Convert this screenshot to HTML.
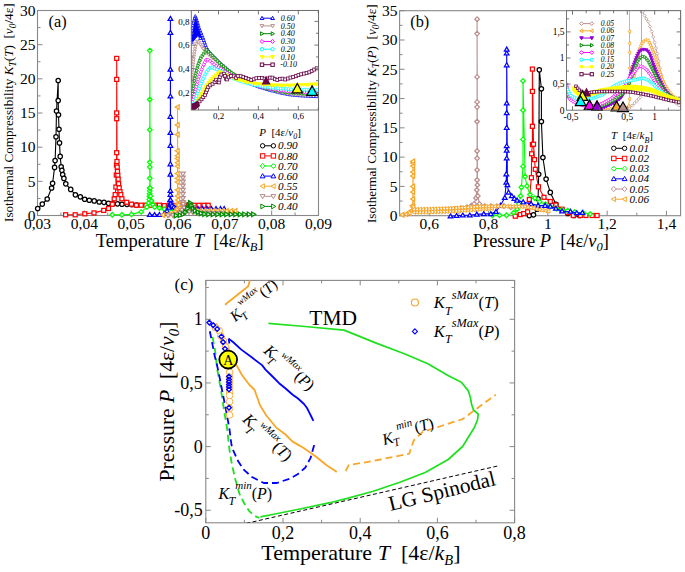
<!DOCTYPE html>
<html><head><meta charset="utf-8"><style>
html,body{margin:0;padding:0;background:#fff;}
svg{display:block;font-family:"Liberation Serif",serif;}
</style></head><body>
<svg width="685" height="572" viewBox="0 0 685 572">
<rect width="685" height="572" fill="#fff"/>
<rect x="37.5" y="10.5" width="281" height="205" fill="none" stroke="#888" stroke-width="1.1"/>
<line x1="37.5" y1="215.5" x2="37.5" y2="210.5" stroke="#888" stroke-width="1.0"/>
<line x1="84.33" y1="215.5" x2="84.33" y2="210.5" stroke="#888" stroke-width="1.0"/>
<line x1="131.17" y1="215.5" x2="131.17" y2="210.5" stroke="#888" stroke-width="1.0"/>
<line x1="178" y1="215.5" x2="178" y2="210.5" stroke="#888" stroke-width="1.0"/>
<line x1="224.83" y1="215.5" x2="224.83" y2="210.5" stroke="#888" stroke-width="1.0"/>
<line x1="271.67" y1="215.5" x2="271.67" y2="210.5" stroke="#888" stroke-width="1.0"/>
<line x1="318.5" y1="215.5" x2="318.5" y2="210.5" stroke="#888" stroke-width="1.0"/>
<line x1="60.92" y1="215.5" x2="60.92" y2="212.5" stroke="#888" stroke-width="1.0"/>
<line x1="107.75" y1="215.5" x2="107.75" y2="212.5" stroke="#888" stroke-width="1.0"/>
<line x1="154.58" y1="215.5" x2="154.58" y2="212.5" stroke="#888" stroke-width="1.0"/>
<line x1="201.42" y1="215.5" x2="201.42" y2="212.5" stroke="#888" stroke-width="1.0"/>
<line x1="248.25" y1="215.5" x2="248.25" y2="212.5" stroke="#888" stroke-width="1.0"/>
<line x1="295.08" y1="215.5" x2="295.08" y2="212.5" stroke="#888" stroke-width="1.0"/>
<line x1="37.5" y1="215.5" x2="42.5" y2="215.5" stroke="#888" stroke-width="1.0"/>
<line x1="37.5" y1="181.33" x2="42.5" y2="181.33" stroke="#888" stroke-width="1.0"/>
<line x1="37.5" y1="147.17" x2="42.5" y2="147.17" stroke="#888" stroke-width="1.0"/>
<line x1="37.5" y1="113" x2="42.5" y2="113" stroke="#888" stroke-width="1.0"/>
<line x1="37.5" y1="78.83" x2="42.5" y2="78.83" stroke="#888" stroke-width="1.0"/>
<line x1="37.5" y1="44.67" x2="42.5" y2="44.67" stroke="#888" stroke-width="1.0"/>
<line x1="37.5" y1="10.5" x2="42.5" y2="10.5" stroke="#888" stroke-width="1.0"/>
<line x1="37.5" y1="198.42" x2="40.5" y2="198.42" stroke="#888" stroke-width="1.0"/>
<line x1="37.5" y1="164.25" x2="40.5" y2="164.25" stroke="#888" stroke-width="1.0"/>
<line x1="37.5" y1="130.08" x2="40.5" y2="130.08" stroke="#888" stroke-width="1.0"/>
<line x1="37.5" y1="95.92" x2="40.5" y2="95.92" stroke="#888" stroke-width="1.0"/>
<line x1="37.5" y1="61.75" x2="40.5" y2="61.75" stroke="#888" stroke-width="1.0"/>
<line x1="37.5" y1="27.58" x2="40.5" y2="27.58" stroke="#888" stroke-width="1.0"/>
<text x="37.5" y="229.2" font-size="15.5" text-anchor="middle" fill="#000" >0,03</text>
<text x="84.33" y="229.2" font-size="15.5" text-anchor="middle" fill="#000" >0,04</text>
<text x="131.17" y="229.2" font-size="15.5" text-anchor="middle" fill="#000" >0,05</text>
<text x="178" y="229.2" font-size="15.5" text-anchor="middle" fill="#000" >0,06</text>
<text x="224.83" y="229.2" font-size="15.5" text-anchor="middle" fill="#000" >0,07</text>
<text x="271.67" y="229.2" font-size="15.5" text-anchor="middle" fill="#000" >0,08</text>
<text x="318.5" y="229.2" font-size="15.5" text-anchor="middle" fill="#000" >0,09</text>
<text x="35.6" y="220.8" font-size="15.5" text-anchor="end" fill="#000" >0</text>
<text x="35.6" y="186.63" font-size="15.5" text-anchor="end" fill="#000" >5</text>
<text x="35.6" y="152.47" font-size="15.5" text-anchor="end" fill="#000" >10</text>
<text x="35.6" y="118.3" font-size="15.5" text-anchor="end" fill="#000" >15</text>
<text x="35.6" y="84.13" font-size="15.5" text-anchor="end" fill="#000" >20</text>
<text x="35.6" y="49.97" font-size="15.5" text-anchor="end" fill="#000" >25</text>
<text x="35.6" y="15.8" font-size="15.5" text-anchor="end" fill="#000" >30</text>
<text x="95.8" y="246.7" font-size="18.5" text-anchor="start" fill="#000" >Temperature <tspan font-style="italic">T</tspan>&#160; [4ε/<tspan font-style="italic">k</tspan><tspan font-size="12.5" font-style="italic" dy="4">B</tspan><tspan dy="-4">]</tspan></text>
<text transform="translate(13.4,222) rotate(-90)" font-size="13.15">Isothermal Compressibility <tspan font-style="italic">K</tspan><tspan font-size="9.5" font-style="italic" dy="3">T</tspan><tspan dy="-3">(<tspan font-style="italic">T</tspan>)&#160; [<tspan font-style="italic">v</tspan></tspan><tspan font-size="9.5" font-style="italic" dy="3">0</tspan><tspan dy="-3">/4ε]</tspan></text>
<text x="48.6" y="27" font-size="16.3" text-anchor="start" fill="#000" >(a)</text>
<rect x="399.6" y="10.7" width="281" height="205" fill="none" stroke="#888" stroke-width="1.1"/>
<line x1="429.25" y1="215.7" x2="429.25" y2="210.7" stroke="#888" stroke-width="1.0"/>
<line x1="488.55" y1="215.7" x2="488.55" y2="210.7" stroke="#888" stroke-width="1.0"/>
<line x1="547.85" y1="215.7" x2="547.85" y2="210.7" stroke="#888" stroke-width="1.0"/>
<line x1="607.15" y1="215.7" x2="607.15" y2="210.7" stroke="#888" stroke-width="1.0"/>
<line x1="666.45" y1="215.7" x2="666.45" y2="210.7" stroke="#888" stroke-width="1.0"/>
<line x1="399.6" y1="215.7" x2="399.6" y2="212.7" stroke="#888" stroke-width="1.0"/>
<line x1="458.9" y1="215.7" x2="458.9" y2="212.7" stroke="#888" stroke-width="1.0"/>
<line x1="518.2" y1="215.7" x2="518.2" y2="212.7" stroke="#888" stroke-width="1.0"/>
<line x1="577.5" y1="215.7" x2="577.5" y2="212.7" stroke="#888" stroke-width="1.0"/>
<line x1="636.8" y1="215.7" x2="636.8" y2="212.7" stroke="#888" stroke-width="1.0"/>
<line x1="399.6" y1="215.7" x2="404.6" y2="215.7" stroke="#888" stroke-width="1.0"/>
<line x1="399.6" y1="186.41" x2="404.6" y2="186.41" stroke="#888" stroke-width="1.0"/>
<line x1="399.6" y1="157.13" x2="404.6" y2="157.13" stroke="#888" stroke-width="1.0"/>
<line x1="399.6" y1="127.84" x2="404.6" y2="127.84" stroke="#888" stroke-width="1.0"/>
<line x1="399.6" y1="98.56" x2="404.6" y2="98.56" stroke="#888" stroke-width="1.0"/>
<line x1="399.6" y1="69.27" x2="404.6" y2="69.27" stroke="#888" stroke-width="1.0"/>
<line x1="399.6" y1="39.99" x2="404.6" y2="39.99" stroke="#888" stroke-width="1.0"/>
<line x1="399.6" y1="10.7" x2="404.6" y2="10.7" stroke="#888" stroke-width="1.0"/>
<line x1="399.6" y1="201.06" x2="402.6" y2="201.06" stroke="#888" stroke-width="1.0"/>
<line x1="399.6" y1="171.77" x2="402.6" y2="171.77" stroke="#888" stroke-width="1.0"/>
<line x1="399.6" y1="142.49" x2="402.6" y2="142.49" stroke="#888" stroke-width="1.0"/>
<line x1="399.6" y1="113.2" x2="402.6" y2="113.2" stroke="#888" stroke-width="1.0"/>
<line x1="399.6" y1="83.91" x2="402.6" y2="83.91" stroke="#888" stroke-width="1.0"/>
<line x1="399.6" y1="54.63" x2="402.6" y2="54.63" stroke="#888" stroke-width="1.0"/>
<line x1="399.6" y1="25.34" x2="402.6" y2="25.34" stroke="#888" stroke-width="1.0"/>
<text x="429.25" y="229.4" font-size="15.5" text-anchor="middle" fill="#000" >0,6</text>
<text x="488.55" y="229.4" font-size="15.5" text-anchor="middle" fill="#000" >0,8</text>
<text x="547.85" y="229.4" font-size="15.5" text-anchor="middle" fill="#000" >1</text>
<text x="607.15" y="229.4" font-size="15.5" text-anchor="middle" fill="#000" >1,2</text>
<text x="666.45" y="229.4" font-size="15.5" text-anchor="middle" fill="#000" >1,4</text>
<text x="397.6" y="221" font-size="15.5" text-anchor="end" fill="#000" >0</text>
<text x="397.6" y="191.71" font-size="15.5" text-anchor="end" fill="#000" >5</text>
<text x="397.6" y="162.43" font-size="15.5" text-anchor="end" fill="#000" >10</text>
<text x="397.6" y="133.14" font-size="15.5" text-anchor="end" fill="#000" >15</text>
<text x="397.6" y="103.86" font-size="15.5" text-anchor="end" fill="#000" >20</text>
<text x="397.6" y="74.57" font-size="15.5" text-anchor="end" fill="#000" >25</text>
<text x="397.6" y="45.29" font-size="15.5" text-anchor="end" fill="#000" >30</text>
<text x="397.6" y="16" font-size="15.5" text-anchor="end" fill="#000" >35</text>
<text x="472.8" y="247.4" font-size="18.4" text-anchor="start" fill="#000" >Pressure <tspan font-style="italic">P</tspan>&#160; [4ε/<tspan font-style="italic">v</tspan><tspan font-size="12.5" font-style="italic" dy="4">0</tspan><tspan dy="-4">]</tspan></text>
<text transform="translate(376,223) rotate(-90)" font-size="13.1">Isothermal Compressibility <tspan font-style="italic">K</tspan><tspan font-size="9.5" font-style="italic" dy="3">T</tspan><tspan dy="-3">(<tspan font-style="italic">P</tspan>)&#160; [<tspan font-style="italic">v</tspan></tspan><tspan font-size="9.5" font-style="italic" dy="3">0</tspan><tspan dy="-3">/4ε]</tspan></text>
<text x="410.3" y="27" font-size="16.3" text-anchor="start" fill="#000" >(b)</text>
<rect x="205.8" y="280.4" width="308.8" height="242.4" fill="none" stroke="#888" stroke-width="1.1"/>
<line x1="205.8" y1="522.8" x2="205.8" y2="517.8" stroke="#888" stroke-width="1.0"/>
<line x1="205.8" y1="280.4" x2="205.8" y2="285.4" stroke="#888" stroke-width="1.0"/>
<line x1="283" y1="522.8" x2="283" y2="517.8" stroke="#888" stroke-width="1.0"/>
<line x1="283" y1="280.4" x2="283" y2="285.4" stroke="#888" stroke-width="1.0"/>
<line x1="360.2" y1="522.8" x2="360.2" y2="517.8" stroke="#888" stroke-width="1.0"/>
<line x1="360.2" y1="280.4" x2="360.2" y2="285.4" stroke="#888" stroke-width="1.0"/>
<line x1="437.4" y1="522.8" x2="437.4" y2="517.8" stroke="#888" stroke-width="1.0"/>
<line x1="437.4" y1="280.4" x2="437.4" y2="285.4" stroke="#888" stroke-width="1.0"/>
<line x1="514.6" y1="522.8" x2="514.6" y2="517.8" stroke="#888" stroke-width="1.0"/>
<line x1="514.6" y1="280.4" x2="514.6" y2="285.4" stroke="#888" stroke-width="1.0"/>
<line x1="244.4" y1="522.8" x2="244.4" y2="519.8" stroke="#888" stroke-width="1.0"/>
<line x1="244.4" y1="280.4" x2="244.4" y2="283.4" stroke="#888" stroke-width="1.0"/>
<line x1="321.6" y1="522.8" x2="321.6" y2="519.8" stroke="#888" stroke-width="1.0"/>
<line x1="321.6" y1="280.4" x2="321.6" y2="283.4" stroke="#888" stroke-width="1.0"/>
<line x1="398.8" y1="522.8" x2="398.8" y2="519.8" stroke="#888" stroke-width="1.0"/>
<line x1="398.8" y1="280.4" x2="398.8" y2="283.4" stroke="#888" stroke-width="1.0"/>
<line x1="476" y1="522.8" x2="476" y2="519.8" stroke="#888" stroke-width="1.0"/>
<line x1="476" y1="280.4" x2="476" y2="283.4" stroke="#888" stroke-width="1.0"/>
<line x1="205.8" y1="510.25" x2="210.8" y2="510.25" stroke="#888" stroke-width="1.0"/>
<line x1="514.6" y1="510.25" x2="509.6" y2="510.25" stroke="#888" stroke-width="1.0"/>
<line x1="205.8" y1="446.6" x2="210.8" y2="446.6" stroke="#888" stroke-width="1.0"/>
<line x1="514.6" y1="446.6" x2="509.6" y2="446.6" stroke="#888" stroke-width="1.0"/>
<line x1="205.8" y1="382.95" x2="210.8" y2="382.95" stroke="#888" stroke-width="1.0"/>
<line x1="514.6" y1="382.95" x2="509.6" y2="382.95" stroke="#888" stroke-width="1.0"/>
<line x1="205.8" y1="319.3" x2="210.8" y2="319.3" stroke="#888" stroke-width="1.0"/>
<line x1="514.6" y1="319.3" x2="509.6" y2="319.3" stroke="#888" stroke-width="1.0"/>
<line x1="205.8" y1="478.43" x2="208.8" y2="478.43" stroke="#888" stroke-width="1.0"/>
<line x1="514.6" y1="478.43" x2="511.6" y2="478.43" stroke="#888" stroke-width="1.0"/>
<line x1="205.8" y1="414.78" x2="208.8" y2="414.78" stroke="#888" stroke-width="1.0"/>
<line x1="514.6" y1="414.78" x2="511.6" y2="414.78" stroke="#888" stroke-width="1.0"/>
<line x1="205.8" y1="351.12" x2="208.8" y2="351.12" stroke="#888" stroke-width="1.0"/>
<line x1="514.6" y1="351.12" x2="511.6" y2="351.12" stroke="#888" stroke-width="1.0"/>
<line x1="205.8" y1="287.48" x2="208.8" y2="287.48" stroke="#888" stroke-width="1.0"/>
<line x1="514.6" y1="287.48" x2="511.6" y2="287.48" stroke="#888" stroke-width="1.0"/>
<text x="205.8" y="538.5" font-size="18" text-anchor="middle" fill="#000" >0</text>
<text x="283" y="538.5" font-size="18" text-anchor="middle" fill="#000" >0,2</text>
<text x="360.2" y="538.5" font-size="18" text-anchor="middle" fill="#000" >0,4</text>
<text x="437.4" y="538.5" font-size="18" text-anchor="middle" fill="#000" >0,6</text>
<text x="514.6" y="538.5" font-size="18" text-anchor="middle" fill="#000" >0,8</text>
<text x="202.8" y="516.35" font-size="18" text-anchor="end" fill="#000" >-0,5</text>
<text x="202.8" y="452.7" font-size="18" text-anchor="end" fill="#000" >0</text>
<text x="202.8" y="389.05" font-size="18" text-anchor="end" fill="#000" >0,5</text>
<text x="202.8" y="325.4" font-size="18" text-anchor="end" fill="#000" >1</text>
<text x="261.3" y="559.8" font-size="22" text-anchor="start" fill="#000" >Temperature <tspan font-style="italic">T</tspan>&#160; [4ε/<tspan font-style="italic">k</tspan><tspan font-size="14.5" font-style="italic" dy="5">B</tspan><tspan dy="-5">]</tspan></text>
<text transform="translate(174.2,481.5) rotate(-90)" font-size="21.6">Pressure <tspan font-style="italic">P</tspan>&#160; [4ε/<tspan font-style="italic">v</tspan><tspan font-size="15" font-style="italic" dy="5">0</tspan><tspan dy="-5">]</tspan></text>
<text x="174.6" y="289.6" font-size="17" text-anchor="start" fill="#000" >(c)</text>
<polyline points="37.7,208.5 42.3,204.1 47.2,199 51.6,188 52.6,183.3 54.6,167.4 55.1,160.6 56,136.8 56.5,111.1 58.2,80.5 58.2,100.6 58.5,114.8 59,129.2 59.5,142.9 60.2,156.4 61.2,166.7 61.9,170.3 62.7,174.5 63.9,178.4 65.8,183.8 70.7,189.4 75.4,194.8 80.3,196.8 84.7,199.2 89.3,200.2 94.2,200.9 99.2,202 104,202.3 108.5,203.3 112.7,203.7 117.5,203.8 122,204.2 127,204.3 131.8,204.6 136.5,205" fill="none" stroke="#000" stroke-width="1.1" stroke-linejoin="round" />
<circle cx="37.7" cy="208.5" r="2.2" fill="#fff" stroke="#000" stroke-width="1.25"/>
<circle cx="42.3" cy="204.1" r="2.2" fill="#fff" stroke="#000" stroke-width="1.25"/>
<circle cx="47.2" cy="199" r="2.2" fill="#fff" stroke="#000" stroke-width="1.25"/>
<circle cx="51.6" cy="188" r="2.2" fill="#fff" stroke="#000" stroke-width="1.25"/>
<circle cx="52.6" cy="183.3" r="2.2" fill="#fff" stroke="#000" stroke-width="1.25"/>
<circle cx="54.6" cy="167.4" r="2.2" fill="#fff" stroke="#000" stroke-width="1.25"/>
<circle cx="55.1" cy="160.6" r="2.2" fill="#fff" stroke="#000" stroke-width="1.25"/>
<circle cx="56" cy="136.8" r="2.2" fill="#fff" stroke="#000" stroke-width="1.25"/>
<circle cx="56.5" cy="111.1" r="2.2" fill="#fff" stroke="#000" stroke-width="1.25"/>
<circle cx="58.2" cy="80.5" r="2.2" fill="#fff" stroke="#000" stroke-width="1.25"/>
<circle cx="58.2" cy="100.6" r="2.2" fill="#fff" stroke="#000" stroke-width="1.25"/>
<circle cx="58.5" cy="114.8" r="2.2" fill="#fff" stroke="#000" stroke-width="1.25"/>
<circle cx="59" cy="129.2" r="2.2" fill="#fff" stroke="#000" stroke-width="1.25"/>
<circle cx="59.5" cy="142.9" r="2.2" fill="#fff" stroke="#000" stroke-width="1.25"/>
<circle cx="60.2" cy="156.4" r="2.2" fill="#fff" stroke="#000" stroke-width="1.25"/>
<circle cx="61.2" cy="166.7" r="2.2" fill="#fff" stroke="#000" stroke-width="1.25"/>
<circle cx="61.9" cy="170.3" r="2.2" fill="#fff" stroke="#000" stroke-width="1.25"/>
<circle cx="62.7" cy="174.5" r="2.2" fill="#fff" stroke="#000" stroke-width="1.25"/>
<circle cx="63.9" cy="178.4" r="2.2" fill="#fff" stroke="#000" stroke-width="1.25"/>
<circle cx="65.8" cy="183.8" r="2.2" fill="#fff" stroke="#000" stroke-width="1.25"/>
<circle cx="70.7" cy="189.4" r="2.2" fill="#fff" stroke="#000" stroke-width="1.25"/>
<circle cx="75.4" cy="194.8" r="2.2" fill="#fff" stroke="#000" stroke-width="1.25"/>
<circle cx="80.3" cy="196.8" r="2.2" fill="#fff" stroke="#000" stroke-width="1.25"/>
<circle cx="84.7" cy="199.2" r="2.2" fill="#fff" stroke="#000" stroke-width="1.25"/>
<circle cx="89.3" cy="200.2" r="2.2" fill="#fff" stroke="#000" stroke-width="1.25"/>
<circle cx="94.2" cy="200.9" r="2.2" fill="#fff" stroke="#000" stroke-width="1.25"/>
<circle cx="99.2" cy="202" r="2.2" fill="#fff" stroke="#000" stroke-width="1.25"/>
<circle cx="104" cy="202.3" r="2.2" fill="#fff" stroke="#000" stroke-width="1.25"/>
<circle cx="108.5" cy="203.3" r="2.2" fill="#fff" stroke="#000" stroke-width="1.25"/>
<circle cx="112.7" cy="203.7" r="2.2" fill="#fff" stroke="#000" stroke-width="1.25"/>
<circle cx="117.5" cy="203.8" r="2.2" fill="#fff" stroke="#000" stroke-width="1.25"/>
<circle cx="122" cy="204.2" r="2.2" fill="#fff" stroke="#000" stroke-width="1.25"/>
<circle cx="127" cy="204.3" r="2.2" fill="#fff" stroke="#000" stroke-width="1.25"/>
<circle cx="131.8" cy="204.6" r="2.2" fill="#fff" stroke="#000" stroke-width="1.25"/>
<circle cx="136.5" cy="205" r="2.2" fill="#fff" stroke="#000" stroke-width="1.25"/>
<polyline points="65.6,214.8 75.2,214.8 84.8,213.8 94,212.9 103.7,210.4 108.5,208.5 112.3,204.2 114.2,198.8 115.2,194.6 115.9,187 116.3,175 116.5,165 116.7,152.7 116.7,118.7 116.7,112.9 116.7,79.4 116.7,58.4 117,161.5 117.2,167.1 117.5,171.5 117.8,175.4 118.2,179.2 118.6,183.7 119.2,187.9 120,191.7 120.8,194.6 121.9,198.8 126.7,202.3 131.5,204.2 136.3,205.2 141.2,205.2 146,205.2 150.6,205.2 155,205.2 159.4,205.2 164.2,205.6 169,205.5 174,205.4 179,205.4 184,205.4 189,205.3 194,205.3 199,205.3 204,205.3 208.2,205.3" fill="none" stroke="#f00" stroke-width="1.1" stroke-linejoin="round" />
<rect x="63.6" y="212.8" width="4" height="4" fill="#fff" stroke="#f00" stroke-width="1.25"/>
<rect x="73.2" y="212.8" width="4" height="4" fill="#fff" stroke="#f00" stroke-width="1.25"/>
<rect x="82.8" y="211.8" width="4" height="4" fill="#fff" stroke="#f00" stroke-width="1.25"/>
<rect x="92" y="210.9" width="4" height="4" fill="#fff" stroke="#f00" stroke-width="1.25"/>
<rect x="101.7" y="208.4" width="4" height="4" fill="#fff" stroke="#f00" stroke-width="1.25"/>
<rect x="106.5" y="206.5" width="4" height="4" fill="#fff" stroke="#f00" stroke-width="1.25"/>
<rect x="110.3" y="202.2" width="4" height="4" fill="#fff" stroke="#f00" stroke-width="1.25"/>
<rect x="112.2" y="196.8" width="4" height="4" fill="#fff" stroke="#f00" stroke-width="1.25"/>
<rect x="113.2" y="192.6" width="4" height="4" fill="#fff" stroke="#f00" stroke-width="1.25"/>
<rect x="113.9" y="185" width="4" height="4" fill="#fff" stroke="#f00" stroke-width="1.25"/>
<rect x="114.3" y="173" width="4" height="4" fill="#fff" stroke="#f00" stroke-width="1.25"/>
<rect x="114.5" y="163" width="4" height="4" fill="#fff" stroke="#f00" stroke-width="1.25"/>
<rect x="114.7" y="150.7" width="4" height="4" fill="#fff" stroke="#f00" stroke-width="1.25"/>
<rect x="114.7" y="116.7" width="4" height="4" fill="#fff" stroke="#f00" stroke-width="1.25"/>
<rect x="114.7" y="110.9" width="4" height="4" fill="#fff" stroke="#f00" stroke-width="1.25"/>
<rect x="114.7" y="77.4" width="4" height="4" fill="#fff" stroke="#f00" stroke-width="1.25"/>
<rect x="114.7" y="56.4" width="4" height="4" fill="#fff" stroke="#f00" stroke-width="1.25"/>
<rect x="115" y="159.5" width="4" height="4" fill="#fff" stroke="#f00" stroke-width="1.25"/>
<rect x="115.2" y="165.1" width="4" height="4" fill="#fff" stroke="#f00" stroke-width="1.25"/>
<rect x="115.5" y="169.5" width="4" height="4" fill="#fff" stroke="#f00" stroke-width="1.25"/>
<rect x="115.8" y="173.4" width="4" height="4" fill="#fff" stroke="#f00" stroke-width="1.25"/>
<rect x="116.2" y="177.2" width="4" height="4" fill="#fff" stroke="#f00" stroke-width="1.25"/>
<rect x="116.6" y="181.7" width="4" height="4" fill="#fff" stroke="#f00" stroke-width="1.25"/>
<rect x="117.2" y="185.9" width="4" height="4" fill="#fff" stroke="#f00" stroke-width="1.25"/>
<rect x="118" y="189.7" width="4" height="4" fill="#fff" stroke="#f00" stroke-width="1.25"/>
<rect x="118.8" y="192.6" width="4" height="4" fill="#fff" stroke="#f00" stroke-width="1.25"/>
<rect x="119.9" y="196.8" width="4" height="4" fill="#fff" stroke="#f00" stroke-width="1.25"/>
<rect x="124.7" y="200.3" width="4" height="4" fill="#fff" stroke="#f00" stroke-width="1.25"/>
<rect x="129.5" y="202.2" width="4" height="4" fill="#fff" stroke="#f00" stroke-width="1.25"/>
<rect x="134.3" y="203.2" width="4" height="4" fill="#fff" stroke="#f00" stroke-width="1.25"/>
<rect x="139.2" y="203.2" width="4" height="4" fill="#fff" stroke="#f00" stroke-width="1.25"/>
<rect x="144" y="203.2" width="4" height="4" fill="#fff" stroke="#f00" stroke-width="1.25"/>
<rect x="148.6" y="203.2" width="4" height="4" fill="#fff" stroke="#f00" stroke-width="1.25"/>
<rect x="153" y="203.2" width="4" height="4" fill="#fff" stroke="#f00" stroke-width="1.25"/>
<rect x="157.4" y="203.2" width="4" height="4" fill="#fff" stroke="#f00" stroke-width="1.25"/>
<rect x="162.2" y="203.6" width="4" height="4" fill="#fff" stroke="#f00" stroke-width="1.25"/>
<rect x="167" y="203.5" width="4" height="4" fill="#fff" stroke="#f00" stroke-width="1.25"/>
<rect x="172" y="203.4" width="4" height="4" fill="#fff" stroke="#f00" stroke-width="1.25"/>
<rect x="177" y="203.4" width="4" height="4" fill="#fff" stroke="#f00" stroke-width="1.25"/>
<rect x="182" y="203.4" width="4" height="4" fill="#fff" stroke="#f00" stroke-width="1.25"/>
<rect x="187" y="203.3" width="4" height="4" fill="#fff" stroke="#f00" stroke-width="1.25"/>
<rect x="192" y="203.3" width="4" height="4" fill="#fff" stroke="#f00" stroke-width="1.25"/>
<rect x="197" y="203.3" width="4" height="4" fill="#fff" stroke="#f00" stroke-width="1.25"/>
<rect x="202" y="203.3" width="4" height="4" fill="#fff" stroke="#f00" stroke-width="1.25"/>
<rect x="206.2" y="203.3" width="4" height="4" fill="#fff" stroke="#f00" stroke-width="1.25"/>
<polyline points="112.3,214.8 121.9,214.8 131.5,214.4 141.2,211.9 146.9,207.1 148.5,203 149.3,199.4 149.5,196.5 149.6,193.7 149.7,190.8 149.8,187.9 149.8,178.3 149.8,167.1 149.8,162.3 149.8,129.8 149.8,99.5 149.8,50.6 150.1,188 150.5,196 151.5,201 152.8,204.5 154.6,207.1 159.4,208 164.2,209 169,209.5 174,210 179,210.3 184,210.6 189,210.8 194,211 199,211.2 204,211.4 209,211.6 214,211.8 219,212 224,212.2 229,212.4" fill="none" stroke="#0f0" stroke-width="1.1" stroke-linejoin="round" />
<polygon points="112.3,212.5 114.6,214.8 112.3,217.1 110,214.8" fill="#fff" stroke="#0f0" stroke-width="1.25"/>
<polygon points="121.9,212.5 124.2,214.8 121.9,217.1 119.6,214.8" fill="#fff" stroke="#0f0" stroke-width="1.25"/>
<polygon points="131.5,212.1 133.8,214.4 131.5,216.7 129.2,214.4" fill="#fff" stroke="#0f0" stroke-width="1.25"/>
<polygon points="141.2,209.6 143.5,211.9 141.2,214.2 138.9,211.9" fill="#fff" stroke="#0f0" stroke-width="1.25"/>
<polygon points="146.9,204.8 149.2,207.1 146.9,209.4 144.6,207.1" fill="#fff" stroke="#0f0" stroke-width="1.25"/>
<polygon points="148.5,200.7 150.8,203 148.5,205.3 146.2,203" fill="#fff" stroke="#0f0" stroke-width="1.25"/>
<polygon points="149.3,197.1 151.6,199.4 149.3,201.7 147,199.4" fill="#fff" stroke="#0f0" stroke-width="1.25"/>
<polygon points="149.5,194.2 151.8,196.5 149.5,198.8 147.2,196.5" fill="#fff" stroke="#0f0" stroke-width="1.25"/>
<polygon points="149.6,191.4 151.9,193.7 149.6,196 147.3,193.7" fill="#fff" stroke="#0f0" stroke-width="1.25"/>
<polygon points="149.7,188.5 152,190.8 149.7,193.1 147.4,190.8" fill="#fff" stroke="#0f0" stroke-width="1.25"/>
<polygon points="149.8,185.6 152.1,187.9 149.8,190.2 147.5,187.9" fill="#fff" stroke="#0f0" stroke-width="1.25"/>
<polygon points="149.8,176 152.1,178.3 149.8,180.6 147.5,178.3" fill="#fff" stroke="#0f0" stroke-width="1.25"/>
<polygon points="149.8,164.8 152.1,167.1 149.8,169.4 147.5,167.1" fill="#fff" stroke="#0f0" stroke-width="1.25"/>
<polygon points="149.8,160 152.1,162.3 149.8,164.6 147.5,162.3" fill="#fff" stroke="#0f0" stroke-width="1.25"/>
<polygon points="149.8,127.5 152.1,129.8 149.8,132.1 147.5,129.8" fill="#fff" stroke="#0f0" stroke-width="1.25"/>
<polygon points="149.8,97.2 152.1,99.5 149.8,101.8 147.5,99.5" fill="#fff" stroke="#0f0" stroke-width="1.25"/>
<polygon points="149.8,48.3 152.1,50.6 149.8,52.9 147.5,50.6" fill="#fff" stroke="#0f0" stroke-width="1.25"/>
<polygon points="150.1,185.7 152.4,188 150.1,190.3 147.8,188" fill="#fff" stroke="#0f0" stroke-width="1.25"/>
<polygon points="150.5,193.7 152.8,196 150.5,198.3 148.2,196" fill="#fff" stroke="#0f0" stroke-width="1.25"/>
<polygon points="151.5,198.7 153.8,201 151.5,203.3 149.2,201" fill="#fff" stroke="#0f0" stroke-width="1.25"/>
<polygon points="152.8,202.2 155.1,204.5 152.8,206.8 150.5,204.5" fill="#fff" stroke="#0f0" stroke-width="1.25"/>
<polygon points="154.6,204.8 156.9,207.1 154.6,209.4 152.3,207.1" fill="#fff" stroke="#0f0" stroke-width="1.25"/>
<polygon points="159.4,205.7 161.7,208 159.4,210.3 157.1,208" fill="#fff" stroke="#0f0" stroke-width="1.25"/>
<polygon points="164.2,206.7 166.5,209 164.2,211.3 161.9,209" fill="#fff" stroke="#0f0" stroke-width="1.25"/>
<polygon points="169,207.2 171.3,209.5 169,211.8 166.7,209.5" fill="#fff" stroke="#0f0" stroke-width="1.25"/>
<polygon points="174,207.7 176.3,210 174,212.3 171.7,210" fill="#fff" stroke="#0f0" stroke-width="1.25"/>
<polygon points="179,208 181.3,210.3 179,212.6 176.7,210.3" fill="#fff" stroke="#0f0" stroke-width="1.25"/>
<polygon points="184,208.3 186.3,210.6 184,212.9 181.7,210.6" fill="#fff" stroke="#0f0" stroke-width="1.25"/>
<polygon points="189,208.5 191.3,210.8 189,213.1 186.7,210.8" fill="#fff" stroke="#0f0" stroke-width="1.25"/>
<polygon points="194,208.7 196.3,211 194,213.3 191.7,211" fill="#fff" stroke="#0f0" stroke-width="1.25"/>
<polygon points="199,208.9 201.3,211.2 199,213.5 196.7,211.2" fill="#fff" stroke="#0f0" stroke-width="1.25"/>
<polygon points="204,209.1 206.3,211.4 204,213.7 201.7,211.4" fill="#fff" stroke="#0f0" stroke-width="1.25"/>
<polygon points="209,209.3 211.3,211.6 209,213.9 206.7,211.6" fill="#fff" stroke="#0f0" stroke-width="1.25"/>
<polygon points="214,209.5 216.3,211.8 214,214.1 211.7,211.8" fill="#fff" stroke="#0f0" stroke-width="1.25"/>
<polygon points="219,209.7 221.3,212 219,214.3 216.7,212" fill="#fff" stroke="#0f0" stroke-width="1.25"/>
<polygon points="224,209.9 226.3,212.2 224,214.5 221.7,212.2" fill="#fff" stroke="#0f0" stroke-width="1.25"/>
<polygon points="229,210.1 231.3,212.4 229,214.7 226.7,212.4" fill="#fff" stroke="#0f0" stroke-width="1.25"/>
<polyline points="149.8,214.8 154.6,214.8 159.4,214.8 164.2,213.8 167,211 169,207.5 169.8,204.2 170.1,200 170.4,194.6 170.4,190.8 170.4,174.4 170.4,164.1 170.4,145.6 170.4,132.7 170.4,116.6 170.4,96.3 170.4,78.7 170.4,69.4 170.4,32.7 170.4,18.7 170.6,200 171,203.5 172,205.5 174,207 176,208 180,208.9 184.5,208.9 189,208.9 193.5,208.9 198,208.9 202.5,208.9 207,208.9 211.5,208.9 216,208.9 220.5,208.9 224.2,208.9" fill="none" stroke="#00f" stroke-width="1.1" stroke-linejoin="round" />
<polygon points="149.8,212.49 152.11,216.48 147.49,216.48" fill="#fff" stroke="#00f" stroke-width="1.25"/>
<polygon points="154.6,212.49 156.91,216.48 152.29,216.48" fill="#fff" stroke="#00f" stroke-width="1.25"/>
<polygon points="159.4,212.49 161.71,216.48 157.09,216.48" fill="#fff" stroke="#00f" stroke-width="1.25"/>
<polygon points="164.2,211.49 166.51,215.48 161.89,215.48" fill="#fff" stroke="#00f" stroke-width="1.25"/>
<polygon points="167,208.69 169.31,212.68 164.69,212.68" fill="#fff" stroke="#00f" stroke-width="1.25"/>
<polygon points="169,205.19 171.31,209.18 166.69,209.18" fill="#fff" stroke="#00f" stroke-width="1.25"/>
<polygon points="169.8,201.89 172.11,205.88 167.49,205.88" fill="#fff" stroke="#00f" stroke-width="1.25"/>
<polygon points="170.1,197.69 172.41,201.68 167.79,201.68" fill="#fff" stroke="#00f" stroke-width="1.25"/>
<polygon points="170.4,192.29 172.71,196.28 168.09,196.28" fill="#fff" stroke="#00f" stroke-width="1.25"/>
<polygon points="170.4,188.49 172.71,192.48 168.09,192.48" fill="#fff" stroke="#00f" stroke-width="1.25"/>
<polygon points="170.4,172.09 172.71,176.08 168.09,176.08" fill="#fff" stroke="#00f" stroke-width="1.25"/>
<polygon points="170.4,161.79 172.71,165.78 168.09,165.78" fill="#fff" stroke="#00f" stroke-width="1.25"/>
<polygon points="170.4,143.29 172.71,147.28 168.09,147.28" fill="#fff" stroke="#00f" stroke-width="1.25"/>
<polygon points="170.4,130.39 172.71,134.38 168.09,134.38" fill="#fff" stroke="#00f" stroke-width="1.25"/>
<polygon points="170.4,114.29 172.71,118.28 168.09,118.28" fill="#fff" stroke="#00f" stroke-width="1.25"/>
<polygon points="170.4,93.99 172.71,97.98 168.09,97.98" fill="#fff" stroke="#00f" stroke-width="1.25"/>
<polygon points="170.4,76.39 172.71,80.38 168.09,80.38" fill="#fff" stroke="#00f" stroke-width="1.25"/>
<polygon points="170.4,67.09 172.71,71.08 168.09,71.08" fill="#fff" stroke="#00f" stroke-width="1.25"/>
<polygon points="170.4,30.39 172.71,34.38 168.09,34.38" fill="#fff" stroke="#00f" stroke-width="1.25"/>
<polygon points="170.4,16.39 172.71,20.38 168.09,20.38" fill="#fff" stroke="#00f" stroke-width="1.25"/>
<polygon points="170.6,197.69 172.91,201.68 168.29,201.68" fill="#fff" stroke="#00f" stroke-width="1.25"/>
<polygon points="171,201.19 173.31,205.18 168.69,205.18" fill="#fff" stroke="#00f" stroke-width="1.25"/>
<polygon points="172,203.19 174.31,207.18 169.69,207.18" fill="#fff" stroke="#00f" stroke-width="1.25"/>
<polygon points="174,204.69 176.31,208.68 171.69,208.68" fill="#fff" stroke="#00f" stroke-width="1.25"/>
<polygon points="176,205.69 178.31,209.68 173.69,209.68" fill="#fff" stroke="#00f" stroke-width="1.25"/>
<polygon points="180,206.59 182.31,210.58 177.69,210.58" fill="#fff" stroke="#00f" stroke-width="1.25"/>
<polygon points="184.5,206.59 186.81,210.58 182.19,210.58" fill="#fff" stroke="#00f" stroke-width="1.25"/>
<polygon points="189,206.59 191.31,210.58 186.69,210.58" fill="#fff" stroke="#00f" stroke-width="1.25"/>
<polygon points="193.5,206.59 195.81,210.58 191.19,210.58" fill="#fff" stroke="#00f" stroke-width="1.25"/>
<polygon points="198,206.59 200.31,210.58 195.69,210.58" fill="#fff" stroke="#00f" stroke-width="1.25"/>
<polygon points="202.5,206.59 204.81,210.58 200.19,210.58" fill="#fff" stroke="#00f" stroke-width="1.25"/>
<polygon points="207,206.59 209.31,210.58 204.69,210.58" fill="#fff" stroke="#00f" stroke-width="1.25"/>
<polygon points="211.5,206.59 213.81,210.58 209.19,210.58" fill="#fff" stroke="#00f" stroke-width="1.25"/>
<polygon points="216,206.59 218.31,210.58 213.69,210.58" fill="#fff" stroke="#00f" stroke-width="1.25"/>
<polygon points="220.5,206.59 222.81,210.58 218.19,210.58" fill="#fff" stroke="#00f" stroke-width="1.25"/>
<polygon points="224.2,206.59 226.51,210.58 221.89,210.58" fill="#fff" stroke="#00f" stroke-width="1.25"/>
<polyline points="163,215 168,214.5 172,213.5 175,212 176.8,209 177.3,204 177.5,196 177.5,190 177.5,182.1 177.5,178.3 177.5,173.5 177.5,166.2 177.5,162.7 177.5,158.5 177.5,155.7 177.5,150.8 177.5,134.5 177.5,125 177.5,107.1 177.8,200 178.3,205 179.5,208 182,209.8 186,210.4 190.5,210.7 195,211 199.5,211 204,211 208.5,211 213,211 217.5,211 222,211 226.5,211 231,211 235.2,211" fill="none" stroke="#f7a72a" stroke-width="1.1" stroke-linejoin="round" />
<polygon points="160.69,215 164.68,212.69 164.68,217.31" fill="#fff" stroke="#f7a72a" stroke-width="1.25"/>
<polygon points="165.69,214.5 169.68,212.19 169.68,216.81" fill="#fff" stroke="#f7a72a" stroke-width="1.25"/>
<polygon points="169.69,213.5 173.68,211.19 173.68,215.81" fill="#fff" stroke="#f7a72a" stroke-width="1.25"/>
<polygon points="172.69,212 176.68,209.69 176.68,214.31" fill="#fff" stroke="#f7a72a" stroke-width="1.25"/>
<polygon points="174.49,209 178.48,206.69 178.48,211.31" fill="#fff" stroke="#f7a72a" stroke-width="1.25"/>
<polygon points="174.99,204 178.98,201.69 178.98,206.31" fill="#fff" stroke="#f7a72a" stroke-width="1.25"/>
<polygon points="175.19,196 179.18,193.69 179.18,198.31" fill="#fff" stroke="#f7a72a" stroke-width="1.25"/>
<polygon points="175.19,190 179.18,187.69 179.18,192.31" fill="#fff" stroke="#f7a72a" stroke-width="1.25"/>
<polygon points="175.19,182.1 179.18,179.79 179.18,184.41" fill="#fff" stroke="#f7a72a" stroke-width="1.25"/>
<polygon points="175.19,178.3 179.18,175.99 179.18,180.61" fill="#fff" stroke="#f7a72a" stroke-width="1.25"/>
<polygon points="175.19,173.5 179.18,171.19 179.18,175.81" fill="#fff" stroke="#f7a72a" stroke-width="1.25"/>
<polygon points="175.19,166.2 179.18,163.89 179.18,168.51" fill="#fff" stroke="#f7a72a" stroke-width="1.25"/>
<polygon points="175.19,162.7 179.18,160.39 179.18,165.01" fill="#fff" stroke="#f7a72a" stroke-width="1.25"/>
<polygon points="175.19,158.5 179.18,156.19 179.18,160.81" fill="#fff" stroke="#f7a72a" stroke-width="1.25"/>
<polygon points="175.19,155.7 179.18,153.39 179.18,158.01" fill="#fff" stroke="#f7a72a" stroke-width="1.25"/>
<polygon points="175.19,150.8 179.18,148.49 179.18,153.11" fill="#fff" stroke="#f7a72a" stroke-width="1.25"/>
<polygon points="175.19,134.5 179.18,132.19 179.18,136.81" fill="#fff" stroke="#f7a72a" stroke-width="1.25"/>
<polygon points="175.19,125 179.18,122.69 179.18,127.31" fill="#fff" stroke="#f7a72a" stroke-width="1.25"/>
<polygon points="175.19,107.1 179.18,104.79 179.18,109.41" fill="#fff" stroke="#f7a72a" stroke-width="1.25"/>
<polygon points="175.49,200 179.48,197.69 179.48,202.31" fill="#fff" stroke="#f7a72a" stroke-width="1.25"/>
<polygon points="175.99,205 179.98,202.69 179.98,207.31" fill="#fff" stroke="#f7a72a" stroke-width="1.25"/>
<polygon points="177.19,208 181.18,205.69 181.18,210.31" fill="#fff" stroke="#f7a72a" stroke-width="1.25"/>
<polygon points="179.69,209.8 183.68,207.49 183.68,212.11" fill="#fff" stroke="#f7a72a" stroke-width="1.25"/>
<polygon points="183.69,210.4 187.68,208.09 187.68,212.71" fill="#fff" stroke="#f7a72a" stroke-width="1.25"/>
<polygon points="188.19,210.7 192.18,208.39 192.18,213.01" fill="#fff" stroke="#f7a72a" stroke-width="1.25"/>
<polygon points="192.69,211 196.68,208.69 196.68,213.31" fill="#fff" stroke="#f7a72a" stroke-width="1.25"/>
<polygon points="197.19,211 201.18,208.69 201.18,213.31" fill="#fff" stroke="#f7a72a" stroke-width="1.25"/>
<polygon points="201.69,211 205.68,208.69 205.68,213.31" fill="#fff" stroke="#f7a72a" stroke-width="1.25"/>
<polygon points="206.19,211 210.18,208.69 210.18,213.31" fill="#fff" stroke="#f7a72a" stroke-width="1.25"/>
<polygon points="210.69,211 214.68,208.69 214.68,213.31" fill="#fff" stroke="#f7a72a" stroke-width="1.25"/>
<polygon points="215.19,211 219.18,208.69 219.18,213.31" fill="#fff" stroke="#f7a72a" stroke-width="1.25"/>
<polygon points="219.69,211 223.68,208.69 223.68,213.31" fill="#fff" stroke="#f7a72a" stroke-width="1.25"/>
<polygon points="224.19,211 228.18,208.69 228.18,213.31" fill="#fff" stroke="#f7a72a" stroke-width="1.25"/>
<polygon points="228.69,211 232.68,208.69 232.68,213.31" fill="#fff" stroke="#f7a72a" stroke-width="1.25"/>
<polygon points="232.89,211 236.88,208.69 236.88,213.31" fill="#fff" stroke="#f7a72a" stroke-width="1.25"/>
<polyline points="168,215.5 173,215.2 177,214.5 180,213 182,210 182.9,206 182.9,202.3 182.9,198.2 182.9,194 182.9,190 182.9,185.8 182.9,181.8 182.9,177.8 182.9,173.9 183.3,204 184.2,208 186,210.5 189,212 193,212.5 197.5,212.8 202,213 206.5,213.1 211,213.2 215.5,213.2 220,213.3" fill="none" stroke="#bc8f8f" stroke-width="1.1" stroke-linejoin="round" />
<polygon points="168,217.81 170.31,213.82 165.69,213.82" fill="#fff" stroke="#bc8f8f" stroke-width="1.25"/>
<polygon points="173,217.51 175.31,213.52 170.69,213.52" fill="#fff" stroke="#bc8f8f" stroke-width="1.25"/>
<polygon points="177,216.81 179.31,212.82 174.69,212.82" fill="#fff" stroke="#bc8f8f" stroke-width="1.25"/>
<polygon points="180,215.31 182.31,211.32 177.69,211.32" fill="#fff" stroke="#bc8f8f" stroke-width="1.25"/>
<polygon points="182,212.31 184.31,208.32 179.69,208.32" fill="#fff" stroke="#bc8f8f" stroke-width="1.25"/>
<polygon points="182.9,208.31 185.21,204.32 180.59,204.32" fill="#fff" stroke="#bc8f8f" stroke-width="1.25"/>
<polygon points="182.9,204.61 185.21,200.62 180.59,200.62" fill="#fff" stroke="#bc8f8f" stroke-width="1.25"/>
<polygon points="182.9,200.51 185.21,196.52 180.59,196.52" fill="#fff" stroke="#bc8f8f" stroke-width="1.25"/>
<polygon points="182.9,196.31 185.21,192.32 180.59,192.32" fill="#fff" stroke="#bc8f8f" stroke-width="1.25"/>
<polygon points="182.9,192.31 185.21,188.32 180.59,188.32" fill="#fff" stroke="#bc8f8f" stroke-width="1.25"/>
<polygon points="182.9,188.11 185.21,184.12 180.59,184.12" fill="#fff" stroke="#bc8f8f" stroke-width="1.25"/>
<polygon points="182.9,184.11 185.21,180.12 180.59,180.12" fill="#fff" stroke="#bc8f8f" stroke-width="1.25"/>
<polygon points="182.9,180.11 185.21,176.12 180.59,176.12" fill="#fff" stroke="#bc8f8f" stroke-width="1.25"/>
<polygon points="182.9,176.21 185.21,172.22 180.59,172.22" fill="#fff" stroke="#bc8f8f" stroke-width="1.25"/>
<polygon points="183.3,206.31 185.61,202.32 180.99,202.32" fill="#fff" stroke="#bc8f8f" stroke-width="1.25"/>
<polygon points="184.2,210.31 186.51,206.32 181.89,206.32" fill="#fff" stroke="#bc8f8f" stroke-width="1.25"/>
<polygon points="186,212.81 188.31,208.82 183.69,208.82" fill="#fff" stroke="#bc8f8f" stroke-width="1.25"/>
<polygon points="189,214.31 191.31,210.32 186.69,210.32" fill="#fff" stroke="#bc8f8f" stroke-width="1.25"/>
<polygon points="193,214.81 195.31,210.82 190.69,210.82" fill="#fff" stroke="#bc8f8f" stroke-width="1.25"/>
<polygon points="197.5,215.11 199.81,211.12 195.19,211.12" fill="#fff" stroke="#bc8f8f" stroke-width="1.25"/>
<polygon points="202,215.31 204.31,211.32 199.69,211.32" fill="#fff" stroke="#bc8f8f" stroke-width="1.25"/>
<polygon points="206.5,215.41 208.81,211.42 204.19,211.42" fill="#fff" stroke="#bc8f8f" stroke-width="1.25"/>
<polygon points="211,215.51 213.31,211.52 208.69,211.52" fill="#fff" stroke="#bc8f8f" stroke-width="1.25"/>
<polygon points="215.5,215.51 217.81,211.52 213.19,211.52" fill="#fff" stroke="#bc8f8f" stroke-width="1.25"/>
<polygon points="220,215.61 222.31,211.62 217.69,211.62" fill="#fff" stroke="#bc8f8f" stroke-width="1.25"/>
<polyline points="176,215.5 180,215.2 183,214.2 185.5,212 187.5,208.5 189,205 190.3,203 191.5,205.5 193,208.5 195,210.8 198,212.3 201,213.3 204.5,214 208.5,214.3 213,214.3 217.5,214.3 222,214.3 226.5,214.3 231,214.3 235.5,214.3 240,214.3 244.5,214.3 249,214.3 253.4,214.3" fill="none" stroke="#008b00" stroke-width="1.1" stroke-linejoin="round" />
<polygon points="178.31,215.5 174.32,213.19 174.32,217.81" fill="#fff" stroke="#008b00" stroke-width="1.25"/>
<polygon points="182.31,215.2 178.32,212.89 178.32,217.51" fill="#fff" stroke="#008b00" stroke-width="1.25"/>
<polygon points="185.31,214.2 181.32,211.89 181.32,216.51" fill="#fff" stroke="#008b00" stroke-width="1.25"/>
<polygon points="187.81,212 183.82,209.69 183.82,214.31" fill="#fff" stroke="#008b00" stroke-width="1.25"/>
<polygon points="189.81,208.5 185.82,206.19 185.82,210.81" fill="#fff" stroke="#008b00" stroke-width="1.25"/>
<polygon points="191.31,205 187.32,202.69 187.32,207.31" fill="#fff" stroke="#008b00" stroke-width="1.25"/>
<polygon points="192.61,203 188.62,200.69 188.62,205.31" fill="#fff" stroke="#008b00" stroke-width="1.25"/>
<polygon points="193.81,205.5 189.82,203.19 189.82,207.81" fill="#fff" stroke="#008b00" stroke-width="1.25"/>
<polygon points="195.31,208.5 191.32,206.19 191.32,210.81" fill="#fff" stroke="#008b00" stroke-width="1.25"/>
<polygon points="197.31,210.8 193.32,208.49 193.32,213.11" fill="#fff" stroke="#008b00" stroke-width="1.25"/>
<polygon points="200.31,212.3 196.32,209.99 196.32,214.61" fill="#fff" stroke="#008b00" stroke-width="1.25"/>
<polygon points="203.31,213.3 199.32,210.99 199.32,215.61" fill="#fff" stroke="#008b00" stroke-width="1.25"/>
<polygon points="206.81,214 202.82,211.69 202.82,216.31" fill="#fff" stroke="#008b00" stroke-width="1.25"/>
<polygon points="210.81,214.3 206.82,211.99 206.82,216.61" fill="#fff" stroke="#008b00" stroke-width="1.25"/>
<polygon points="215.31,214.3 211.32,211.99 211.32,216.61" fill="#fff" stroke="#008b00" stroke-width="1.25"/>
<polygon points="219.81,214.3 215.82,211.99 215.82,216.61" fill="#fff" stroke="#008b00" stroke-width="1.25"/>
<polygon points="224.31,214.3 220.32,211.99 220.32,216.61" fill="#fff" stroke="#008b00" stroke-width="1.25"/>
<polygon points="228.81,214.3 224.82,211.99 224.82,216.61" fill="#fff" stroke="#008b00" stroke-width="1.25"/>
<polygon points="233.31,214.3 229.32,211.99 229.32,216.61" fill="#fff" stroke="#008b00" stroke-width="1.25"/>
<polygon points="237.81,214.3 233.82,211.99 233.82,216.61" fill="#fff" stroke="#008b00" stroke-width="1.25"/>
<polygon points="242.31,214.3 238.32,211.99 238.32,216.61" fill="#fff" stroke="#008b00" stroke-width="1.25"/>
<polygon points="246.81,214.3 242.82,211.99 242.82,216.61" fill="#fff" stroke="#008b00" stroke-width="1.25"/>
<polygon points="251.31,214.3 247.32,211.99 247.32,216.61" fill="#fff" stroke="#008b00" stroke-width="1.25"/>
<polygon points="255.71,214.3 251.72,211.99 251.72,216.61" fill="#fff" stroke="#008b00" stroke-width="1.25"/>
<text x="259.2" y="135.8" font-size="11" text-anchor="start" fill="#000" ><tspan font-style="italic">P</tspan>&#160; [4ε/<tspan font-style="italic">v</tspan><tspan font-size="8" font-style="italic" dy="3.5">0</tspan><tspan dy="-3.5">]</tspan></text>
<polyline points="262.6,145.8 273.4,145.8" fill="none" stroke="#000" stroke-width="1" stroke-linejoin="round" />
<circle cx="262.6" cy="145.8" r="2.2" fill="#fff" stroke="#000" stroke-width="1.0"/>
<circle cx="273.4" cy="145.8" r="2.2" fill="#fff" stroke="#000" stroke-width="1.0"/>
<text x="278.1" y="149.4" font-size="11.2" text-anchor="start" font-style="italic" fill="#000" >0.90</text>
<polyline points="262.6,155.9 273.4,155.9" fill="none" stroke="#f00" stroke-width="1" stroke-linejoin="round" />
<rect x="260.4" y="153.7" width="4.4" height="4.4" fill="#fff" stroke="#f00" stroke-width="1.0"/>
<rect x="271.2" y="153.7" width="4.4" height="4.4" fill="#fff" stroke="#f00" stroke-width="1.0"/>
<text x="278.1" y="159.5" font-size="11.2" text-anchor="start" font-style="italic" fill="#000" >0.80</text>
<polyline points="262.6,166 273.4,166" fill="none" stroke="#0f0" stroke-width="1" stroke-linejoin="round" />
<polygon points="262.6,163.47 265.13,166 262.6,168.53 260.07,166" fill="#fff" stroke="#0f0" stroke-width="1.0"/>
<polygon points="273.4,163.47 275.93,166 273.4,168.53 270.87,166" fill="#fff" stroke="#0f0" stroke-width="1.0"/>
<text x="278.1" y="169.6" font-size="11.2" text-anchor="start" font-style="italic" fill="#000" >0.70</text>
<polyline points="262.6,176.1 273.4,176.1" fill="none" stroke="#00f" stroke-width="1" stroke-linejoin="round" />
<polygon points="262.6,173.68 265.02,177.86 260.18,177.86" fill="#fff" stroke="#00f" stroke-width="1.0"/>
<polygon points="273.4,173.68 275.82,177.86 270.98,177.86" fill="#fff" stroke="#00f" stroke-width="1.0"/>
<text x="278.1" y="179.7" font-size="11.2" text-anchor="start" font-style="italic" fill="#000" >0.60</text>
<polyline points="262.6,186.2 273.4,186.2" fill="none" stroke="#f7a72a" stroke-width="1" stroke-linejoin="round" />
<polygon points="260.18,186.2 264.36,183.78 264.36,188.62" fill="#fff" stroke="#f7a72a" stroke-width="1.0"/>
<polygon points="270.98,186.2 275.16,183.78 275.16,188.62" fill="#fff" stroke="#f7a72a" stroke-width="1.0"/>
<text x="278.1" y="189.8" font-size="11.2" text-anchor="start" font-style="italic" fill="#000" >0.55</text>
<polyline points="262.6,196.3 273.4,196.3" fill="none" stroke="#bc8f8f" stroke-width="1" stroke-linejoin="round" />
<polygon points="262.6,198.72 265.02,194.54 260.18,194.54" fill="#fff" stroke="#bc8f8f" stroke-width="1.0"/>
<polygon points="273.4,198.72 275.82,194.54 270.98,194.54" fill="#fff" stroke="#bc8f8f" stroke-width="1.0"/>
<text x="278.1" y="199.9" font-size="11.2" text-anchor="start" font-style="italic" fill="#000" >0.50</text>
<polyline points="262.6,206.4 273.4,206.4" fill="none" stroke="#008b00" stroke-width="1" stroke-linejoin="round" />
<polygon points="265.02,206.4 260.84,203.98 260.84,208.82" fill="#fff" stroke="#008b00" stroke-width="1.0"/>
<polygon points="275.82,206.4 271.64,203.98 271.64,208.82" fill="#fff" stroke="#008b00" stroke-width="1.0"/>
<text x="278.1" y="210" font-size="11.2" text-anchor="start" font-style="italic" fill="#000" >0.40</text>
<rect x="191.3" y="10.5" width="127.19999999999999" height="99.5" fill="#fff" stroke="none"/>
<clipPath id="ciA"><rect x="191.3" y="10.5" width="127.19999999999999" height="99.5"/></clipPath>
<g clip-path="url(#ciA)">
<polyline points="191.5,42 193,30 195.3,16 197,21 199,28 201,33 203,38 205,44 206.5,48 210,53 215,58 220,63 226,68 232,73 240,78 250,83 260,87 270,90 280,92.5 290,94.5 300,95.5 310,96 318.5,96.5" fill="none" stroke="#00f" stroke-width="0.8" stroke-linejoin="round" />
<polygon points="191.5,40.24 193.26,43.28 189.74,43.28" fill="#fff" stroke="#00f" stroke-width="0.8"/>
<polygon points="191.82,37.66 193.58,40.7 190.06,40.7" fill="#fff" stroke="#00f" stroke-width="0.8"/>
<polygon points="192.14,35.08 193.9,38.12 190.38,38.12" fill="#fff" stroke="#00f" stroke-width="0.8"/>
<polygon points="192.47,32.5 194.23,35.54 190.71,35.54" fill="#fff" stroke="#00f" stroke-width="0.8"/>
<polygon points="192.79,29.92 194.55,32.96 191.03,32.96" fill="#fff" stroke="#00f" stroke-width="0.8"/>
<polygon points="193.15,27.35 194.91,30.39 191.39,30.39" fill="#fff" stroke="#00f" stroke-width="0.8"/>
<polygon points="193.57,24.78 195.33,27.82 191.81,27.82" fill="#fff" stroke="#00f" stroke-width="0.8"/>
<polygon points="193.99,22.21 195.75,25.25 192.23,25.25" fill="#fff" stroke="#00f" stroke-width="0.8"/>
<polygon points="194.41,19.65 196.17,22.69 192.65,22.69" fill="#fff" stroke="#00f" stroke-width="0.8"/>
<polygon points="194.83,17.08 196.59,20.12 193.07,20.12" fill="#fff" stroke="#00f" stroke-width="0.8"/>
<polygon points="195.25,14.52 197.01,17.56 193.49,17.56" fill="#fff" stroke="#00f" stroke-width="0.8"/>
<polygon points="196.05,16.44 197.81,19.48 194.29,19.48" fill="#fff" stroke="#00f" stroke-width="0.8"/>
<polygon points="196.88,18.9 198.64,21.94 195.12,21.94" fill="#fff" stroke="#00f" stroke-width="0.8"/>
<polygon points="197.61,21.39 199.37,24.43 195.85,24.43" fill="#fff" stroke="#00f" stroke-width="0.8"/>
<polygon points="198.33,23.89 200.09,26.93 196.57,26.93" fill="#fff" stroke="#00f" stroke-width="0.8"/>
<polygon points="199.06,26.39 200.82,29.43 197.3,29.43" fill="#fff" stroke="#00f" stroke-width="0.8"/>
<polygon points="200.02,28.8 201.78,31.84 198.26,31.84" fill="#fff" stroke="#00f" stroke-width="0.8"/>
<polygon points="200.99,31.21 202.75,34.25 199.23,34.25" fill="#fff" stroke="#00f" stroke-width="0.8"/>
<polygon points="201.96,33.63 203.72,36.67 200.2,36.67" fill="#fff" stroke="#00f" stroke-width="0.8"/>
<polygon points="202.92,36.04 204.68,39.08 201.16,39.08" fill="#fff" stroke="#00f" stroke-width="0.8"/>
<polygon points="203.75,38.5 205.51,41.54 201.99,41.54" fill="#fff" stroke="#00f" stroke-width="0.8"/>
<polygon points="204.58,40.97 206.34,44.01 202.82,44.01" fill="#fff" stroke="#00f" stroke-width="0.8"/>
<polygon points="205.44,43.42 207.2,46.46 203.68,46.46" fill="#fff" stroke="#00f" stroke-width="0.8"/>
<polygon points="206.36,45.86 208.12,48.9 204.6,48.9" fill="#fff" stroke="#00f" stroke-width="0.8"/>
<polygon points="207.76,48.03 209.52,51.07 206,51.07" fill="#fff" stroke="#00f" stroke-width="0.8"/>
<polygon points="209.25,50.16 211.01,53.2 207.49,53.2" fill="#fff" stroke="#00f" stroke-width="0.8"/>
<polygon points="210.91,52.15 212.67,55.19 209.15,55.19" fill="#fff" stroke="#00f" stroke-width="0.8"/>
<polygon points="212.75,53.99 214.51,57.03 210.99,57.03" fill="#fff" stroke="#00f" stroke-width="0.8"/>
<polygon points="214.59,55.83 216.35,58.87 212.83,58.87" fill="#fff" stroke="#00f" stroke-width="0.8"/>
<polygon points="216.43,57.67 218.19,60.71 214.67,60.71" fill="#fff" stroke="#00f" stroke-width="0.8"/>
<polygon points="218.26,59.5 220.02,62.54 216.5,62.54" fill="#fff" stroke="#00f" stroke-width="0.8"/>
<polygon points="220.11,61.33 221.87,64.37 218.35,64.37" fill="#fff" stroke="#00f" stroke-width="0.8"/>
<polygon points="222.11,63 223.87,66.04 220.35,66.04" fill="#fff" stroke="#00f" stroke-width="0.8"/>
<polygon points="224.11,64.66 225.87,67.7 222.35,67.7" fill="#fff" stroke="#00f" stroke-width="0.8"/>
<polygon points="226.1,66.33 227.86,69.37 224.34,69.37" fill="#fff" stroke="#00f" stroke-width="0.8"/>
<polygon points="228.1,67.99 229.86,71.03 226.34,71.03" fill="#fff" stroke="#00f" stroke-width="0.8"/>
<polygon points="230.1,69.66 231.86,72.7 228.34,72.7" fill="#fff" stroke="#00f" stroke-width="0.8"/>
<polygon points="232.11,71.31 233.87,74.35 230.35,74.35" fill="#fff" stroke="#00f" stroke-width="0.8"/>
<polygon points="234.31,72.68 236.07,75.72 232.55,75.72" fill="#fff" stroke="#00f" stroke-width="0.8"/>
<polygon points="236.52,74.06 238.28,77.1 234.76,77.1" fill="#fff" stroke="#00f" stroke-width="0.8"/>
<polygon points="238.72,75.44 240.48,78.48 236.96,78.48" fill="#fff" stroke="#00f" stroke-width="0.8"/>
<polygon points="240.98,76.73 242.74,79.77 239.22,79.77" fill="#fff" stroke="#00f" stroke-width="0.8"/>
<polygon points="243.3,77.89 245.06,80.93 241.54,80.93" fill="#fff" stroke="#00f" stroke-width="0.8"/>
<polygon points="245.63,79.05 247.39,82.09 243.87,82.09" fill="#fff" stroke="#00f" stroke-width="0.8"/>
<polygon points="247.95,80.22 249.71,83.26 246.19,83.26" fill="#fff" stroke="#00f" stroke-width="0.8"/>
<polygon points="250.29,81.36 252.05,84.4 248.53,84.4" fill="#fff" stroke="#00f" stroke-width="0.8"/>
<polygon points="252.7,82.32 254.46,85.36 250.94,85.36" fill="#fff" stroke="#00f" stroke-width="0.8"/>
<polygon points="255.12,83.29 256.88,86.33 253.36,86.33" fill="#fff" stroke="#00f" stroke-width="0.8"/>
<polygon points="257.53,84.25 259.29,87.29 255.77,87.29" fill="#fff" stroke="#00f" stroke-width="0.8"/>
<polygon points="259.94,85.22 261.7,88.26 258.18,88.26" fill="#fff" stroke="#00f" stroke-width="0.8"/>
<polygon points="262.43,85.97 264.19,89.01 260.67,89.01" fill="#fff" stroke="#00f" stroke-width="0.8"/>
<polygon points="264.92,86.72 266.68,89.76 263.16,89.76" fill="#fff" stroke="#00f" stroke-width="0.8"/>
<polygon points="267.41,87.46 269.17,90.5 265.65,90.5" fill="#fff" stroke="#00f" stroke-width="0.8"/>
<polygon points="269.9,88.21 271.66,91.25 268.14,91.25" fill="#fff" stroke="#00f" stroke-width="0.8"/>
<polygon points="272.43,88.85 274.19,91.89 270.67,91.89" fill="#fff" stroke="#00f" stroke-width="0.8"/>
<polygon points="274.95,89.48 276.71,92.52 273.19,92.52" fill="#fff" stroke="#00f" stroke-width="0.8"/>
<polygon points="277.47,90.11 279.23,93.15 275.71,93.15" fill="#fff" stroke="#00f" stroke-width="0.8"/>
<polygon points="279.99,90.74 281.75,93.78 278.23,93.78" fill="#fff" stroke="#00f" stroke-width="0.8"/>
<polygon points="282.54,91.25 284.3,94.29 280.78,94.29" fill="#fff" stroke="#00f" stroke-width="0.8"/>
<polygon points="285.09,91.76 286.85,94.8 283.33,94.8" fill="#fff" stroke="#00f" stroke-width="0.8"/>
<polygon points="287.64,92.27 289.4,95.31 285.88,95.31" fill="#fff" stroke="#00f" stroke-width="0.8"/>
<polygon points="290.19,92.76 291.95,95.8 288.43,95.8" fill="#fff" stroke="#00f" stroke-width="0.8"/>
<polygon points="292.78,93.02 294.54,96.06 291.02,96.06" fill="#fff" stroke="#00f" stroke-width="0.8"/>
<polygon points="295.37,93.28 297.13,96.32 293.61,96.32" fill="#fff" stroke="#00f" stroke-width="0.8"/>
<polygon points="297.95,93.54 299.71,96.58 296.19,96.58" fill="#fff" stroke="#00f" stroke-width="0.8"/>
<polygon points="300.54,93.77 302.3,96.81 298.78,96.81" fill="#fff" stroke="#00f" stroke-width="0.8"/>
<polygon points="303.14,93.9 304.9,96.94 301.38,96.94" fill="#fff" stroke="#00f" stroke-width="0.8"/>
<polygon points="305.74,94.03 307.5,97.07 303.98,97.07" fill="#fff" stroke="#00f" stroke-width="0.8"/>
<polygon points="308.33,94.16 310.09,97.2 306.57,97.2" fill="#fff" stroke="#00f" stroke-width="0.8"/>
<polygon points="310.93,94.29 312.69,97.33 309.17,97.33" fill="#fff" stroke="#00f" stroke-width="0.8"/>
<polygon points="313.53,94.45 315.29,97.49 311.77,97.49" fill="#fff" stroke="#00f" stroke-width="0.8"/>
<polygon points="316.12,94.6 317.88,97.64 314.36,97.64" fill="#fff" stroke="#00f" stroke-width="0.8"/>
<polyline points="191.5,33 193,24 195,18 197,25 199,34 201,40" fill="none" stroke="#00f" stroke-width="0.8" stroke-linejoin="round" />
<polygon points="191.5,31.24 193.26,34.28 189.74,34.28" fill="#fff" stroke="#00f" stroke-width="0.8"/>
<polygon points="191.93,28.68 193.69,31.72 190.17,31.72" fill="#fff" stroke="#00f" stroke-width="0.8"/>
<polygon points="192.35,26.11 194.11,29.15 190.59,29.15" fill="#fff" stroke="#00f" stroke-width="0.8"/>
<polygon points="192.78,23.55 194.54,26.59 191.02,26.59" fill="#fff" stroke="#00f" stroke-width="0.8"/>
<polygon points="193.4,21.03 195.16,24.07 191.64,24.07" fill="#fff" stroke="#00f" stroke-width="0.8"/>
<polygon points="194.23,18.56 195.99,21.6 192.47,21.6" fill="#fff" stroke="#00f" stroke-width="0.8"/>
<polygon points="195.04,16.39 196.8,19.43 193.28,19.43" fill="#fff" stroke="#00f" stroke-width="0.8"/>
<polygon points="195.76,18.89 197.52,21.93 194,21.93" fill="#fff" stroke="#00f" stroke-width="0.8"/>
<polygon points="196.47,21.39 198.23,24.43 194.71,24.43" fill="#fff" stroke="#00f" stroke-width="0.8"/>
<polygon points="197.15,23.9 198.91,26.94 195.39,26.94" fill="#fff" stroke="#00f" stroke-width="0.8"/>
<polygon points="197.71,26.43 199.47,29.47 195.95,29.47" fill="#fff" stroke="#00f" stroke-width="0.8"/>
<polygon points="198.27,28.97 200.03,32.01 196.51,32.01" fill="#fff" stroke="#00f" stroke-width="0.8"/>
<polygon points="198.84,31.51 200.6,34.55 197.08,34.55" fill="#fff" stroke="#00f" stroke-width="0.8"/>
<polygon points="199.59,34 201.35,37.04 197.83,37.04" fill="#fff" stroke="#00f" stroke-width="0.8"/>
<polygon points="200.41,36.46 202.17,39.5 198.65,39.5" fill="#fff" stroke="#00f" stroke-width="0.8"/>
<polygon points="191.5,40 195.3,17 200,33 203,40 198,36 193,42" fill="#00f"/>
<polyline points="191.5,80 192.5,68 194,55 195.5,46 197.5,41 199.5,43 202,47 205,51 209,55 214,59 220,64 227,70 235,75 245,80 255,84.5 265,88 275,91 285,93 295,94.5 305,95 318.5,95" fill="none" stroke="#bc8f8f" stroke-width="0.8" stroke-linejoin="round" />
<polygon points="191.5,81.76 193.26,78.72 189.74,78.72" fill="#fff" stroke="#bc8f8f" stroke-width="0.8"/>
<polygon points="191.72,79.17 193.48,76.13 189.96,76.13" fill="#fff" stroke="#bc8f8f" stroke-width="0.8"/>
<polygon points="191.93,76.58 193.69,73.54 190.17,73.54" fill="#fff" stroke="#bc8f8f" stroke-width="0.8"/>
<polygon points="192.15,73.99 193.91,70.95 190.39,70.95" fill="#fff" stroke="#bc8f8f" stroke-width="0.8"/>
<polygon points="192.36,71.4 194.12,68.36 190.6,68.36" fill="#fff" stroke="#bc8f8f" stroke-width="0.8"/>
<polygon points="192.61,68.81 194.37,65.77 190.85,65.77" fill="#fff" stroke="#bc8f8f" stroke-width="0.8"/>
<polygon points="192.91,66.23 194.67,63.19 191.15,63.19" fill="#fff" stroke="#bc8f8f" stroke-width="0.8"/>
<polygon points="193.21,63.64 194.97,60.6 191.45,60.6" fill="#fff" stroke="#bc8f8f" stroke-width="0.8"/>
<polygon points="193.5,61.06 195.26,58.02 191.74,58.02" fill="#fff" stroke="#bc8f8f" stroke-width="0.8"/>
<polygon points="193.8,58.48 195.56,55.44 192.04,55.44" fill="#fff" stroke="#bc8f8f" stroke-width="0.8"/>
<polygon points="194.14,55.9 195.9,52.86 192.38,52.86" fill="#fff" stroke="#bc8f8f" stroke-width="0.8"/>
<polygon points="194.57,53.34 196.33,50.3 192.81,50.3" fill="#fff" stroke="#bc8f8f" stroke-width="0.8"/>
<polygon points="195,50.77 196.76,47.73 193.24,47.73" fill="#fff" stroke="#bc8f8f" stroke-width="0.8"/>
<polygon points="195.43,48.21 197.19,45.17 193.67,45.17" fill="#fff" stroke="#bc8f8f" stroke-width="0.8"/>
<polygon points="196.3,45.77 198.06,42.73 194.54,42.73" fill="#fff" stroke="#bc8f8f" stroke-width="0.8"/>
<polygon points="197.26,43.35 199.02,40.31 195.5,40.31" fill="#fff" stroke="#bc8f8f" stroke-width="0.8"/>
<polygon points="198.89,44.15 200.65,41.11 197.13,41.11" fill="#fff" stroke="#bc8f8f" stroke-width="0.8"/>
<polygon points="200.42,46.23 202.18,43.19 198.66,43.19" fill="#fff" stroke="#bc8f8f" stroke-width="0.8"/>
<polygon points="201.8,48.44 203.56,45.4 200.04,45.4" fill="#fff" stroke="#bc8f8f" stroke-width="0.8"/>
<polygon points="203.33,50.53 205.09,47.49 201.57,47.49" fill="#fff" stroke="#bc8f8f" stroke-width="0.8"/>
<polygon points="204.89,52.61 206.65,49.57 203.13,49.57" fill="#fff" stroke="#bc8f8f" stroke-width="0.8"/>
<polygon points="206.71,54.47 208.47,51.43 204.95,51.43" fill="#fff" stroke="#bc8f8f" stroke-width="0.8"/>
<polygon points="208.55,56.31 210.31,53.27 206.79,53.27" fill="#fff" stroke="#bc8f8f" stroke-width="0.8"/>
<polygon points="210.53,57.98 212.29,54.94 208.77,54.94" fill="#fff" stroke="#bc8f8f" stroke-width="0.8"/>
<polygon points="212.56,59.61 214.32,56.57 210.8,56.57" fill="#fff" stroke="#bc8f8f" stroke-width="0.8"/>
<polygon points="214.58,61.24 216.34,58.2 212.82,58.2" fill="#fff" stroke="#bc8f8f" stroke-width="0.8"/>
<polygon points="216.58,62.91 218.34,59.87 214.82,59.87" fill="#fff" stroke="#bc8f8f" stroke-width="0.8"/>
<polygon points="218.58,64.57 220.34,61.53 216.82,61.53" fill="#fff" stroke="#bc8f8f" stroke-width="0.8"/>
<polygon points="220.57,66.25 222.33,63.21 218.81,63.21" fill="#fff" stroke="#bc8f8f" stroke-width="0.8"/>
<polygon points="222.54,67.94 224.3,64.9 220.78,64.9" fill="#fff" stroke="#bc8f8f" stroke-width="0.8"/>
<polygon points="224.52,69.63 226.28,66.59 222.76,66.59" fill="#fff" stroke="#bc8f8f" stroke-width="0.8"/>
<polygon points="226.49,71.32 228.25,68.28 224.73,68.28" fill="#fff" stroke="#bc8f8f" stroke-width="0.8"/>
<polygon points="228.63,72.78 230.39,69.74 226.87,69.74" fill="#fff" stroke="#bc8f8f" stroke-width="0.8"/>
<polygon points="230.84,74.16 232.6,71.12 229.08,71.12" fill="#fff" stroke="#bc8f8f" stroke-width="0.8"/>
<polygon points="233.04,75.54 234.8,72.5 231.28,72.5" fill="#fff" stroke="#bc8f8f" stroke-width="0.8"/>
<polygon points="235.26,76.89 237.02,73.85 233.5,73.85" fill="#fff" stroke="#bc8f8f" stroke-width="0.8"/>
<polygon points="237.59,78.05 239.35,75.01 235.83,75.01" fill="#fff" stroke="#bc8f8f" stroke-width="0.8"/>
<polygon points="239.91,79.22 241.67,76.18 238.15,76.18" fill="#fff" stroke="#bc8f8f" stroke-width="0.8"/>
<polygon points="242.24,80.38 244,77.34 240.48,77.34" fill="#fff" stroke="#bc8f8f" stroke-width="0.8"/>
<polygon points="244.56,81.54 246.32,78.5 242.8,78.5" fill="#fff" stroke="#bc8f8f" stroke-width="0.8"/>
<polygon points="246.93,82.63 248.69,79.59 245.17,79.59" fill="#fff" stroke="#bc8f8f" stroke-width="0.8"/>
<polygon points="249.3,83.69 251.06,80.65 247.54,80.65" fill="#fff" stroke="#bc8f8f" stroke-width="0.8"/>
<polygon points="251.67,84.76 253.43,81.72 249.91,81.72" fill="#fff" stroke="#bc8f8f" stroke-width="0.8"/>
<polygon points="254.04,85.83 255.8,82.79 252.28,82.79" fill="#fff" stroke="#bc8f8f" stroke-width="0.8"/>
<polygon points="256.46,86.77 258.22,83.73 254.7,83.73" fill="#fff" stroke="#bc8f8f" stroke-width="0.8"/>
<polygon points="258.91,87.63 260.67,84.59 257.15,84.59" fill="#fff" stroke="#bc8f8f" stroke-width="0.8"/>
<polygon points="261.37,88.49 263.13,85.45 259.61,85.45" fill="#fff" stroke="#bc8f8f" stroke-width="0.8"/>
<polygon points="263.82,89.35 265.58,86.31 262.06,86.31" fill="#fff" stroke="#bc8f8f" stroke-width="0.8"/>
<polygon points="266.3,90.15 268.06,87.11 264.54,87.11" fill="#fff" stroke="#bc8f8f" stroke-width="0.8"/>
<polygon points="268.79,90.9 270.55,87.86 267.03,87.86" fill="#fff" stroke="#bc8f8f" stroke-width="0.8"/>
<polygon points="271.28,91.64 273.04,88.6 269.52,88.6" fill="#fff" stroke="#bc8f8f" stroke-width="0.8"/>
<polygon points="273.77,92.39 275.53,89.35 272.01,89.35" fill="#fff" stroke="#bc8f8f" stroke-width="0.8"/>
<polygon points="276.29,93.02 278.05,89.98 274.53,89.98" fill="#fff" stroke="#bc8f8f" stroke-width="0.8"/>
<polygon points="278.84,93.53 280.6,90.49 277.08,90.49" fill="#fff" stroke="#bc8f8f" stroke-width="0.8"/>
<polygon points="281.39,94.04 283.15,91 279.63,91" fill="#fff" stroke="#bc8f8f" stroke-width="0.8"/>
<polygon points="283.94,94.55 285.7,91.51 282.18,91.51" fill="#fff" stroke="#bc8f8f" stroke-width="0.8"/>
<polygon points="286.5,94.98 288.26,91.94 284.74,91.94" fill="#fff" stroke="#bc8f8f" stroke-width="0.8"/>
<polygon points="289.07,95.37 290.83,92.33 287.31,92.33" fill="#fff" stroke="#bc8f8f" stroke-width="0.8"/>
<polygon points="291.64,95.76 293.4,92.72 289.88,92.72" fill="#fff" stroke="#bc8f8f" stroke-width="0.8"/>
<polygon points="294.21,96.14 295.97,93.1 292.45,93.1" fill="#fff" stroke="#bc8f8f" stroke-width="0.8"/>
<polygon points="296.8,96.35 298.56,93.31 295.04,93.31" fill="#fff" stroke="#bc8f8f" stroke-width="0.8"/>
<polygon points="299.4,96.48 301.16,93.44 297.64,93.44" fill="#fff" stroke="#bc8f8f" stroke-width="0.8"/>
<polygon points="301.99,96.61 303.75,93.57 300.23,93.57" fill="#fff" stroke="#bc8f8f" stroke-width="0.8"/>
<polygon points="304.59,96.74 306.35,93.7 302.83,93.7" fill="#fff" stroke="#bc8f8f" stroke-width="0.8"/>
<polygon points="307.19,96.76 308.95,93.72 305.43,93.72" fill="#fff" stroke="#bc8f8f" stroke-width="0.8"/>
<polygon points="309.79,96.76 311.55,93.72 308.03,93.72" fill="#fff" stroke="#bc8f8f" stroke-width="0.8"/>
<polygon points="312.39,96.76 314.15,93.72 310.63,93.72" fill="#fff" stroke="#bc8f8f" stroke-width="0.8"/>
<polygon points="314.99,96.76 316.75,93.72 313.23,93.72" fill="#fff" stroke="#bc8f8f" stroke-width="0.8"/>
<polygon points="317.59,96.76 319.35,93.72 315.83,93.72" fill="#fff" stroke="#bc8f8f" stroke-width="0.8"/>
<polyline points="191.5,104 193,92 195,78 198,66 201,58 204,54 207,50 211,54 216,59 221,64 228,70 235,75 245,80 255,84 265,87.5 275,90 285,92 295,93 305,93.5 318.5,94" fill="none" stroke="#008b00" stroke-width="0.8" stroke-linejoin="round" />
<polygon points="193.26,104 190.22,102.24 190.22,105.76" fill="#fff" stroke="#008b00" stroke-width="0.8"/>
<polygon points="193.58,101.42 190.54,99.66 190.54,103.18" fill="#fff" stroke="#008b00" stroke-width="0.8"/>
<polygon points="193.9,98.84 190.86,97.08 190.86,100.6" fill="#fff" stroke="#008b00" stroke-width="0.8"/>
<polygon points="194.23,96.26 191.19,94.5 191.19,98.02" fill="#fff" stroke="#008b00" stroke-width="0.8"/>
<polygon points="194.55,93.68 191.51,91.92 191.51,95.44" fill="#fff" stroke="#008b00" stroke-width="0.8"/>
<polygon points="194.89,91.1 191.85,89.34 191.85,92.86" fill="#fff" stroke="#008b00" stroke-width="0.8"/>
<polygon points="195.26,88.53 192.22,86.77 192.22,90.29" fill="#fff" stroke="#008b00" stroke-width="0.8"/>
<polygon points="195.62,85.95 192.58,84.19 192.58,87.71" fill="#fff" stroke="#008b00" stroke-width="0.8"/>
<polygon points="195.99,83.38 192.95,81.62 192.95,85.14" fill="#fff" stroke="#008b00" stroke-width="0.8"/>
<polygon points="196.36,80.81 193.32,79.05 193.32,82.57" fill="#fff" stroke="#008b00" stroke-width="0.8"/>
<polygon points="196.73,78.23 193.69,76.47 193.69,79.99" fill="#fff" stroke="#008b00" stroke-width="0.8"/>
<polygon points="197.33,75.71 194.29,73.95 194.29,77.47" fill="#fff" stroke="#008b00" stroke-width="0.8"/>
<polygon points="197.96,73.18 194.92,71.42 194.92,74.94" fill="#fff" stroke="#008b00" stroke-width="0.8"/>
<polygon points="198.59,70.66 195.55,68.9 195.55,72.42" fill="#fff" stroke="#008b00" stroke-width="0.8"/>
<polygon points="199.23,68.14 196.19,66.38 196.19,69.9" fill="#fff" stroke="#008b00" stroke-width="0.8"/>
<polygon points="199.9,65.63 196.86,63.87 196.86,67.39" fill="#fff" stroke="#008b00" stroke-width="0.8"/>
<polygon points="200.81,63.2 197.77,61.44 197.77,64.96" fill="#fff" stroke="#008b00" stroke-width="0.8"/>
<polygon points="201.72,60.76 198.68,59 198.68,62.52" fill="#fff" stroke="#008b00" stroke-width="0.8"/>
<polygon points="202.64,58.33 199.6,56.57 199.6,60.09" fill="#fff" stroke="#008b00" stroke-width="0.8"/>
<polygon points="204.11,56.2 201.07,54.44 201.07,57.96" fill="#fff" stroke="#008b00" stroke-width="0.8"/>
<polygon points="205.67,54.12 202.63,52.36 202.63,55.88" fill="#fff" stroke="#008b00" stroke-width="0.8"/>
<polygon points="207.23,52.04 204.19,50.28 204.19,53.8" fill="#fff" stroke="#008b00" stroke-width="0.8"/>
<polygon points="208.8,50.04 205.76,48.28 205.76,51.8" fill="#fff" stroke="#008b00" stroke-width="0.8"/>
<polygon points="210.63,51.87 207.59,50.11 207.59,53.63" fill="#fff" stroke="#008b00" stroke-width="0.8"/>
<polygon points="212.47,53.71 209.43,51.95 209.43,55.47" fill="#fff" stroke="#008b00" stroke-width="0.8"/>
<polygon points="214.31,55.55 211.27,53.79 211.27,57.31" fill="#fff" stroke="#008b00" stroke-width="0.8"/>
<polygon points="216.15,57.39 213.11,55.63 213.11,59.15" fill="#fff" stroke="#008b00" stroke-width="0.8"/>
<polygon points="217.99,59.23 214.95,57.47 214.95,60.99" fill="#fff" stroke="#008b00" stroke-width="0.8"/>
<polygon points="219.83,61.07 216.79,59.31 216.79,62.83" fill="#fff" stroke="#008b00" stroke-width="0.8"/>
<polygon points="221.67,62.91 218.63,61.15 218.63,64.67" fill="#fff" stroke="#008b00" stroke-width="0.8"/>
<polygon points="223.56,64.68 220.52,62.92 220.52,66.44" fill="#fff" stroke="#008b00" stroke-width="0.8"/>
<polygon points="225.53,66.38 222.49,64.62 222.49,68.14" fill="#fff" stroke="#008b00" stroke-width="0.8"/>
<polygon points="227.51,68.07 224.47,66.31 224.47,69.83" fill="#fff" stroke="#008b00" stroke-width="0.8"/>
<polygon points="229.48,69.76 226.44,68 226.44,71.52" fill="#fff" stroke="#008b00" stroke-width="0.8"/>
<polygon points="231.58,71.3 228.54,69.54 228.54,73.06" fill="#fff" stroke="#008b00" stroke-width="0.8"/>
<polygon points="233.69,72.81 230.65,71.05 230.65,74.57" fill="#fff" stroke="#008b00" stroke-width="0.8"/>
<polygon points="235.81,74.32 232.77,72.56 232.77,76.08" fill="#fff" stroke="#008b00" stroke-width="0.8"/>
<polygon points="238.04,75.64 235,73.88 235,77.4" fill="#fff" stroke="#008b00" stroke-width="0.8"/>
<polygon points="240.36,76.8 237.32,75.04 237.32,78.56" fill="#fff" stroke="#008b00" stroke-width="0.8"/>
<polygon points="242.69,77.97 239.65,76.21 239.65,79.73" fill="#fff" stroke="#008b00" stroke-width="0.8"/>
<polygon points="245.02,79.13 241.98,77.37 241.98,80.89" fill="#fff" stroke="#008b00" stroke-width="0.8"/>
<polygon points="247.36,80.24 244.32,78.48 244.32,82" fill="#fff" stroke="#008b00" stroke-width="0.8"/>
<polygon points="249.78,81.21 246.74,79.45 246.74,82.97" fill="#fff" stroke="#008b00" stroke-width="0.8"/>
<polygon points="252.19,82.17 249.15,80.41 249.15,83.93" fill="#fff" stroke="#008b00" stroke-width="0.8"/>
<polygon points="254.61,83.14 251.57,81.38 251.57,84.9" fill="#fff" stroke="#008b00" stroke-width="0.8"/>
<polygon points="257.02,84.09 253.98,82.33 253.98,85.85" fill="#fff" stroke="#008b00" stroke-width="0.8"/>
<polygon points="259.48,84.95 256.44,83.19 256.44,86.71" fill="#fff" stroke="#008b00" stroke-width="0.8"/>
<polygon points="261.93,85.81 258.89,84.05 258.89,87.57" fill="#fff" stroke="#008b00" stroke-width="0.8"/>
<polygon points="264.39,86.67 261.35,84.91 261.35,88.43" fill="#fff" stroke="#008b00" stroke-width="0.8"/>
<polygon points="266.84,87.52 263.8,85.76 263.8,89.28" fill="#fff" stroke="#008b00" stroke-width="0.8"/>
<polygon points="269.36,88.15 266.32,86.39 266.32,89.91" fill="#fff" stroke="#008b00" stroke-width="0.8"/>
<polygon points="271.89,88.78 268.85,87.02 268.85,90.54" fill="#fff" stroke="#008b00" stroke-width="0.8"/>
<polygon points="274.41,89.41 271.37,87.65 271.37,91.17" fill="#fff" stroke="#008b00" stroke-width="0.8"/>
<polygon points="276.93,90.03 273.89,88.27 273.89,91.79" fill="#fff" stroke="#008b00" stroke-width="0.8"/>
<polygon points="279.48,90.54 276.44,88.78 276.44,92.3" fill="#fff" stroke="#008b00" stroke-width="0.8"/>
<polygon points="282.03,91.05 278.99,89.29 278.99,92.81" fill="#fff" stroke="#008b00" stroke-width="0.8"/>
<polygon points="284.58,91.56 281.54,89.8 281.54,93.32" fill="#fff" stroke="#008b00" stroke-width="0.8"/>
<polygon points="287.14,92.04 284.1,90.28 284.1,93.8" fill="#fff" stroke="#008b00" stroke-width="0.8"/>
<polygon points="289.72,92.3 286.68,90.54 286.68,94.06" fill="#fff" stroke="#008b00" stroke-width="0.8"/>
<polygon points="292.31,92.56 289.27,90.8 289.27,94.32" fill="#fff" stroke="#008b00" stroke-width="0.8"/>
<polygon points="294.9,92.81 291.86,91.05 291.86,94.57" fill="#fff" stroke="#008b00" stroke-width="0.8"/>
<polygon points="297.49,93.04 294.45,91.28 294.45,94.8" fill="#fff" stroke="#008b00" stroke-width="0.8"/>
<polygon points="300.08,93.17 297.04,91.41 297.04,94.93" fill="#fff" stroke="#008b00" stroke-width="0.8"/>
<polygon points="302.68,93.3 299.64,91.54 299.64,95.06" fill="#fff" stroke="#008b00" stroke-width="0.8"/>
<polygon points="305.28,93.43 302.24,91.67 302.24,95.19" fill="#fff" stroke="#008b00" stroke-width="0.8"/>
<polygon points="307.88,93.54 304.84,91.78 304.84,95.3" fill="#fff" stroke="#008b00" stroke-width="0.8"/>
<polygon points="310.47,93.64 307.43,91.88 307.43,95.4" fill="#fff" stroke="#008b00" stroke-width="0.8"/>
<polygon points="313.07,93.73 310.03,91.97 310.03,95.49" fill="#fff" stroke="#008b00" stroke-width="0.8"/>
<polygon points="315.67,93.83 312.63,92.07 312.63,95.59" fill="#fff" stroke="#008b00" stroke-width="0.8"/>
<polygon points="318.27,93.93 315.23,92.17 315.23,95.69" fill="#fff" stroke="#008b00" stroke-width="0.8"/>
<polyline points="191.5,107 194,96 197,84 200,74 203,66 206.5,59 210,61 215,65 221,69 229,74 238,79 248,83 260,86.5 272,89 285,91 300,92 318.5,92.5" fill="none" stroke="#f0f" stroke-width="0.8" stroke-linejoin="round" />
<polygon points="191.5,105.28 193.22,107 191.5,108.72 189.78,107" fill="#fff" stroke="#f0f" stroke-width="0.8"/>
<polygon points="192.08,102.74 193.8,104.46 192.08,106.19 190.35,104.46" fill="#fff" stroke="#f0f" stroke-width="0.8"/>
<polygon points="192.65,100.2 194.38,101.93 192.65,103.65 190.93,101.93" fill="#fff" stroke="#f0f" stroke-width="0.8"/>
<polygon points="193.23,97.67 194.95,99.39 193.23,101.12 191.5,99.39" fill="#fff" stroke="#f0f" stroke-width="0.8"/>
<polygon points="193.8,95.13 195.53,96.86 193.8,98.58 192.08,96.86" fill="#fff" stroke="#f0f" stroke-width="0.8"/>
<polygon points="194.42,92.61 196.14,94.33 194.42,96.06 192.69,94.33" fill="#fff" stroke="#f0f" stroke-width="0.8"/>
<polygon points="195.05,90.08 196.77,91.81 195.05,93.53 193.32,91.81" fill="#fff" stroke="#f0f" stroke-width="0.8"/>
<polygon points="195.68,87.56 197.4,89.29 195.68,91.01 193.95,89.29" fill="#fff" stroke="#f0f" stroke-width="0.8"/>
<polygon points="196.31,85.04 198.03,86.76 196.31,88.49 194.58,86.76" fill="#fff" stroke="#f0f" stroke-width="0.8"/>
<polygon points="196.94,82.52 198.66,84.24 196.94,85.97 195.21,84.24" fill="#fff" stroke="#f0f" stroke-width="0.8"/>
<polygon points="197.68,80.02 199.4,81.75 197.68,83.47 195.95,81.75" fill="#fff" stroke="#f0f" stroke-width="0.8"/>
<polygon points="198.42,77.53 200.15,79.26 198.42,80.98 196.7,79.26" fill="#fff" stroke="#f0f" stroke-width="0.8"/>
<polygon points="199.17,75.04 200.89,76.77 199.17,78.49 197.44,76.77" fill="#fff" stroke="#f0f" stroke-width="0.8"/>
<polygon points="199.92,72.55 201.64,74.28 199.92,76 198.19,74.28" fill="#fff" stroke="#f0f" stroke-width="0.8"/>
<polygon points="200.81,70.11 202.54,71.84 200.81,73.56 199.09,71.84" fill="#fff" stroke="#f0f" stroke-width="0.8"/>
<polygon points="201.72,67.68 203.45,69.4 201.72,71.13 200,69.4" fill="#fff" stroke="#f0f" stroke-width="0.8"/>
<polygon points="202.64,65.24 204.36,66.97 202.64,68.69 200.91,66.97" fill="#fff" stroke="#f0f" stroke-width="0.8"/>
<polygon points="203.7,62.87 205.43,64.6 203.7,66.32 201.98,64.6" fill="#fff" stroke="#f0f" stroke-width="0.8"/>
<polygon points="204.86,60.55 206.59,62.27 204.86,64 203.14,62.27" fill="#fff" stroke="#f0f" stroke-width="0.8"/>
<polygon points="206.03,58.22 207.75,59.95 206.03,61.67 204.3,59.95" fill="#fff" stroke="#f0f" stroke-width="0.8"/>
<polygon points="207.84,58.04 209.56,59.76 207.84,61.49 206.11,59.76" fill="#fff" stroke="#f0f" stroke-width="0.8"/>
<polygon points="210.08,59.34 211.81,61.07 210.08,62.79 208.36,61.07" fill="#fff" stroke="#f0f" stroke-width="0.8"/>
<polygon points="212.11,60.97 213.84,62.69 212.11,64.42 210.39,62.69" fill="#fff" stroke="#f0f" stroke-width="0.8"/>
<polygon points="214.15,62.59 215.87,64.32 214.15,66.04 212.42,64.32" fill="#fff" stroke="#f0f" stroke-width="0.8"/>
<polygon points="216.25,64.11 217.98,65.84 216.25,67.56 214.53,65.84" fill="#fff" stroke="#f0f" stroke-width="0.8"/>
<polygon points="218.42,65.55 220.14,67.28 218.42,69 216.69,67.28" fill="#fff" stroke="#f0f" stroke-width="0.8"/>
<polygon points="220.58,66.99 222.3,68.72 220.58,70.44 218.85,68.72" fill="#fff" stroke="#f0f" stroke-width="0.8"/>
<polygon points="222.78,68.38 224.5,70.11 222.78,71.83 221.05,70.11" fill="#fff" stroke="#f0f" stroke-width="0.8"/>
<polygon points="224.98,69.76 226.71,71.49 224.98,73.21 223.26,71.49" fill="#fff" stroke="#f0f" stroke-width="0.8"/>
<polygon points="227.19,71.14 228.91,72.87 227.19,74.59 225.46,72.87" fill="#fff" stroke="#f0f" stroke-width="0.8"/>
<polygon points="229.4,72.5 231.13,74.22 229.4,75.95 227.68,74.22" fill="#fff" stroke="#f0f" stroke-width="0.8"/>
<polygon points="231.68,73.76 233.4,75.49 231.68,77.21 229.95,75.49" fill="#fff" stroke="#f0f" stroke-width="0.8"/>
<polygon points="233.95,75.02 235.67,76.75 233.95,78.47 232.22,76.75" fill="#fff" stroke="#f0f" stroke-width="0.8"/>
<polygon points="236.22,76.29 237.95,78.01 236.22,79.74 234.5,78.01" fill="#fff" stroke="#f0f" stroke-width="0.8"/>
<polygon points="238.52,77.48 240.25,79.21 238.52,80.93 236.8,79.21" fill="#fff" stroke="#f0f" stroke-width="0.8"/>
<polygon points="240.94,78.45 242.66,80.18 240.94,81.9 239.21,80.18" fill="#fff" stroke="#f0f" stroke-width="0.8"/>
<polygon points="243.35,79.42 245.08,81.14 243.35,82.87 241.63,81.14" fill="#fff" stroke="#f0f" stroke-width="0.8"/>
<polygon points="245.77,80.38 247.49,82.11 245.77,83.83 244.04,82.11" fill="#fff" stroke="#f0f" stroke-width="0.8"/>
<polygon points="248.19,81.33 249.91,83.05 248.19,84.78 246.46,83.05" fill="#fff" stroke="#f0f" stroke-width="0.8"/>
<polygon points="250.68,82.06 252.41,83.78 250.68,85.51 248.96,83.78" fill="#fff" stroke="#f0f" stroke-width="0.8"/>
<polygon points="253.18,82.79 254.9,84.51 253.18,86.24 251.45,84.51" fill="#fff" stroke="#f0f" stroke-width="0.8"/>
<polygon points="255.67,83.51 257.4,85.24 255.67,86.96 253.95,85.24" fill="#fff" stroke="#f0f" stroke-width="0.8"/>
<polygon points="258.17,84.24 259.9,85.97 258.17,87.69 256.45,85.97" fill="#fff" stroke="#f0f" stroke-width="0.8"/>
<polygon points="260.68,84.92 262.4,86.64 260.68,88.37 258.95,86.64" fill="#fff" stroke="#f0f" stroke-width="0.8"/>
<polygon points="263.23,85.45 264.95,87.17 263.23,88.9 261.5,87.17" fill="#fff" stroke="#f0f" stroke-width="0.8"/>
<polygon points="265.77,85.98 267.5,87.7 265.77,89.43 264.05,87.7" fill="#fff" stroke="#f0f" stroke-width="0.8"/>
<polygon points="268.32,86.51 270.04,88.23 268.32,89.96 266.59,88.23" fill="#fff" stroke="#f0f" stroke-width="0.8"/>
<polygon points="270.86,87.04 272.59,88.76 270.86,90.49 269.14,88.76" fill="#fff" stroke="#f0f" stroke-width="0.8"/>
<polygon points="273.42,87.49 275.14,89.22 273.42,90.94 271.69,89.22" fill="#fff" stroke="#f0f" stroke-width="0.8"/>
<polygon points="275.99,87.89 277.71,89.61 275.99,91.34 274.26,89.61" fill="#fff" stroke="#f0f" stroke-width="0.8"/>
<polygon points="278.56,88.28 280.28,90.01 278.56,91.73 276.83,90.01" fill="#fff" stroke="#f0f" stroke-width="0.8"/>
<polygon points="281.13,88.68 282.85,90.4 281.13,92.13 279.4,90.4" fill="#fff" stroke="#f0f" stroke-width="0.8"/>
<polygon points="283.7,89.07 285.42,90.8 283.7,92.52 281.97,90.8" fill="#fff" stroke="#f0f" stroke-width="0.8"/>
<polygon points="286.28,89.36 288.01,91.09 286.28,92.81 284.56,91.09" fill="#fff" stroke="#f0f" stroke-width="0.8"/>
<polygon points="288.88,89.53 290.6,91.26 288.88,92.98 287.15,91.26" fill="#fff" stroke="#f0f" stroke-width="0.8"/>
<polygon points="291.47,89.71 293.19,91.43 291.47,93.16 289.74,91.43" fill="#fff" stroke="#f0f" stroke-width="0.8"/>
<polygon points="294.06,89.88 295.79,91.6 294.06,93.33 292.34,91.6" fill="#fff" stroke="#f0f" stroke-width="0.8"/>
<polygon points="296.66,90.05 298.38,91.78 296.66,93.5 294.93,91.78" fill="#fff" stroke="#f0f" stroke-width="0.8"/>
<polygon points="299.25,90.23 300.98,91.95 299.25,93.68 297.53,91.95" fill="#fff" stroke="#f0f" stroke-width="0.8"/>
<polygon points="301.85,90.32 303.57,92.05 301.85,93.77 300.12,92.05" fill="#fff" stroke="#f0f" stroke-width="0.8"/>
<polygon points="304.45,90.4 306.17,92.12 304.45,93.85 302.72,92.12" fill="#fff" stroke="#f0f" stroke-width="0.8"/>
<polygon points="307.05,90.47 308.77,92.19 307.05,93.92 305.32,92.19" fill="#fff" stroke="#f0f" stroke-width="0.8"/>
<polygon points="309.65,90.54 311.37,92.26 309.65,93.99 307.92,92.26" fill="#fff" stroke="#f0f" stroke-width="0.8"/>
<polygon points="312.25,90.61 313.97,92.33 312.25,94.06 310.52,92.33" fill="#fff" stroke="#f0f" stroke-width="0.8"/>
<polygon points="314.85,90.68 316.57,92.4 314.85,94.13 313.12,92.4" fill="#fff" stroke="#f0f" stroke-width="0.8"/>
<polygon points="317.44,90.75 319.17,92.47 317.44,94.2 315.72,92.47" fill="#fff" stroke="#f0f" stroke-width="0.8"/>
<polyline points="192,108 195,101 199,89 203,79 207,71 211,67 216,69 222,72 230,77 240,81 252,84.5 265,87 280,88.5 295,89.5 318.5,90" fill="none" stroke="#0ff" stroke-width="0.8" stroke-linejoin="round" />
<circle cx="192" cy="108" r="1.5" fill="#fff" stroke="#0ff" stroke-width="0.8"/>
<circle cx="193.02" cy="105.61" r="1.5" fill="#fff" stroke="#0ff" stroke-width="0.8"/>
<circle cx="194.05" cy="103.22" r="1.5" fill="#fff" stroke="#0ff" stroke-width="0.8"/>
<circle cx="195.06" cy="100.83" r="1.5" fill="#fff" stroke="#0ff" stroke-width="0.8"/>
<circle cx="195.88" cy="98.36" r="1.5" fill="#fff" stroke="#0ff" stroke-width="0.8"/>
<circle cx="196.7" cy="95.89" r="1.5" fill="#fff" stroke="#0ff" stroke-width="0.8"/>
<circle cx="197.52" cy="93.43" r="1.5" fill="#fff" stroke="#0ff" stroke-width="0.8"/>
<circle cx="198.35" cy="90.96" r="1.5" fill="#fff" stroke="#0ff" stroke-width="0.8"/>
<circle cx="199.2" cy="88.5" r="1.5" fill="#fff" stroke="#0ff" stroke-width="0.8"/>
<circle cx="200.16" cy="86.09" r="1.5" fill="#fff" stroke="#0ff" stroke-width="0.8"/>
<circle cx="201.13" cy="83.68" r="1.5" fill="#fff" stroke="#0ff" stroke-width="0.8"/>
<circle cx="202.1" cy="81.26" r="1.5" fill="#fff" stroke="#0ff" stroke-width="0.8"/>
<circle cx="203.07" cy="78.85" r="1.5" fill="#fff" stroke="#0ff" stroke-width="0.8"/>
<circle cx="204.24" cy="76.53" r="1.5" fill="#fff" stroke="#0ff" stroke-width="0.8"/>
<circle cx="205.4" cy="74.2" r="1.5" fill="#fff" stroke="#0ff" stroke-width="0.8"/>
<circle cx="206.56" cy="71.88" r="1.5" fill="#fff" stroke="#0ff" stroke-width="0.8"/>
<circle cx="208.15" cy="69.85" r="1.5" fill="#fff" stroke="#0ff" stroke-width="0.8"/>
<circle cx="209.98" cy="68.02" r="1.5" fill="#fff" stroke="#0ff" stroke-width="0.8"/>
<circle cx="212.08" cy="67.43" r="1.5" fill="#fff" stroke="#0ff" stroke-width="0.8"/>
<circle cx="214.49" cy="68.4" r="1.5" fill="#fff" stroke="#0ff" stroke-width="0.8"/>
<circle cx="216.88" cy="69.44" r="1.5" fill="#fff" stroke="#0ff" stroke-width="0.8"/>
<circle cx="219.2" cy="70.6" r="1.5" fill="#fff" stroke="#0ff" stroke-width="0.8"/>
<circle cx="221.53" cy="71.76" r="1.5" fill="#fff" stroke="#0ff" stroke-width="0.8"/>
<circle cx="223.76" cy="73.1" r="1.5" fill="#fff" stroke="#0ff" stroke-width="0.8"/>
<circle cx="225.96" cy="74.48" r="1.5" fill="#fff" stroke="#0ff" stroke-width="0.8"/>
<circle cx="228.17" cy="75.85" r="1.5" fill="#fff" stroke="#0ff" stroke-width="0.8"/>
<circle cx="230.41" cy="77.16" r="1.5" fill="#fff" stroke="#0ff" stroke-width="0.8"/>
<circle cx="232.82" cy="78.13" r="1.5" fill="#fff" stroke="#0ff" stroke-width="0.8"/>
<circle cx="235.23" cy="79.09" r="1.5" fill="#fff" stroke="#0ff" stroke-width="0.8"/>
<circle cx="237.65" cy="80.06" r="1.5" fill="#fff" stroke="#0ff" stroke-width="0.8"/>
<circle cx="240.06" cy="81.02" r="1.5" fill="#fff" stroke="#0ff" stroke-width="0.8"/>
<circle cx="242.56" cy="81.75" r="1.5" fill="#fff" stroke="#0ff" stroke-width="0.8"/>
<circle cx="245.06" cy="82.47" r="1.5" fill="#fff" stroke="#0ff" stroke-width="0.8"/>
<circle cx="247.55" cy="83.2" r="1.5" fill="#fff" stroke="#0ff" stroke-width="0.8"/>
<circle cx="250.05" cy="83.93" r="1.5" fill="#fff" stroke="#0ff" stroke-width="0.8"/>
<circle cx="252.56" cy="84.61" r="1.5" fill="#fff" stroke="#0ff" stroke-width="0.8"/>
<circle cx="255.11" cy="85.1" r="1.5" fill="#fff" stroke="#0ff" stroke-width="0.8"/>
<circle cx="257.66" cy="85.59" r="1.5" fill="#fff" stroke="#0ff" stroke-width="0.8"/>
<circle cx="260.22" cy="86.08" r="1.5" fill="#fff" stroke="#0ff" stroke-width="0.8"/>
<circle cx="262.77" cy="86.57" r="1.5" fill="#fff" stroke="#0ff" stroke-width="0.8"/>
<circle cx="265.33" cy="87.03" r="1.5" fill="#fff" stroke="#0ff" stroke-width="0.8"/>
<circle cx="267.91" cy="87.29" r="1.5" fill="#fff" stroke="#0ff" stroke-width="0.8"/>
<circle cx="270.5" cy="87.55" r="1.5" fill="#fff" stroke="#0ff" stroke-width="0.8"/>
<circle cx="273.09" cy="87.81" r="1.5" fill="#fff" stroke="#0ff" stroke-width="0.8"/>
<circle cx="275.67" cy="88.07" r="1.5" fill="#fff" stroke="#0ff" stroke-width="0.8"/>
<circle cx="278.26" cy="88.33" r="1.5" fill="#fff" stroke="#0ff" stroke-width="0.8"/>
<circle cx="280.85" cy="88.56" r="1.5" fill="#fff" stroke="#0ff" stroke-width="0.8"/>
<circle cx="283.45" cy="88.73" r="1.5" fill="#fff" stroke="#0ff" stroke-width="0.8"/>
<circle cx="286.04" cy="88.9" r="1.5" fill="#fff" stroke="#0ff" stroke-width="0.8"/>
<circle cx="288.63" cy="89.08" r="1.5" fill="#fff" stroke="#0ff" stroke-width="0.8"/>
<circle cx="291.23" cy="89.25" r="1.5" fill="#fff" stroke="#0ff" stroke-width="0.8"/>
<circle cx="293.82" cy="89.42" r="1.5" fill="#fff" stroke="#0ff" stroke-width="0.8"/>
<circle cx="296.42" cy="89.53" r="1.5" fill="#fff" stroke="#0ff" stroke-width="0.8"/>
<circle cx="299.02" cy="89.59" r="1.5" fill="#fff" stroke="#0ff" stroke-width="0.8"/>
<circle cx="301.62" cy="89.64" r="1.5" fill="#fff" stroke="#0ff" stroke-width="0.8"/>
<circle cx="304.22" cy="89.7" r="1.5" fill="#fff" stroke="#0ff" stroke-width="0.8"/>
<circle cx="306.82" cy="89.75" r="1.5" fill="#fff" stroke="#0ff" stroke-width="0.8"/>
<circle cx="309.42" cy="89.81" r="1.5" fill="#fff" stroke="#0ff" stroke-width="0.8"/>
<circle cx="312.02" cy="89.86" r="1.5" fill="#fff" stroke="#0ff" stroke-width="0.8"/>
<circle cx="314.62" cy="89.92" r="1.5" fill="#fff" stroke="#0ff" stroke-width="0.8"/>
<circle cx="317.21" cy="89.97" r="1.5" fill="#fff" stroke="#0ff" stroke-width="0.8"/>
<polyline points="192,109 196,104 200,97 205,88 210,81 215,76 220,72 226,75 233,78 242,81 255,83.5 270,85 285,85.5 300,85 318.5,84" fill="none" stroke="#ff0" stroke-width="0.8" stroke-linejoin="round" />
<polygon points="192,110.76 193.76,107.72 190.24,107.72" fill="#ff0" stroke="#ff0" stroke-width="0.8"/>
<polygon points="193.62,108.73 195.38,105.69 191.86,105.69" fill="#ff0" stroke="#ff0" stroke-width="0.8"/>
<polygon points="195.25,106.7 197.01,103.66 193.49,103.66" fill="#ff0" stroke="#ff0" stroke-width="0.8"/>
<polygon points="196.69,104.55 198.45,101.51 194.93,101.51" fill="#ff0" stroke="#ff0" stroke-width="0.8"/>
<polygon points="197.98,102.29 199.74,99.25 196.22,99.25" fill="#ff0" stroke="#ff0" stroke-width="0.8"/>
<polygon points="199.27,100.03 201.03,96.99 197.51,96.99" fill="#ff0" stroke="#ff0" stroke-width="0.8"/>
<polygon points="200.55,97.77 202.31,94.73 198.79,94.73" fill="#ff0" stroke="#ff0" stroke-width="0.8"/>
<polygon points="201.81,95.5 203.57,92.46 200.05,92.46" fill="#ff0" stroke="#ff0" stroke-width="0.8"/>
<polygon points="203.08,93.22 204.84,90.18 201.32,90.18" fill="#ff0" stroke="#ff0" stroke-width="0.8"/>
<polygon points="204.34,90.95 206.1,87.91 202.58,87.91" fill="#ff0" stroke="#ff0" stroke-width="0.8"/>
<polygon points="205.72,88.75 207.48,85.71 203.96,85.71" fill="#ff0" stroke="#ff0" stroke-width="0.8"/>
<polygon points="207.23,86.64 208.99,83.6 205.47,83.6" fill="#ff0" stroke="#ff0" stroke-width="0.8"/>
<polygon points="208.74,84.52 210.5,81.48 206.98,81.48" fill="#ff0" stroke="#ff0" stroke-width="0.8"/>
<polygon points="210.31,82.45 212.07,79.41 208.55,79.41" fill="#ff0" stroke="#ff0" stroke-width="0.8"/>
<polygon points="212.15,80.61 213.91,77.57 210.39,77.57" fill="#ff0" stroke="#ff0" stroke-width="0.8"/>
<polygon points="213.99,78.77 215.75,75.73 212.23,75.73" fill="#ff0" stroke="#ff0" stroke-width="0.8"/>
<polygon points="215.91,77.03 217.67,73.99 214.15,73.99" fill="#ff0" stroke="#ff0" stroke-width="0.8"/>
<polygon points="217.94,75.41 219.7,72.37 216.18,72.37" fill="#ff0" stroke="#ff0" stroke-width="0.8"/>
<polygon points="219.97,73.78 221.73,70.74 218.21,70.74" fill="#ff0" stroke="#ff0" stroke-width="0.8"/>
<polygon points="222.29,74.91 224.05,71.87 220.53,71.87" fill="#ff0" stroke="#ff0" stroke-width="0.8"/>
<polygon points="224.62,76.07 226.38,73.03 222.86,73.03" fill="#ff0" stroke="#ff0" stroke-width="0.8"/>
<polygon points="226.97,77.18 228.73,74.14 225.21,74.14" fill="#ff0" stroke="#ff0" stroke-width="0.8"/>
<polygon points="229.36,78.2 231.12,75.16 227.6,75.16" fill="#ff0" stroke="#ff0" stroke-width="0.8"/>
<polygon points="231.75,79.22 233.51,76.18 229.99,76.18" fill="#ff0" stroke="#ff0" stroke-width="0.8"/>
<polygon points="234.17,80.15 235.93,77.11 232.41,77.11" fill="#ff0" stroke="#ff0" stroke-width="0.8"/>
<polygon points="236.64,80.97 238.4,77.93 234.88,77.93" fill="#ff0" stroke="#ff0" stroke-width="0.8"/>
<polygon points="239.11,81.8 240.87,78.76 237.35,78.76" fill="#ff0" stroke="#ff0" stroke-width="0.8"/>
<polygon points="241.57,82.62 243.33,79.58 239.81,79.58" fill="#ff0" stroke="#ff0" stroke-width="0.8"/>
<polygon points="244.11,83.17 245.87,80.13 242.35,80.13" fill="#ff0" stroke="#ff0" stroke-width="0.8"/>
<polygon points="246.67,83.66 248.43,80.62 244.91,80.62" fill="#ff0" stroke="#ff0" stroke-width="0.8"/>
<polygon points="249.22,84.15 250.98,81.11 247.46,81.11" fill="#ff0" stroke="#ff0" stroke-width="0.8"/>
<polygon points="251.77,84.64 253.53,81.6 250.01,81.6" fill="#ff0" stroke="#ff0" stroke-width="0.8"/>
<polygon points="254.33,85.13 256.09,82.09 252.57,82.09" fill="#ff0" stroke="#ff0" stroke-width="0.8"/>
<polygon points="256.9,85.45 258.66,82.41 255.14,82.41" fill="#ff0" stroke="#ff0" stroke-width="0.8"/>
<polygon points="259.49,85.71 261.25,82.67 257.73,82.67" fill="#ff0" stroke="#ff0" stroke-width="0.8"/>
<polygon points="262.08,85.97 263.84,82.93 260.32,82.93" fill="#ff0" stroke="#ff0" stroke-width="0.8"/>
<polygon points="264.67,86.23 266.43,83.19 262.91,83.19" fill="#ff0" stroke="#ff0" stroke-width="0.8"/>
<polygon points="267.25,86.49 269.01,83.45 265.49,83.45" fill="#ff0" stroke="#ff0" stroke-width="0.8"/>
<polygon points="269.84,86.74 271.6,83.7 268.08,83.7" fill="#ff0" stroke="#ff0" stroke-width="0.8"/>
<polygon points="272.44,86.84 274.2,83.8 270.68,83.8" fill="#ff0" stroke="#ff0" stroke-width="0.8"/>
<polygon points="275.04,86.93 276.8,83.89 273.28,83.89" fill="#ff0" stroke="#ff0" stroke-width="0.8"/>
<polygon points="277.63,87.01 279.39,83.97 275.87,83.97" fill="#ff0" stroke="#ff0" stroke-width="0.8"/>
<polygon points="280.23,87.1 281.99,84.06 278.47,84.06" fill="#ff0" stroke="#ff0" stroke-width="0.8"/>
<polygon points="282.83,87.19 284.59,84.15 281.07,84.15" fill="#ff0" stroke="#ff0" stroke-width="0.8"/>
<polygon points="285.43,87.25 287.19,84.21 283.67,84.21" fill="#ff0" stroke="#ff0" stroke-width="0.8"/>
<polygon points="288.03,87.16 289.79,84.12 286.27,84.12" fill="#ff0" stroke="#ff0" stroke-width="0.8"/>
<polygon points="290.63,87.07 292.39,84.03 288.87,84.03" fill="#ff0" stroke="#ff0" stroke-width="0.8"/>
<polygon points="293.23,86.99 294.99,83.95 291.47,83.95" fill="#ff0" stroke="#ff0" stroke-width="0.8"/>
<polygon points="295.82,86.9 297.58,83.86 294.06,83.86" fill="#ff0" stroke="#ff0" stroke-width="0.8"/>
<polygon points="298.42,86.81 300.18,83.77 296.66,83.77" fill="#ff0" stroke="#ff0" stroke-width="0.8"/>
<polygon points="301.02,86.7 302.78,83.66 299.26,83.66" fill="#ff0" stroke="#ff0" stroke-width="0.8"/>
<polygon points="303.62,86.56 305.38,83.52 301.86,83.52" fill="#ff0" stroke="#ff0" stroke-width="0.8"/>
<polygon points="306.21,86.42 307.97,83.38 304.45,83.38" fill="#ff0" stroke="#ff0" stroke-width="0.8"/>
<polygon points="308.81,86.28 310.57,83.24 307.05,83.24" fill="#ff0" stroke="#ff0" stroke-width="0.8"/>
<polygon points="311.41,86.14 313.17,83.1 309.65,83.1" fill="#ff0" stroke="#ff0" stroke-width="0.8"/>
<polygon points="314,86 315.76,82.96 312.24,82.96" fill="#ff0" stroke="#ff0" stroke-width="0.8"/>
<polygon points="316.6,85.86 318.36,82.82 314.84,82.82" fill="#ff0" stroke="#ff0" stroke-width="0.8"/>
<polyline points="191.5,109 194,106 197.8,103 201.6,99.2 204.7,95.4 206.6,91 208.5,86.6 211,84.7 214.2,82.8 216.1,79.7 218.6,83.5 219.9,76.5 222,73.8 224.3,73.8 226.4,80.3 228,77.8 230.6,75.9 233.1,75.9 236.2,77.8 238.7,75.5 243.4,77.1 248.3,78.9 252,80.2 255.6,78.3 260.5,77.7 266,79 271.6,77.1 276.5,80.2 281.4,78.3 285.1,79.5 290,77.7 294.9,76.5 299.8,74.6 304.7,73.4 309.6,72.2 312.7,70.3 316.4,68.5 319,67" fill="none" stroke="#670748" stroke-width="0.8" stroke-linejoin="round" />
<rect x="190" y="107.5" width="3" height="3" fill="#fff" stroke="#670748" stroke-width="0.8"/>
<rect x="191.79" y="105.35" width="3" height="3" fill="#fff" stroke="#670748" stroke-width="0.8"/>
<rect x="193.83" y="103.45" width="3" height="3" fill="#fff" stroke="#670748" stroke-width="0.8"/>
<rect x="196.03" y="101.71" width="3" height="3" fill="#fff" stroke="#670748" stroke-width="0.8"/>
<rect x="198.03" y="99.77" width="3" height="3" fill="#fff" stroke="#670748" stroke-width="0.8"/>
<rect x="200.01" y="97.79" width="3" height="3" fill="#fff" stroke="#670748" stroke-width="0.8"/>
<rect x="201.79" y="95.62" width="3" height="3" fill="#fff" stroke="#670748" stroke-width="0.8"/>
<rect x="203.43" y="93.37" width="3" height="3" fill="#fff" stroke="#670748" stroke-width="0.8"/>
<rect x="204.54" y="90.8" width="3" height="3" fill="#fff" stroke="#670748" stroke-width="0.8"/>
<rect x="205.65" y="88.23" width="3" height="3" fill="#fff" stroke="#670748" stroke-width="0.8"/>
<rect x="206.76" y="85.66" width="3" height="3" fill="#fff" stroke="#670748" stroke-width="0.8"/>
<rect x="208.74" y="83.77" width="3" height="3" fill="#fff" stroke="#670748" stroke-width="0.8"/>
<rect x="211.09" y="82.26" width="3" height="3" fill="#fff" stroke="#670748" stroke-width="0.8"/>
<rect x="213.19" y="80.51" width="3" height="3" fill="#fff" stroke="#670748" stroke-width="0.8"/>
<rect x="214.65" y="78.28" width="3" height="3" fill="#fff" stroke="#670748" stroke-width="0.8"/>
<rect x="216.19" y="80.62" width="3" height="3" fill="#fff" stroke="#670748" stroke-width="0.8"/>
<rect x="217.31" y="80.88" width="3" height="3" fill="#fff" stroke="#670748" stroke-width="0.8"/>
<rect x="217.82" y="78.12" width="3" height="3" fill="#fff" stroke="#670748" stroke-width="0.8"/>
<rect x="218.33" y="75.37" width="3" height="3" fill="#fff" stroke="#670748" stroke-width="0.8"/>
<rect x="219.89" y="73.09" width="3" height="3" fill="#fff" stroke="#670748" stroke-width="0.8"/>
<rect x="222.3" y="72.3" width="3" height="3" fill="#fff" stroke="#670748" stroke-width="0.8"/>
<rect x="223.51" y="74.49" width="3" height="3" fill="#fff" stroke="#670748" stroke-width="0.8"/>
<rect x="224.37" y="77.16" width="3" height="3" fill="#fff" stroke="#670748" stroke-width="0.8"/>
<rect x="225.48" y="77.9" width="3" height="3" fill="#fff" stroke="#670748" stroke-width="0.8"/>
<rect x="227.23" y="75.77" width="3" height="3" fill="#fff" stroke="#670748" stroke-width="0.8"/>
<rect x="229.58" y="74.4" width="3" height="3" fill="#fff" stroke="#670748" stroke-width="0.8"/>
<rect x="232.27" y="74.81" width="3" height="3" fill="#fff" stroke="#670748" stroke-width="0.8"/>
<rect x="234.66" y="76.27" width="3" height="3" fill="#fff" stroke="#670748" stroke-width="0.8"/>
<rect x="236.72" y="74.44" width="3" height="3" fill="#fff" stroke="#670748" stroke-width="0.8"/>
<rect x="239.24" y="74.69" width="3" height="3" fill="#fff" stroke="#670748" stroke-width="0.8"/>
<rect x="241.89" y="75.6" width="3" height="3" fill="#fff" stroke="#670748" stroke-width="0.8"/>
<rect x="244.52" y="76.56" width="3" height="3" fill="#fff" stroke="#670748" stroke-width="0.8"/>
<rect x="247.15" y="77.52" width="3" height="3" fill="#fff" stroke="#670748" stroke-width="0.8"/>
<rect x="249.79" y="78.45" width="3" height="3" fill="#fff" stroke="#670748" stroke-width="0.8"/>
<rect x="252.31" y="77.75" width="3" height="3" fill="#fff" stroke="#670748" stroke-width="0.8"/>
<rect x="254.87" y="76.71" width="3" height="3" fill="#fff" stroke="#670748" stroke-width="0.8"/>
<rect x="257.65" y="76.37" width="3" height="3" fill="#fff" stroke="#670748" stroke-width="0.8"/>
<rect x="260.4" y="76.53" width="3" height="3" fill="#fff" stroke="#670748" stroke-width="0.8"/>
<rect x="263.12" y="77.17" width="3" height="3" fill="#fff" stroke="#670748" stroke-width="0.8"/>
<rect x="265.81" y="77.05" width="3" height="3" fill="#fff" stroke="#670748" stroke-width="0.8"/>
<rect x="268.46" y="76.16" width="3" height="3" fill="#fff" stroke="#670748" stroke-width="0.8"/>
<rect x="271.01" y="76.17" width="3" height="3" fill="#fff" stroke="#670748" stroke-width="0.8"/>
<rect x="273.37" y="77.67" width="3" height="3" fill="#fff" stroke="#670748" stroke-width="0.8"/>
<rect x="275.81" y="78.38" width="3" height="3" fill="#fff" stroke="#670748" stroke-width="0.8"/>
<rect x="278.43" y="77.37" width="3" height="3" fill="#fff" stroke="#670748" stroke-width="0.8"/>
<rect x="281.06" y="77.18" width="3" height="3" fill="#fff" stroke="#670748" stroke-width="0.8"/>
<rect x="283.72" y="77.96" width="3" height="3" fill="#fff" stroke="#670748" stroke-width="0.8"/>
<rect x="286.35" y="76.99" width="3" height="3" fill="#fff" stroke="#670748" stroke-width="0.8"/>
<rect x="288.99" y="76.08" width="3" height="3" fill="#fff" stroke="#670748" stroke-width="0.8"/>
<rect x="291.71" y="75.41" width="3" height="3" fill="#fff" stroke="#670748" stroke-width="0.8"/>
<rect x="294.39" y="74.62" width="3" height="3" fill="#fff" stroke="#670748" stroke-width="0.8"/>
<rect x="297" y="73.6" width="3" height="3" fill="#fff" stroke="#670748" stroke-width="0.8"/>
<rect x="299.67" y="72.77" width="3" height="3" fill="#fff" stroke="#670748" stroke-width="0.8"/>
<rect x="302.39" y="72.1" width="3" height="3" fill="#fff" stroke="#670748" stroke-width="0.8"/>
<rect x="305.11" y="71.43" width="3" height="3" fill="#fff" stroke="#670748" stroke-width="0.8"/>
<rect x="307.83" y="70.77" width="3" height="3" fill="#fff" stroke="#670748" stroke-width="0.8"/>
<rect x="310.25" y="69.38" width="3" height="3" fill="#fff" stroke="#670748" stroke-width="0.8"/>
<rect x="312.71" y="68.06" width="3" height="3" fill="#fff" stroke="#670748" stroke-width="0.8"/>
<rect x="315.22" y="66.82" width="3" height="3" fill="#fff" stroke="#670748" stroke-width="0.8"/>
<polygon points="191,104 198,101 200,106 194,111 191,111" fill="#670748"/>
</g>
<polygon points="266.1,76.05 270.6,84.55 261.6,84.55" fill="#670748" stroke="none" stroke-width="1.2"/>
<polygon points="297.3,83.45 302.55,92.95 292.05,92.95" fill="#ff0" stroke="#000" stroke-width="1.2"/>
<polygon points="312.1,85.85 317.35,95.35 306.85,95.35" fill="#0ff" stroke="#000" stroke-width="1.2"/>
<rect x="191.3" y="10.5" width="127.2" height="99.5" fill="none" stroke="#666" stroke-width="0.9"/>
<line x1="218.5" y1="110" x2="218.5" y2="106" stroke="#666" stroke-width="0.9"/>
<line x1="218.5" y1="10.5" x2="218.5" y2="14.5" stroke="#666" stroke-width="0.9"/>
<line x1="258.4" y1="110" x2="258.4" y2="106" stroke="#666" stroke-width="0.9"/>
<line x1="258.4" y1="10.5" x2="258.4" y2="14.5" stroke="#666" stroke-width="0.9"/>
<line x1="298.3" y1="110" x2="298.3" y2="106" stroke="#666" stroke-width="0.9"/>
<line x1="298.3" y1="10.5" x2="298.3" y2="14.5" stroke="#666" stroke-width="0.9"/>
<line x1="198.55" y1="110" x2="198.55" y2="107.5" stroke="#666" stroke-width="0.9"/>
<line x1="198.55" y1="10.5" x2="198.55" y2="13" stroke="#666" stroke-width="0.9"/>
<line x1="238.45" y1="110" x2="238.45" y2="107.5" stroke="#666" stroke-width="0.9"/>
<line x1="238.45" y1="10.5" x2="238.45" y2="13" stroke="#666" stroke-width="0.9"/>
<line x1="278.35" y1="110" x2="278.35" y2="107.5" stroke="#666" stroke-width="0.9"/>
<line x1="278.35" y1="10.5" x2="278.35" y2="13" stroke="#666" stroke-width="0.9"/>
<line x1="318.25" y1="110" x2="318.25" y2="107.5" stroke="#666" stroke-width="0.9"/>
<line x1="318.25" y1="10.5" x2="318.25" y2="13" stroke="#666" stroke-width="0.9"/>
<line x1="191.3" y1="92.5" x2="195.3" y2="92.5" stroke="#666" stroke-width="0.9"/>
<line x1="318.5" y1="92.5" x2="314.5" y2="92.5" stroke="#666" stroke-width="0.9"/>
<line x1="191.3" y1="68.8" x2="195.3" y2="68.8" stroke="#666" stroke-width="0.9"/>
<line x1="318.5" y1="68.8" x2="314.5" y2="68.8" stroke="#666" stroke-width="0.9"/>
<line x1="191.3" y1="45.1" x2="195.3" y2="45.1" stroke="#666" stroke-width="0.9"/>
<line x1="318.5" y1="45.1" x2="314.5" y2="45.1" stroke="#666" stroke-width="0.9"/>
<line x1="191.3" y1="21.4" x2="195.3" y2="21.4" stroke="#666" stroke-width="0.9"/>
<line x1="318.5" y1="21.4" x2="314.5" y2="21.4" stroke="#666" stroke-width="0.9"/>
<line x1="191.3" y1="80.65" x2="193.8" y2="80.65" stroke="#666" stroke-width="0.9"/>
<line x1="318.5" y1="80.65" x2="316" y2="80.65" stroke="#666" stroke-width="0.9"/>
<line x1="191.3" y1="56.95" x2="193.8" y2="56.95" stroke="#666" stroke-width="0.9"/>
<line x1="318.5" y1="56.95" x2="316" y2="56.95" stroke="#666" stroke-width="0.9"/>
<line x1="191.3" y1="33.25" x2="193.8" y2="33.25" stroke="#666" stroke-width="0.9"/>
<line x1="318.5" y1="33.25" x2="316" y2="33.25" stroke="#666" stroke-width="0.9"/>
<text x="218.5" y="119.2" font-size="9" text-anchor="middle" fill="#000" >0,2</text>
<text x="258.4" y="119.2" font-size="9" text-anchor="middle" fill="#000" >0,4</text>
<text x="298.3" y="119.2" font-size="9" text-anchor="middle" fill="#000" >0,6</text>
<text x="189.6" y="95.6" font-size="9" text-anchor="end" fill="#000" >0,2</text>
<text x="189.6" y="71.9" font-size="9" text-anchor="end" fill="#000" >0,4</text>
<text x="189.6" y="48.2" font-size="9" text-anchor="end" fill="#000" >0,6</text>
<text x="189.6" y="24.5" font-size="9" text-anchor="end" fill="#000" >0,8</text>
<polyline points="262,18.2 272.6,18.2" fill="none" stroke="#00f" stroke-width="1" stroke-linejoin="round" />
<polygon points="262,16.33 263.87,19.56 260.13,19.56" fill="#fff" stroke="#00f" stroke-width="1.0"/>
<polygon points="272.6,16.33 274.47,19.56 270.73,19.56" fill="#fff" stroke="#00f" stroke-width="1.0"/>
<text x="280.7" y="20.8" font-size="8" text-anchor="start" font-style="italic" fill="#000" >0.60</text>
<polyline points="262,25.95 272.6,25.95" fill="none" stroke="#bc8f8f" stroke-width="1" stroke-linejoin="round" />
<polygon points="262,27.82 263.87,24.59 260.13,24.59" fill="#fff" stroke="#bc8f8f" stroke-width="1.0"/>
<polygon points="272.6,27.82 274.47,24.59 270.73,24.59" fill="#fff" stroke="#bc8f8f" stroke-width="1.0"/>
<text x="280.7" y="28.55" font-size="8" text-anchor="start" font-style="italic" fill="#000" >0.50</text>
<polyline points="262,33.7 272.6,33.7" fill="none" stroke="#008b00" stroke-width="1" stroke-linejoin="round" />
<polygon points="263.87,33.7 260.64,31.83 260.64,35.57" fill="#fff" stroke="#008b00" stroke-width="1.0"/>
<polygon points="274.47,33.7 271.24,31.83 271.24,35.57" fill="#fff" stroke="#008b00" stroke-width="1.0"/>
<text x="280.7" y="36.3" font-size="8" text-anchor="start" font-style="italic" fill="#000" >0.40</text>
<polyline points="262,41.45 272.6,41.45" fill="none" stroke="#f0f" stroke-width="1" stroke-linejoin="round" />
<polygon points="262,39.5 263.95,41.45 262,43.41 260.05,41.45" fill="#fff" stroke="#f0f" stroke-width="1.0"/>
<polygon points="272.6,39.5 274.56,41.45 272.6,43.41 270.65,41.45" fill="#fff" stroke="#f0f" stroke-width="1.0"/>
<text x="280.7" y="44.05" font-size="8" text-anchor="start" font-style="italic" fill="#000" >0.30</text>
<polyline points="262,49.2 272.6,49.2" fill="none" stroke="#0ff" stroke-width="1" stroke-linejoin="round" />
<circle cx="262" cy="49.2" r="1.7" fill="#fff" stroke="#0ff" stroke-width="1.0"/>
<circle cx="272.6" cy="49.2" r="1.7" fill="#fff" stroke="#0ff" stroke-width="1.0"/>
<text x="280.7" y="51.8" font-size="8" text-anchor="start" font-style="italic" fill="#000" >0.20</text>
<polyline points="262,56.95 272.6,56.95" fill="none" stroke="#ff0" stroke-width="1" stroke-linejoin="round" />
<polygon points="262,58.82 263.87,55.59 260.13,55.59" fill="#ff0" stroke="#ff0" stroke-width="1.0"/>
<polygon points="272.6,58.82 274.47,55.59 270.73,55.59" fill="#ff0" stroke="#ff0" stroke-width="1.0"/>
<text x="280.7" y="59.55" font-size="8" text-anchor="start" font-style="italic" fill="#000" >0.10</text>
<polyline points="262,64.7 272.6,64.7" fill="none" stroke="#670748" stroke-width="1" stroke-linejoin="round" />
<rect x="260.3" y="63" width="3.4" height="3.4" fill="#fff" stroke="#670748" stroke-width="1.0"/>
<rect x="270.9" y="63" width="3.4" height="3.4" fill="#fff" stroke="#670748" stroke-width="1.0"/>
<text x="280.3" y="67.3" font-size="8" text-anchor="start" font-style="italic" fill="#000" >-0.10</text>
<polyline points="529.3,215.6 533.5,214.8 537.2,209.2 538.1,198.7 538.7,174.2 539.3,69.8 541.4,88.7 541.4,121.5 542.9,157.5 546.1,179.1 550.3,192.4 555.9,204.3 562.1,209.9 567.7,213.4 574,215.5 579.6,215.5" fill="none" stroke="#000" stroke-width="1.1" stroke-linejoin="round" />
<circle cx="529.3" cy="215.6" r="2.2" fill="#fff" stroke="#000" stroke-width="1.25"/>
<circle cx="533.5" cy="214.8" r="2.2" fill="#fff" stroke="#000" stroke-width="1.25"/>
<circle cx="537.2" cy="209.2" r="2.2" fill="#fff" stroke="#000" stroke-width="1.25"/>
<circle cx="538.1" cy="198.7" r="2.2" fill="#fff" stroke="#000" stroke-width="1.25"/>
<circle cx="538.7" cy="174.2" r="2.2" fill="#fff" stroke="#000" stroke-width="1.25"/>
<circle cx="539.3" cy="69.8" r="2.2" fill="#fff" stroke="#000" stroke-width="1.25"/>
<circle cx="541.4" cy="88.7" r="2.2" fill="#fff" stroke="#000" stroke-width="1.25"/>
<circle cx="541.4" cy="121.5" r="2.2" fill="#fff" stroke="#000" stroke-width="1.25"/>
<circle cx="542.9" cy="157.5" r="2.2" fill="#fff" stroke="#000" stroke-width="1.25"/>
<circle cx="546.1" cy="179.1" r="2.2" fill="#fff" stroke="#000" stroke-width="1.25"/>
<circle cx="550.3" cy="192.4" r="2.2" fill="#fff" stroke="#000" stroke-width="1.25"/>
<circle cx="555.9" cy="204.3" r="2.2" fill="#fff" stroke="#000" stroke-width="1.25"/>
<circle cx="562.1" cy="209.9" r="2.2" fill="#fff" stroke="#000" stroke-width="1.25"/>
<circle cx="567.7" cy="213.4" r="2.2" fill="#fff" stroke="#000" stroke-width="1.25"/>
<circle cx="574" cy="215.5" r="2.2" fill="#fff" stroke="#000" stroke-width="1.25"/>
<circle cx="579.6" cy="215.5" r="2.2" fill="#fff" stroke="#000" stroke-width="1.25"/>
<polyline points="515.3,216.2 520.3,214.6 523.7,213.6 527.6,211.8 529.3,199.5 531.4,177.7 531.6,153.8 532.4,144.6 532.4,126.3 532.4,91.4 532.4,69.1 533.5,144.2 534.5,159.6 535.3,169.3 538.4,186.8 544,197.3 550.3,201.5 555.9,205 562.1,209.2 567.7,212.7 573.3,215.5 580.3,215.5 585.9,215.5 592.2,215.5 597.1,215.5" fill="none" stroke="#f00" stroke-width="1.1" stroke-linejoin="round" />
<rect x="513.3" y="214.2" width="4" height="4" fill="#fff" stroke="#f00" stroke-width="1.25"/>
<rect x="518.3" y="212.6" width="4" height="4" fill="#fff" stroke="#f00" stroke-width="1.25"/>
<rect x="521.7" y="211.6" width="4" height="4" fill="#fff" stroke="#f00" stroke-width="1.25"/>
<rect x="525.6" y="209.8" width="4" height="4" fill="#fff" stroke="#f00" stroke-width="1.25"/>
<rect x="527.3" y="197.5" width="4" height="4" fill="#fff" stroke="#f00" stroke-width="1.25"/>
<rect x="529.4" y="175.7" width="4" height="4" fill="#fff" stroke="#f00" stroke-width="1.25"/>
<rect x="529.6" y="151.8" width="4" height="4" fill="#fff" stroke="#f00" stroke-width="1.25"/>
<rect x="530.4" y="142.6" width="4" height="4" fill="#fff" stroke="#f00" stroke-width="1.25"/>
<rect x="530.4" y="124.3" width="4" height="4" fill="#fff" stroke="#f00" stroke-width="1.25"/>
<rect x="530.4" y="89.4" width="4" height="4" fill="#fff" stroke="#f00" stroke-width="1.25"/>
<rect x="530.4" y="67.1" width="4" height="4" fill="#fff" stroke="#f00" stroke-width="1.25"/>
<rect x="531.5" y="142.2" width="4" height="4" fill="#fff" stroke="#f00" stroke-width="1.25"/>
<rect x="532.5" y="157.6" width="4" height="4" fill="#fff" stroke="#f00" stroke-width="1.25"/>
<rect x="533.3" y="167.3" width="4" height="4" fill="#fff" stroke="#f00" stroke-width="1.25"/>
<rect x="536.4" y="184.8" width="4" height="4" fill="#fff" stroke="#f00" stroke-width="1.25"/>
<rect x="542" y="195.3" width="4" height="4" fill="#fff" stroke="#f00" stroke-width="1.25"/>
<rect x="548.3" y="199.5" width="4" height="4" fill="#fff" stroke="#f00" stroke-width="1.25"/>
<rect x="553.9" y="203" width="4" height="4" fill="#fff" stroke="#f00" stroke-width="1.25"/>
<rect x="560.1" y="207.2" width="4" height="4" fill="#fff" stroke="#f00" stroke-width="1.25"/>
<rect x="565.7" y="210.7" width="4" height="4" fill="#fff" stroke="#f00" stroke-width="1.25"/>
<rect x="571.3" y="213.5" width="4" height="4" fill="#fff" stroke="#f00" stroke-width="1.25"/>
<rect x="578.3" y="213.5" width="4" height="4" fill="#fff" stroke="#f00" stroke-width="1.25"/>
<rect x="583.9" y="213.5" width="4" height="4" fill="#fff" stroke="#f00" stroke-width="1.25"/>
<rect x="590.2" y="213.5" width="4" height="4" fill="#fff" stroke="#f00" stroke-width="1.25"/>
<rect x="595.1" y="213.5" width="4" height="4" fill="#fff" stroke="#f00" stroke-width="1.25"/>
<polyline points="492.5,215.3 499.5,215.3 506.5,215.3 513.6,212.7 517.1,209.2 518.8,203.9 520.6,196 521.4,187.3 523,166.4 523,139.4 523,110.3 523,80.9 525.1,176.5 527,186.1 530,194.6 534.8,198.2 539.6,201.8 545.6,204.2 550.3,206.4 556.6,208.5 562.1,209.9 567.7,210.6 574.7,212 583.1,212.7 590.1,214.1" fill="none" stroke="#0f0" stroke-width="1.1" stroke-linejoin="round" />
<polygon points="492.5,213 494.8,215.3 492.5,217.6 490.2,215.3" fill="#fff" stroke="#0f0" stroke-width="1.25"/>
<polygon points="499.5,213 501.8,215.3 499.5,217.6 497.2,215.3" fill="#fff" stroke="#0f0" stroke-width="1.25"/>
<polygon points="506.5,213 508.8,215.3 506.5,217.6 504.2,215.3" fill="#fff" stroke="#0f0" stroke-width="1.25"/>
<polygon points="513.6,210.4 515.9,212.7 513.6,215 511.3,212.7" fill="#fff" stroke="#0f0" stroke-width="1.25"/>
<polygon points="517.1,206.9 519.4,209.2 517.1,211.5 514.8,209.2" fill="#fff" stroke="#0f0" stroke-width="1.25"/>
<polygon points="518.8,201.6 521.1,203.9 518.8,206.2 516.5,203.9" fill="#fff" stroke="#0f0" stroke-width="1.25"/>
<polygon points="520.6,193.7 522.9,196 520.6,198.3 518.3,196" fill="#fff" stroke="#0f0" stroke-width="1.25"/>
<polygon points="521.4,185 523.7,187.3 521.4,189.6 519.1,187.3" fill="#fff" stroke="#0f0" stroke-width="1.25"/>
<polygon points="523,164.1 525.3,166.4 523,168.7 520.7,166.4" fill="#fff" stroke="#0f0" stroke-width="1.25"/>
<polygon points="523,137.1 525.3,139.4 523,141.7 520.7,139.4" fill="#fff" stroke="#0f0" stroke-width="1.25"/>
<polygon points="523,108 525.3,110.3 523,112.6 520.7,110.3" fill="#fff" stroke="#0f0" stroke-width="1.25"/>
<polygon points="523,78.6 525.3,80.9 523,83.2 520.7,80.9" fill="#fff" stroke="#0f0" stroke-width="1.25"/>
<polygon points="525.1,174.2 527.4,176.5 525.1,178.8 522.8,176.5" fill="#fff" stroke="#0f0" stroke-width="1.25"/>
<polygon points="527,183.8 529.3,186.1 527,188.4 524.7,186.1" fill="#fff" stroke="#0f0" stroke-width="1.25"/>
<polygon points="530,192.3 532.3,194.6 530,196.9 527.7,194.6" fill="#fff" stroke="#0f0" stroke-width="1.25"/>
<polygon points="534.8,195.9 537.1,198.2 534.8,200.5 532.5,198.2" fill="#fff" stroke="#0f0" stroke-width="1.25"/>
<polygon points="539.6,199.5 541.9,201.8 539.6,204.1 537.3,201.8" fill="#fff" stroke="#0f0" stroke-width="1.25"/>
<polygon points="545.6,201.9 547.9,204.2 545.6,206.5 543.3,204.2" fill="#fff" stroke="#0f0" stroke-width="1.25"/>
<polygon points="550.3,204.1 552.6,206.4 550.3,208.7 548,206.4" fill="#fff" stroke="#0f0" stroke-width="1.25"/>
<polygon points="556.6,206.2 558.9,208.5 556.6,210.8 554.3,208.5" fill="#fff" stroke="#0f0" stroke-width="1.25"/>
<polygon points="562.1,207.6 564.4,209.9 562.1,212.2 559.8,209.9" fill="#fff" stroke="#0f0" stroke-width="1.25"/>
<polygon points="567.7,208.3 570,210.6 567.7,212.9 565.4,210.6" fill="#fff" stroke="#0f0" stroke-width="1.25"/>
<polygon points="574.7,209.7 577,212 574.7,214.3 572.4,212" fill="#fff" stroke="#0f0" stroke-width="1.25"/>
<polygon points="583.1,210.4 585.4,212.7 583.1,215 580.8,212.7" fill="#fff" stroke="#0f0" stroke-width="1.25"/>
<polygon points="590.1,211.8 592.4,214.1 590.1,216.4 587.8,214.1" fill="#fff" stroke="#0f0" stroke-width="1.25"/>
<polyline points="450.5,216.2 456.6,215.8 462.8,215.3 469.8,215.3 476.8,214.4 483.8,213.9 490.8,213.9 496,211.8 500.4,205.6 504.8,197.8 506.3,182.5 506.3,174.1 506.7,158.3 506.7,150.4 506.7,146 506.7,127.6 506.7,112.9 506.7,103.2 506.7,65.1 506.7,53.3 506.7,49.4 507.4,185 508.6,192.5 511.8,196 514.4,198.6 517.1,200.4 523.2,202.1 531.1,203.9 538.1,205.6 545.1,205.6 550.3,206.5 555.9,208.5 562.1,211.3 570.5,211.5 576.8,213 582.4,212.7" fill="none" stroke="#00f" stroke-width="1.1" stroke-linejoin="round" />
<polygon points="450.5,213.89 452.81,217.88 448.19,217.88" fill="#fff" stroke="#00f" stroke-width="1.25"/>
<polygon points="456.6,213.49 458.91,217.48 454.29,217.48" fill="#fff" stroke="#00f" stroke-width="1.25"/>
<polygon points="462.8,212.99 465.11,216.98 460.49,216.98" fill="#fff" stroke="#00f" stroke-width="1.25"/>
<polygon points="469.8,212.99 472.11,216.98 467.49,216.98" fill="#fff" stroke="#00f" stroke-width="1.25"/>
<polygon points="476.8,212.09 479.11,216.08 474.49,216.08" fill="#fff" stroke="#00f" stroke-width="1.25"/>
<polygon points="483.8,211.59 486.11,215.58 481.49,215.58" fill="#fff" stroke="#00f" stroke-width="1.25"/>
<polygon points="490.8,211.59 493.11,215.58 488.49,215.58" fill="#fff" stroke="#00f" stroke-width="1.25"/>
<polygon points="496,209.49 498.31,213.48 493.69,213.48" fill="#fff" stroke="#00f" stroke-width="1.25"/>
<polygon points="500.4,203.29 502.71,207.28 498.09,207.28" fill="#fff" stroke="#00f" stroke-width="1.25"/>
<polygon points="504.8,195.49 507.11,199.48 502.49,199.48" fill="#fff" stroke="#00f" stroke-width="1.25"/>
<polygon points="506.3,180.19 508.61,184.18 503.99,184.18" fill="#fff" stroke="#00f" stroke-width="1.25"/>
<polygon points="506.3,171.79 508.61,175.78 503.99,175.78" fill="#fff" stroke="#00f" stroke-width="1.25"/>
<polygon points="506.7,155.99 509.01,159.98 504.39,159.98" fill="#fff" stroke="#00f" stroke-width="1.25"/>
<polygon points="506.7,148.09 509.01,152.08 504.39,152.08" fill="#fff" stroke="#00f" stroke-width="1.25"/>
<polygon points="506.7,143.69 509.01,147.68 504.39,147.68" fill="#fff" stroke="#00f" stroke-width="1.25"/>
<polygon points="506.7,125.29 509.01,129.28 504.39,129.28" fill="#fff" stroke="#00f" stroke-width="1.25"/>
<polygon points="506.7,110.59 509.01,114.58 504.39,114.58" fill="#fff" stroke="#00f" stroke-width="1.25"/>
<polygon points="506.7,100.89 509.01,104.88 504.39,104.88" fill="#fff" stroke="#00f" stroke-width="1.25"/>
<polygon points="506.7,62.79 509.01,66.78 504.39,66.78" fill="#fff" stroke="#00f" stroke-width="1.25"/>
<polygon points="506.7,50.99 509.01,54.98 504.39,54.98" fill="#fff" stroke="#00f" stroke-width="1.25"/>
<polygon points="506.7,47.09 509.01,51.08 504.39,51.08" fill="#fff" stroke="#00f" stroke-width="1.25"/>
<polygon points="507.4,182.69 509.71,186.68 505.09,186.68" fill="#fff" stroke="#00f" stroke-width="1.25"/>
<polygon points="508.6,190.19 510.91,194.18 506.29,194.18" fill="#fff" stroke="#00f" stroke-width="1.25"/>
<polygon points="511.8,193.69 514.11,197.68 509.49,197.68" fill="#fff" stroke="#00f" stroke-width="1.25"/>
<polygon points="514.4,196.29 516.71,200.28 512.09,200.28" fill="#fff" stroke="#00f" stroke-width="1.25"/>
<polygon points="517.1,198.09 519.41,202.08 514.79,202.08" fill="#fff" stroke="#00f" stroke-width="1.25"/>
<polygon points="523.2,199.79 525.51,203.78 520.89,203.78" fill="#fff" stroke="#00f" stroke-width="1.25"/>
<polygon points="531.1,201.59 533.41,205.58 528.79,205.58" fill="#fff" stroke="#00f" stroke-width="1.25"/>
<polygon points="538.1,203.29 540.41,207.28 535.79,207.28" fill="#fff" stroke="#00f" stroke-width="1.25"/>
<polygon points="545.1,203.29 547.41,207.28 542.79,207.28" fill="#fff" stroke="#00f" stroke-width="1.25"/>
<polygon points="550.3,204.19 552.61,208.18 547.99,208.18" fill="#fff" stroke="#00f" stroke-width="1.25"/>
<polygon points="555.9,206.19 558.21,210.18 553.59,210.18" fill="#fff" stroke="#00f" stroke-width="1.25"/>
<polygon points="562.1,208.99 564.41,212.98 559.79,212.98" fill="#fff" stroke="#00f" stroke-width="1.25"/>
<polygon points="570.5,209.19 572.81,213.18 568.19,213.18" fill="#fff" stroke="#00f" stroke-width="1.25"/>
<polygon points="576.8,210.69 579.11,214.68 574.49,214.68" fill="#fff" stroke="#00f" stroke-width="1.25"/>
<polygon points="582.4,210.39 584.71,214.38 580.09,214.38" fill="#fff" stroke="#00f" stroke-width="1.25"/>
<polyline points="455,209 461,208.2 467,207.2 471.5,205.5 474.2,203.9 476,198 476.8,190 477.1,180 477.1,170 477.1,158.3 477.1,151 477.1,121.5 477.1,107.1 477.1,101.9 477.1,76.9 477.1,33.6 477.1,19.2 477.4,185 477.8,196 479.4,203.9 484.7,206.2 490.8,206.2 496.9,206.2 503.9,206 510.9,207.4" fill="none" stroke="#bc8f8f" stroke-width="1.1" stroke-linejoin="round" />
<polygon points="455,206.7 457.3,209 455,211.3 452.7,209" fill="#fff" stroke="#bc8f8f" stroke-width="1.25"/>
<polygon points="461,205.9 463.3,208.2 461,210.5 458.7,208.2" fill="#fff" stroke="#bc8f8f" stroke-width="1.25"/>
<polygon points="467,204.9 469.3,207.2 467,209.5 464.7,207.2" fill="#fff" stroke="#bc8f8f" stroke-width="1.25"/>
<polygon points="471.5,203.2 473.8,205.5 471.5,207.8 469.2,205.5" fill="#fff" stroke="#bc8f8f" stroke-width="1.25"/>
<polygon points="474.2,201.6 476.5,203.9 474.2,206.2 471.9,203.9" fill="#fff" stroke="#bc8f8f" stroke-width="1.25"/>
<polygon points="476,195.7 478.3,198 476,200.3 473.7,198" fill="#fff" stroke="#bc8f8f" stroke-width="1.25"/>
<polygon points="476.8,187.7 479.1,190 476.8,192.3 474.5,190" fill="#fff" stroke="#bc8f8f" stroke-width="1.25"/>
<polygon points="477.1,177.7 479.4,180 477.1,182.3 474.8,180" fill="#fff" stroke="#bc8f8f" stroke-width="1.25"/>
<polygon points="477.1,167.7 479.4,170 477.1,172.3 474.8,170" fill="#fff" stroke="#bc8f8f" stroke-width="1.25"/>
<polygon points="477.1,156 479.4,158.3 477.1,160.6 474.8,158.3" fill="#fff" stroke="#bc8f8f" stroke-width="1.25"/>
<polygon points="477.1,148.7 479.4,151 477.1,153.3 474.8,151" fill="#fff" stroke="#bc8f8f" stroke-width="1.25"/>
<polygon points="477.1,119.2 479.4,121.5 477.1,123.8 474.8,121.5" fill="#fff" stroke="#bc8f8f" stroke-width="1.25"/>
<polygon points="477.1,104.8 479.4,107.1 477.1,109.4 474.8,107.1" fill="#fff" stroke="#bc8f8f" stroke-width="1.25"/>
<polygon points="477.1,99.6 479.4,101.9 477.1,104.2 474.8,101.9" fill="#fff" stroke="#bc8f8f" stroke-width="1.25"/>
<polygon points="477.1,74.6 479.4,76.9 477.1,79.2 474.8,76.9" fill="#fff" stroke="#bc8f8f" stroke-width="1.25"/>
<polygon points="477.1,31.3 479.4,33.6 477.1,35.9 474.8,33.6" fill="#fff" stroke="#bc8f8f" stroke-width="1.25"/>
<polygon points="477.1,16.9 479.4,19.2 477.1,21.5 474.8,19.2" fill="#fff" stroke="#bc8f8f" stroke-width="1.25"/>
<polygon points="477.4,182.7 479.7,185 477.4,187.3 475.1,185" fill="#fff" stroke="#bc8f8f" stroke-width="1.25"/>
<polygon points="477.8,193.7 480.1,196 477.8,198.3 475.5,196" fill="#fff" stroke="#bc8f8f" stroke-width="1.25"/>
<polygon points="479.4,201.6 481.7,203.9 479.4,206.2 477.1,203.9" fill="#fff" stroke="#bc8f8f" stroke-width="1.25"/>
<polygon points="484.7,203.9 487,206.2 484.7,208.5 482.4,206.2" fill="#fff" stroke="#bc8f8f" stroke-width="1.25"/>
<polygon points="490.8,203.9 493.1,206.2 490.8,208.5 488.5,206.2" fill="#fff" stroke="#bc8f8f" stroke-width="1.25"/>
<polygon points="496.9,203.9 499.2,206.2 496.9,208.5 494.6,206.2" fill="#fff" stroke="#bc8f8f" stroke-width="1.25"/>
<polygon points="503.9,203.7 506.2,206 503.9,208.3 501.6,206" fill="#fff" stroke="#bc8f8f" stroke-width="1.25"/>
<polygon points="510.9,205.1 513.2,207.4 510.9,209.7 508.6,207.4" fill="#fff" stroke="#bc8f8f" stroke-width="1.25"/>
<polyline points="402.2,214.8 406,214 409.3,213 411.5,210.5 412.6,205.5 412.9,199 412.9,192 412.9,186.5 412.9,176 412.9,172 412.9,166 412.9,163 412.9,161.3 413.2,207 414,211" fill="none" stroke="#f7a72a" stroke-width="1.1" stroke-linejoin="round" />
<polygon points="399.89,214.8 403.88,212.49 403.88,217.11" fill="#fff" stroke="#f7a72a" stroke-width="1.25"/>
<polygon points="403.69,214 407.68,211.69 407.68,216.31" fill="#fff" stroke="#f7a72a" stroke-width="1.25"/>
<polygon points="406.99,213 410.98,210.69 410.98,215.31" fill="#fff" stroke="#f7a72a" stroke-width="1.25"/>
<polygon points="409.19,210.5 413.18,208.19 413.18,212.81" fill="#fff" stroke="#f7a72a" stroke-width="1.25"/>
<polygon points="410.29,205.5 414.28,203.19 414.28,207.81" fill="#fff" stroke="#f7a72a" stroke-width="1.25"/>
<polygon points="410.59,199 414.58,196.69 414.58,201.31" fill="#fff" stroke="#f7a72a" stroke-width="1.25"/>
<polygon points="410.59,192 414.58,189.69 414.58,194.31" fill="#fff" stroke="#f7a72a" stroke-width="1.25"/>
<polygon points="410.59,186.5 414.58,184.19 414.58,188.81" fill="#fff" stroke="#f7a72a" stroke-width="1.25"/>
<polygon points="410.59,176 414.58,173.69 414.58,178.31" fill="#fff" stroke="#f7a72a" stroke-width="1.25"/>
<polygon points="410.59,172 414.58,169.69 414.58,174.31" fill="#fff" stroke="#f7a72a" stroke-width="1.25"/>
<polygon points="410.59,166 414.58,163.69 414.58,168.31" fill="#fff" stroke="#f7a72a" stroke-width="1.25"/>
<polygon points="410.59,163 414.58,160.69 414.58,165.31" fill="#fff" stroke="#f7a72a" stroke-width="1.25"/>
<polygon points="410.59,161.3 414.58,158.99 414.58,163.61" fill="#fff" stroke="#f7a72a" stroke-width="1.25"/>
<polygon points="410.89,207 414.88,204.69 414.88,209.31" fill="#fff" stroke="#f7a72a" stroke-width="1.25"/>
<polygon points="411.69,211 415.68,208.69 415.68,213.31" fill="#fff" stroke="#f7a72a" stroke-width="1.25"/>
<polyline points="414,212.3 430,212.1 445,211.6 460,210.8 470,210 480,209.2 492,208.6" fill="none" stroke="#f7a72a" stroke-width="1" stroke-linejoin="round" />
<polygon points="411.96,212.3 415.48,210.27 415.48,214.34" fill="#fff" stroke="#f7a72a" stroke-width="1.0"/>
<polygon points="414.96,212.26 418.48,210.23 418.48,214.3" fill="#fff" stroke="#f7a72a" stroke-width="1.0"/>
<polygon points="417.96,212.23 421.48,210.19 421.48,214.26" fill="#fff" stroke="#f7a72a" stroke-width="1.0"/>
<polygon points="420.96,212.19 424.48,210.15 424.48,214.22" fill="#fff" stroke="#f7a72a" stroke-width="1.0"/>
<polygon points="423.96,212.15 427.48,210.12 427.48,214.19" fill="#fff" stroke="#f7a72a" stroke-width="1.0"/>
<polygon points="426.96,212.11 430.48,210.08 430.48,214.15" fill="#fff" stroke="#f7a72a" stroke-width="1.0"/>
<polygon points="429.96,212.03 433.48,210 433.48,214.07" fill="#fff" stroke="#f7a72a" stroke-width="1.0"/>
<polygon points="432.96,211.93 436.48,209.9 436.48,213.97" fill="#fff" stroke="#f7a72a" stroke-width="1.0"/>
<polygon points="435.96,211.83 439.47,209.8 439.47,213.87" fill="#fff" stroke="#f7a72a" stroke-width="1.0"/>
<polygon points="438.96,211.73 442.47,209.7 442.47,213.77" fill="#fff" stroke="#f7a72a" stroke-width="1.0"/>
<polygon points="441.96,211.63 445.47,209.6 445.47,213.67" fill="#fff" stroke="#f7a72a" stroke-width="1.0"/>
<polygon points="444.95,211.49 448.47,209.46 448.47,213.53" fill="#fff" stroke="#f7a72a" stroke-width="1.0"/>
<polygon points="447.95,211.33 451.46,209.3 451.46,213.37" fill="#fff" stroke="#f7a72a" stroke-width="1.0"/>
<polygon points="450.94,211.17 454.46,209.14 454.46,213.21" fill="#fff" stroke="#f7a72a" stroke-width="1.0"/>
<polygon points="453.94,211.01 457.45,208.98 457.45,213.05" fill="#fff" stroke="#f7a72a" stroke-width="1.0"/>
<polygon points="456.94,210.85 460.45,208.82 460.45,212.89" fill="#fff" stroke="#f7a72a" stroke-width="1.0"/>
<polygon points="459.93,210.64 463.44,208.61 463.44,212.68" fill="#fff" stroke="#f7a72a" stroke-width="1.0"/>
<polygon points="462.92,210.4 466.43,208.37 466.43,212.44" fill="#fff" stroke="#f7a72a" stroke-width="1.0"/>
<polygon points="465.91,210.16 469.42,208.13 469.42,212.2" fill="#fff" stroke="#f7a72a" stroke-width="1.0"/>
<polygon points="468.9,209.93 472.41,207.89 472.41,211.96" fill="#fff" stroke="#f7a72a" stroke-width="1.0"/>
<polygon points="471.89,209.69 475.4,207.65 475.4,211.72" fill="#fff" stroke="#f7a72a" stroke-width="1.0"/>
<polygon points="474.88,209.45 478.4,207.41 478.4,211.48" fill="#fff" stroke="#f7a72a" stroke-width="1.0"/>
<polygon points="477.87,209.21 481.39,207.17 481.39,211.24" fill="#fff" stroke="#f7a72a" stroke-width="1.0"/>
<polygon points="480.87,209.05 484.38,207.02 484.38,211.09" fill="#fff" stroke="#f7a72a" stroke-width="1.0"/>
<polygon points="483.86,208.91 487.38,206.87 487.38,210.94" fill="#fff" stroke="#f7a72a" stroke-width="1.0"/>
<polygon points="486.86,208.76 490.37,206.72 490.37,210.79" fill="#fff" stroke="#f7a72a" stroke-width="1.0"/>
<polygon points="489.86,208.61 493.37,206.57 493.37,210.64" fill="#fff" stroke="#f7a72a" stroke-width="1.0"/>
<polyline points="414,209.3 430,209.1 445,208.6 460,207.8 470,207.1 480,206.5 495,206.2 510,206.3 525,206.8 532,207.8 538,209.5 544,210.5 549.6,211.3" fill="none" stroke="#f7a72a" stroke-width="1" stroke-linejoin="round" />
<polygon points="411.96,209.3 415.48,207.27 415.48,211.34" fill="#fff" stroke="#f7a72a" stroke-width="1.0"/>
<polygon points="414.96,209.26 418.48,207.23 418.48,211.3" fill="#fff" stroke="#f7a72a" stroke-width="1.0"/>
<polygon points="417.96,209.23 421.48,207.19 421.48,211.26" fill="#fff" stroke="#f7a72a" stroke-width="1.0"/>
<polygon points="420.96,209.19 424.48,207.15 424.48,211.22" fill="#fff" stroke="#f7a72a" stroke-width="1.0"/>
<polygon points="423.96,209.15 427.48,207.12 427.48,211.19" fill="#fff" stroke="#f7a72a" stroke-width="1.0"/>
<polygon points="426.96,209.11 430.48,207.08 430.48,211.15" fill="#fff" stroke="#f7a72a" stroke-width="1.0"/>
<polygon points="429.96,209.03 433.48,207 433.48,211.07" fill="#fff" stroke="#f7a72a" stroke-width="1.0"/>
<polygon points="432.96,208.93 436.48,206.9 436.48,210.97" fill="#fff" stroke="#f7a72a" stroke-width="1.0"/>
<polygon points="435.96,208.83 439.47,206.8 439.47,210.87" fill="#fff" stroke="#f7a72a" stroke-width="1.0"/>
<polygon points="438.96,208.73 442.47,206.7 442.47,210.77" fill="#fff" stroke="#f7a72a" stroke-width="1.0"/>
<polygon points="441.96,208.63 445.47,206.6 445.47,210.67" fill="#fff" stroke="#f7a72a" stroke-width="1.0"/>
<polygon points="444.95,208.49 448.47,206.46 448.47,210.53" fill="#fff" stroke="#f7a72a" stroke-width="1.0"/>
<polygon points="447.95,208.33 451.46,206.3 451.46,210.37" fill="#fff" stroke="#f7a72a" stroke-width="1.0"/>
<polygon points="450.94,208.17 454.46,206.14 454.46,210.21" fill="#fff" stroke="#f7a72a" stroke-width="1.0"/>
<polygon points="453.94,208.01 457.45,205.98 457.45,210.05" fill="#fff" stroke="#f7a72a" stroke-width="1.0"/>
<polygon points="456.94,207.85 460.45,205.82 460.45,209.89" fill="#fff" stroke="#f7a72a" stroke-width="1.0"/>
<polygon points="459.93,207.66 463.44,205.63 463.44,209.7" fill="#fff" stroke="#f7a72a" stroke-width="1.0"/>
<polygon points="462.92,207.45 466.44,205.42 466.44,209.49" fill="#fff" stroke="#f7a72a" stroke-width="1.0"/>
<polygon points="465.91,207.24 469.43,205.21 469.43,209.28" fill="#fff" stroke="#f7a72a" stroke-width="1.0"/>
<polygon points="468.91,207.04 472.42,205.01 472.42,209.08" fill="#fff" stroke="#f7a72a" stroke-width="1.0"/>
<polygon points="471.9,206.86 475.42,204.83 475.42,208.9" fill="#fff" stroke="#f7a72a" stroke-width="1.0"/>
<polygon points="474.9,206.68 478.41,204.65 478.41,208.72" fill="#fff" stroke="#f7a72a" stroke-width="1.0"/>
<polygon points="477.89,206.5 481.41,204.47 481.41,208.54" fill="#fff" stroke="#f7a72a" stroke-width="1.0"/>
<polygon points="480.89,206.44 484.41,204.41 484.41,208.48" fill="#fff" stroke="#f7a72a" stroke-width="1.0"/>
<polygon points="483.89,206.38 487.41,204.35 487.41,208.42" fill="#fff" stroke="#f7a72a" stroke-width="1.0"/>
<polygon points="486.89,206.32 490.4,204.29 490.4,208.36" fill="#fff" stroke="#f7a72a" stroke-width="1.0"/>
<polygon points="489.89,206.26 493.4,204.23 493.4,208.3" fill="#fff" stroke="#f7a72a" stroke-width="1.0"/>
<polygon points="492.89,206.2 496.4,204.17 496.4,208.24" fill="#fff" stroke="#f7a72a" stroke-width="1.0"/>
<polygon points="495.89,206.22 499.4,204.18 499.4,208.25" fill="#fff" stroke="#f7a72a" stroke-width="1.0"/>
<polygon points="498.89,206.24 502.4,204.2 502.4,208.27" fill="#fff" stroke="#f7a72a" stroke-width="1.0"/>
<polygon points="501.89,206.26 505.4,204.22 505.4,208.29" fill="#fff" stroke="#f7a72a" stroke-width="1.0"/>
<polygon points="504.89,206.28 508.4,204.24 508.4,208.31" fill="#fff" stroke="#f7a72a" stroke-width="1.0"/>
<polygon points="507.89,206.3 511.4,204.26 511.4,208.33" fill="#fff" stroke="#f7a72a" stroke-width="1.0"/>
<polygon points="510.89,206.4 514.4,204.36 514.4,208.43" fill="#fff" stroke="#f7a72a" stroke-width="1.0"/>
<polygon points="513.89,206.5 517.4,204.46 517.4,208.53" fill="#fff" stroke="#f7a72a" stroke-width="1.0"/>
<polygon points="516.88,206.6 520.4,204.56 520.4,208.63" fill="#fff" stroke="#f7a72a" stroke-width="1.0"/>
<polygon points="519.88,206.7 523.4,204.66 523.4,208.73" fill="#fff" stroke="#f7a72a" stroke-width="1.0"/>
<polygon points="522.88,206.8 526.4,204.76 526.4,208.83" fill="#fff" stroke="#f7a72a" stroke-width="1.0"/>
<polygon points="525.85,207.21 529.37,205.18 529.37,209.25" fill="#fff" stroke="#f7a72a" stroke-width="1.0"/>
<polygon points="528.82,207.64 532.34,205.6 532.34,209.67" fill="#fff" stroke="#f7a72a" stroke-width="1.0"/>
<polygon points="531.74,208.3 535.25,206.27 535.25,210.34" fill="#fff" stroke="#f7a72a" stroke-width="1.0"/>
<polygon points="534.63,209.12 538.14,207.09 538.14,211.16" fill="#fff" stroke="#f7a72a" stroke-width="1.0"/>
<polygon points="537.55,209.76 541.07,207.73 541.07,211.8" fill="#fff" stroke="#f7a72a" stroke-width="1.0"/>
<polygon points="540.51,210.26 544.03,208.22 544.03,212.29" fill="#fff" stroke="#f7a72a" stroke-width="1.0"/>
<polygon points="543.47,210.72 546.99,208.68 546.99,212.75" fill="#fff" stroke="#f7a72a" stroke-width="1.0"/>
<polygon points="546.44,211.14 549.96,209.1 549.96,213.17" fill="#fff" stroke="#f7a72a" stroke-width="1.0"/>
<text x="611.1" y="139.1" font-size="11" text-anchor="start" fill="#000" ><tspan font-style="italic">T</tspan>&#160; [4ε/<tspan font-style="italic">k</tspan><tspan font-size="8" font-style="italic" dy="3.5">B</tspan><tspan dy="-3.5">]</tspan></text>
<polyline points="613.8,148.3 624.6,148.3" fill="none" stroke="#000" stroke-width="1" stroke-linejoin="round" />
<circle cx="613.8" cy="148.3" r="2.2" fill="#fff" stroke="#000" stroke-width="1.0"/>
<circle cx="624.6" cy="148.3" r="2.2" fill="#fff" stroke="#000" stroke-width="1.0"/>
<text x="629.4" y="151.9" font-size="11.2" text-anchor="start" font-style="italic" fill="#000" >0.01</text>
<polyline points="613.8,158.48 624.6,158.48" fill="none" stroke="#f00" stroke-width="1" stroke-linejoin="round" />
<rect x="611.6" y="156.28" width="4.4" height="4.4" fill="#fff" stroke="#f00" stroke-width="1.0"/>
<rect x="622.4" y="156.28" width="4.4" height="4.4" fill="#fff" stroke="#f00" stroke-width="1.0"/>
<text x="629.4" y="162.08" font-size="11.2" text-anchor="start" font-style="italic" fill="#000" >0.02</text>
<polyline points="613.8,168.66 624.6,168.66" fill="none" stroke="#0f0" stroke-width="1" stroke-linejoin="round" />
<polygon points="613.8,166.13 616.33,168.66 613.8,171.19 611.27,168.66" fill="#fff" stroke="#0f0" stroke-width="1.0"/>
<polygon points="624.6,166.13 627.13,168.66 624.6,171.19 622.07,168.66" fill="#fff" stroke="#0f0" stroke-width="1.0"/>
<text x="629.4" y="172.26" font-size="11.2" text-anchor="start" font-style="italic" fill="#000" >0.03</text>
<polyline points="613.8,178.84 624.6,178.84" fill="none" stroke="#00f" stroke-width="1" stroke-linejoin="round" />
<polygon points="613.8,176.42 616.22,180.6 611.38,180.6" fill="#fff" stroke="#00f" stroke-width="1.0"/>
<polygon points="624.6,176.42 627.02,180.6 622.18,180.6" fill="#fff" stroke="#00f" stroke-width="1.0"/>
<text x="629.4" y="182.44" font-size="11.2" text-anchor="start" font-style="italic" fill="#000" >0.04</text>
<polyline points="613.8,189.02 624.6,189.02" fill="none" stroke="#bc8f8f" stroke-width="1" stroke-linejoin="round" />
<polygon points="613.8,186.49 616.33,189.02 613.8,191.55 611.27,189.02" fill="#fff" stroke="#bc8f8f" stroke-width="1.0"/>
<polygon points="624.6,186.49 627.13,189.02 624.6,191.55 622.07,189.02" fill="#fff" stroke="#bc8f8f" stroke-width="1.0"/>
<text x="629.4" y="192.62" font-size="11.2" text-anchor="start" font-style="italic" fill="#000" >0.05</text>
<polyline points="613.8,199.2 624.6,199.2" fill="none" stroke="#f7a72a" stroke-width="1" stroke-linejoin="round" />
<polygon points="611.38,199.2 615.56,196.78 615.56,201.62" fill="#fff" stroke="#f7a72a" stroke-width="1.0"/>
<polygon points="622.18,199.2 626.36,196.78 626.36,201.62" fill="#fff" stroke="#f7a72a" stroke-width="1.0"/>
<text x="629.4" y="202.8" font-size="11.2" text-anchor="start" font-style="italic" fill="#000" >0.06</text>
<rect x="566.5" y="10.7" width="114.10000000000002" height="99.5" fill="#fff" stroke="none"/>
<clipPath id="ciB"><rect x="566.5" y="10.7" width="114.10000000000002" height="99.5"/></clipPath>
<g clip-path="url(#ciB)">
<polyline points="624,109.3 628.6,109 632.1,105.6 636.8,100.9 640.3,97.4 641.5,93 641.5,5 642.7,11.6 646.4,18.9 648.2,21.6 651.8,31.6 654.5,42.5 657.3,53.5 660,68 662.7,80.7 666.4,89.8 670.9,97.1 676.4,103.5 681,106.5" fill="none" stroke="#bc8f8f" stroke-width="0.8" stroke-linejoin="round" />
<polygon points="626,107.59 627.61,109.2 626,110.81 624.39,109.2" fill="#fff" stroke="#bc8f8f" stroke-width="0.7"/>
<polygon points="629.5,106.39 631.11,108 629.5,109.61 627.89,108" fill="#fff" stroke="#bc8f8f" stroke-width="0.7"/>
<polygon points="632.1,103.99 633.71,105.6 632.1,107.21 630.49,105.6" fill="#fff" stroke="#bc8f8f" stroke-width="0.7"/>
<polygon points="634.5,101.59 636.11,103.2 634.5,104.81 632.89,103.2" fill="#fff" stroke="#bc8f8f" stroke-width="0.7"/>
<polygon points="636.8,99.29 638.41,100.9 636.8,102.51 635.19,100.9" fill="#fff" stroke="#bc8f8f" stroke-width="0.7"/>
<polygon points="638.6,97.39 640.21,99 638.6,100.61 636.99,99" fill="#fff" stroke="#bc8f8f" stroke-width="0.7"/>
<polygon points="640.3,95.79 641.91,97.4 640.3,99.01 638.69,97.4" fill="#fff" stroke="#bc8f8f" stroke-width="0.7"/>
<polygon points="642.7,9.99 644.31,11.6 642.7,13.21 641.09,11.6" fill="#fff" stroke="#bc8f8f" stroke-width="0.7"/>
<polygon points="644.5,13.89 646.11,15.5 644.5,17.11 642.89,15.5" fill="#fff" stroke="#bc8f8f" stroke-width="0.7"/>
<polygon points="646.4,17.29 648.01,18.9 646.4,20.51 644.79,18.9" fill="#fff" stroke="#bc8f8f" stroke-width="0.7"/>
<polygon points="648.2,19.99 649.81,21.6 648.2,23.21 646.59,21.6" fill="#fff" stroke="#bc8f8f" stroke-width="0.7"/>
<polygon points="650,24.89 651.61,26.5 650,28.11 648.39,26.5" fill="#fff" stroke="#bc8f8f" stroke-width="0.7"/>
<polygon points="651.8,29.99 653.41,31.6 651.8,33.21 650.19,31.6" fill="#fff" stroke="#bc8f8f" stroke-width="0.7"/>
<polygon points="653.2,35.39 654.81,37 653.2,38.61 651.59,37" fill="#fff" stroke="#bc8f8f" stroke-width="0.7"/>
<polygon points="654.5,40.89 656.11,42.5 654.5,44.11 652.89,42.5" fill="#fff" stroke="#bc8f8f" stroke-width="0.7"/>
<polygon points="656,46.39 657.61,48 656,49.61 654.39,48" fill="#fff" stroke="#bc8f8f" stroke-width="0.7"/>
<polygon points="657.3,51.89 658.91,53.5 657.3,55.11 655.69,53.5" fill="#fff" stroke="#bc8f8f" stroke-width="0.7"/>
<polygon points="658.7,59.39 660.31,61 658.7,62.61 657.09,61" fill="#fff" stroke="#bc8f8f" stroke-width="0.7"/>
<polygon points="660,66.39 661.61,68 660,69.61 658.39,68" fill="#fff" stroke="#bc8f8f" stroke-width="0.7"/>
<polygon points="661.3,72.89 662.91,74.5 661.3,76.11 659.69,74.5" fill="#fff" stroke="#bc8f8f" stroke-width="0.7"/>
<polygon points="662.7,79.09 664.31,80.7 662.7,82.31 661.09,80.7" fill="#fff" stroke="#bc8f8f" stroke-width="0.7"/>
<polygon points="664.5,83.89 666.11,85.5 664.5,87.11 662.89,85.5" fill="#fff" stroke="#bc8f8f" stroke-width="0.7"/>
<polygon points="666.4,88.19 668.01,89.8 666.4,91.41 664.79,89.8" fill="#fff" stroke="#bc8f8f" stroke-width="0.7"/>
<polygon points="668.6,91.89 670.21,93.5 668.6,95.11 666.99,93.5" fill="#fff" stroke="#bc8f8f" stroke-width="0.7"/>
<polygon points="670.9,95.49 672.51,97.1 670.9,98.71 669.29,97.1" fill="#fff" stroke="#bc8f8f" stroke-width="0.7"/>
<polygon points="673.6,98.89 675.21,100.5 673.6,102.11 671.99,100.5" fill="#fff" stroke="#bc8f8f" stroke-width="0.7"/>
<polygon points="676.4,101.89 678.01,103.5 676.4,105.11 674.79,103.5" fill="#fff" stroke="#bc8f8f" stroke-width="0.7"/>
<polygon points="679,103.89 680.61,105.5 679,107.11 677.39,105.5" fill="#fff" stroke="#bc8f8f" stroke-width="0.7"/>
<polyline points="598,109.2 600.6,109 615,108.6 625,108.2 628.6,106 629.5,98.9 629.5,84.4 629.5,68 629.5,52.5 629.5,43.5 629.5,31.6 629.5,-20" fill="none" stroke="#f7a72a" stroke-width="0.9" stroke-linejoin="round" />
<polygon points="598.95,109 601.8,107.35 601.8,110.65" fill="#fff" stroke="#f7a72a" stroke-width="0.8"/>
<polygon points="603.35,108.9 606.2,107.25 606.2,110.55" fill="#fff" stroke="#f7a72a" stroke-width="0.8"/>
<polygon points="608.35,108.8 611.2,107.15 611.2,110.45" fill="#fff" stroke="#f7a72a" stroke-width="0.8"/>
<polygon points="613.35,108.6 616.2,106.95 616.2,110.25" fill="#fff" stroke="#f7a72a" stroke-width="0.8"/>
<polygon points="618.35,108.4 621.2,106.75 621.2,110.05" fill="#fff" stroke="#f7a72a" stroke-width="0.8"/>
<polygon points="623.35,108.2 626.2,106.55 626.2,109.85" fill="#fff" stroke="#f7a72a" stroke-width="0.8"/>
<polygon points="626.95,106 629.8,104.35 629.8,107.65" fill="#fff" stroke="#f7a72a" stroke-width="0.8"/>
<polygon points="627.85,98.9 630.7,97.25 630.7,100.55" fill="#fff" stroke="#f7a72a" stroke-width="0.8"/>
<polygon points="627.85,84.4 630.7,82.75 630.7,86.05" fill="#fff" stroke="#f7a72a" stroke-width="0.8"/>
<polygon points="627.85,68 630.7,66.35 630.7,69.65" fill="#fff" stroke="#f7a72a" stroke-width="0.8"/>
<polygon points="627.85,52.5 630.7,50.85 630.7,54.15" fill="#fff" stroke="#f7a72a" stroke-width="0.8"/>
<polygon points="627.85,43.5 630.7,41.85 630.7,45.15" fill="#fff" stroke="#f7a72a" stroke-width="0.8"/>
<polygon points="627.85,31.6 630.7,29.95 630.7,33.25" fill="#fff" stroke="#f7a72a" stroke-width="0.8"/>
<polyline points="634,76 636.5,62 638.5,52 640.9,45 642.7,41.6 645.5,39.8 648,40.5 650,44.4 652.2,49.5 654.5,55.3 656.3,61.5 658.2,68 660,73.5 661.8,78.9 664,83.5 666.4,88 669.5,92.5 672.7,96.2 676.5,98.5 681,100.5" fill="none" stroke="#f7a72a" stroke-width="0.8" stroke-linejoin="round" />
<polygon points="632.35,76 635.2,74.35 635.2,77.65" fill="#fff" stroke="#f7a72a" stroke-width="0.8"/>
<polygon points="632.81,73.44 635.66,71.79 635.66,75.09" fill="#fff" stroke="#f7a72a" stroke-width="0.8"/>
<polygon points="633.26,70.88 636.11,69.23 636.11,72.53" fill="#fff" stroke="#f7a72a" stroke-width="0.8"/>
<polygon points="633.72,68.32 636.57,66.67 636.57,69.97" fill="#fff" stroke="#f7a72a" stroke-width="0.8"/>
<polygon points="634.18,65.76 637.03,64.11 637.03,67.41" fill="#fff" stroke="#f7a72a" stroke-width="0.8"/>
<polygon points="634.64,63.2 637.49,61.55 637.49,64.85" fill="#fff" stroke="#f7a72a" stroke-width="0.8"/>
<polygon points="635.12,60.65 637.97,59 637.97,62.3" fill="#fff" stroke="#f7a72a" stroke-width="0.8"/>
<polygon points="635.63,58.1 638.48,56.45 638.48,59.75" fill="#fff" stroke="#f7a72a" stroke-width="0.8"/>
<polygon points="636.14,55.55 638.99,53.9 638.99,57.2" fill="#fff" stroke="#f7a72a" stroke-width="0.8"/>
<polygon points="636.65,53 639.5,51.35 639.5,54.65" fill="#fff" stroke="#f7a72a" stroke-width="0.8"/>
<polygon points="637.36,50.5 640.21,48.85 640.21,52.15" fill="#fff" stroke="#f7a72a" stroke-width="0.8"/>
<polygon points="638.21,48.05 641.06,46.4 641.06,49.7" fill="#fff" stroke="#f7a72a" stroke-width="0.8"/>
<polygon points="639.05,45.59 641.9,43.94 641.9,47.24" fill="#fff" stroke="#f7a72a" stroke-width="0.8"/>
<polygon points="640.18,43.25 643.03,41.6 643.03,44.9" fill="#fff" stroke="#f7a72a" stroke-width="0.8"/>
<polygon points="641.67,41.2 644.52,39.55 644.52,42.85" fill="#fff" stroke="#f7a72a" stroke-width="0.8"/>
<polygon points="643.85,39.8 646.7,38.15 646.7,41.45" fill="#fff" stroke="#f7a72a" stroke-width="0.8"/>
<polygon points="646.35,40.51 649.2,38.86 649.2,42.16" fill="#fff" stroke="#f7a72a" stroke-width="0.8"/>
<polygon points="647.54,42.82 650.39,41.17 650.39,44.47" fill="#fff" stroke="#f7a72a" stroke-width="0.8"/>
<polygon points="648.68,45.16 651.53,43.51 651.53,46.81" fill="#fff" stroke="#f7a72a" stroke-width="0.8"/>
<polygon points="649.71,47.55 652.56,45.9 652.56,49.2" fill="#fff" stroke="#f7a72a" stroke-width="0.8"/>
<polygon points="650.72,49.94 653.57,48.29 653.57,51.59" fill="#fff" stroke="#f7a72a" stroke-width="0.8"/>
<polygon points="651.68,52.36 654.53,50.71 654.53,54.01" fill="#fff" stroke="#f7a72a" stroke-width="0.8"/>
<polygon points="652.64,54.77 655.49,53.12 655.49,56.42" fill="#fff" stroke="#f7a72a" stroke-width="0.8"/>
<polygon points="653.42,57.25 656.27,55.6 656.27,58.9" fill="#fff" stroke="#f7a72a" stroke-width="0.8"/>
<polygon points="654.14,59.75 656.99,58.1 656.99,61.4" fill="#fff" stroke="#f7a72a" stroke-width="0.8"/>
<polygon points="654.87,62.24 657.72,60.59 657.72,63.89" fill="#fff" stroke="#f7a72a" stroke-width="0.8"/>
<polygon points="655.6,64.74 658.45,63.09 658.45,66.39" fill="#fff" stroke="#f7a72a" stroke-width="0.8"/>
<polygon points="656.33,67.24 659.18,65.59 659.18,68.89" fill="#fff" stroke="#f7a72a" stroke-width="0.8"/>
<polygon points="657.11,69.71 659.96,68.06 659.96,71.36" fill="#fff" stroke="#f7a72a" stroke-width="0.8"/>
<polygon points="657.92,72.19 660.77,70.54 660.77,73.84" fill="#fff" stroke="#f7a72a" stroke-width="0.8"/>
<polygon points="658.73,74.65 661.58,73 661.58,76.3" fill="#fff" stroke="#f7a72a" stroke-width="0.8"/>
<polygon points="659.56,77.12 662.41,75.47 662.41,78.77" fill="#fff" stroke="#f7a72a" stroke-width="0.8"/>
<polygon points="660.46,79.55 663.31,77.9 663.31,81.2" fill="#fff" stroke="#f7a72a" stroke-width="0.8"/>
<polygon points="661.58,81.9 664.43,80.25 664.43,83.55" fill="#fff" stroke="#f7a72a" stroke-width="0.8"/>
<polygon points="662.74,84.23 665.59,82.58 665.59,85.88" fill="#fff" stroke="#f7a72a" stroke-width="0.8"/>
<polygon points="663.96,86.52 666.81,84.87 666.81,88.17" fill="#fff" stroke="#f7a72a" stroke-width="0.8"/>
<polygon points="665.28,88.76 668.13,87.11 668.13,90.41" fill="#fff" stroke="#f7a72a" stroke-width="0.8"/>
<polygon points="666.75,90.9 669.6,89.25 669.6,92.55" fill="#fff" stroke="#f7a72a" stroke-width="0.8"/>
<polygon points="668.28,93 671.13,91.35 671.13,94.65" fill="#fff" stroke="#f7a72a" stroke-width="0.8"/>
<polygon points="669.98,94.97 672.83,93.32 672.83,96.62" fill="#fff" stroke="#f7a72a" stroke-width="0.8"/>
<polygon points="671.88,96.7 674.73,95.05 674.73,98.35" fill="#fff" stroke="#f7a72a" stroke-width="0.8"/>
<polygon points="674.1,98.05 676.95,96.4 676.95,99.7" fill="#fff" stroke="#f7a72a" stroke-width="0.8"/>
<polygon points="676.43,99.2 679.28,97.55 679.28,100.85" fill="#fff" stroke="#f7a72a" stroke-width="0.8"/>
<polygon points="678.8,100.26 681.65,98.61 681.65,101.91" fill="#fff" stroke="#f7a72a" stroke-width="0.8"/>
<polyline points="600,108.8 605,107 612,104 620.4,98.6 626,90 630,77 634,64 637.5,55 640,50.5 643.6,49.5 647,50 650,54 652.7,62.5 655.5,70 658.2,77 663.6,88 668,94 674,99 681,102" fill="none" stroke="#9400d3" stroke-width="0.8" stroke-linejoin="round" />
<polygon points="600,110.45 601.65,107.6 598.35,107.6" fill="#9400d3" stroke="#9400d3" stroke-width="0.8"/>
<polygon points="602.26,109.64 603.91,106.79 600.61,106.79" fill="#9400d3" stroke="#9400d3" stroke-width="0.8"/>
<polygon points="604.52,108.82 606.17,105.97 602.87,105.97" fill="#9400d3" stroke="#9400d3" stroke-width="0.8"/>
<polygon points="606.73,107.91 608.38,105.06 605.08,105.06" fill="#9400d3" stroke="#9400d3" stroke-width="0.8"/>
<polygon points="608.94,106.96 610.59,104.11 607.29,104.11" fill="#9400d3" stroke="#9400d3" stroke-width="0.8"/>
<polygon points="611.15,106.02 612.8,103.17 609.5,103.17" fill="#9400d3" stroke="#9400d3" stroke-width="0.8"/>
<polygon points="613.24,104.86 614.89,102.01 611.59,102.01" fill="#9400d3" stroke="#9400d3" stroke-width="0.8"/>
<polygon points="615.26,103.56 616.91,100.71 613.61,100.71" fill="#9400d3" stroke="#9400d3" stroke-width="0.8"/>
<polygon points="617.27,102.26 618.92,99.41 615.62,99.41" fill="#9400d3" stroke="#9400d3" stroke-width="0.8"/>
<polygon points="619.29,100.96 620.94,98.11 617.64,98.11" fill="#9400d3" stroke="#9400d3" stroke-width="0.8"/>
<polygon points="620.99,99.34 622.64,96.49 619.34,96.49" fill="#9400d3" stroke="#9400d3" stroke-width="0.8"/>
<polygon points="622.3,97.33 623.95,94.48 620.65,94.48" fill="#9400d3" stroke="#9400d3" stroke-width="0.8"/>
<polygon points="623.61,95.32 625.26,92.47 621.96,92.47" fill="#9400d3" stroke="#9400d3" stroke-width="0.8"/>
<polygon points="624.92,93.31 626.57,90.46 623.27,90.46" fill="#9400d3" stroke="#9400d3" stroke-width="0.8"/>
<polygon points="626.12,91.25 627.77,88.4 624.47,88.4" fill="#9400d3" stroke="#9400d3" stroke-width="0.8"/>
<polygon points="626.83,88.95 628.48,86.1 625.18,86.1" fill="#9400d3" stroke="#9400d3" stroke-width="0.8"/>
<polygon points="627.54,86.66 629.19,83.81 625.89,83.81" fill="#9400d3" stroke="#9400d3" stroke-width="0.8"/>
<polygon points="628.24,84.37 629.89,81.52 626.59,81.52" fill="#9400d3" stroke="#9400d3" stroke-width="0.8"/>
<polygon points="628.95,82.07 630.6,79.22 627.3,79.22" fill="#9400d3" stroke="#9400d3" stroke-width="0.8"/>
<polygon points="629.65,79.78 631.3,76.93 628,76.93" fill="#9400d3" stroke="#9400d3" stroke-width="0.8"/>
<polygon points="630.36,77.48 632.01,74.63 628.71,74.63" fill="#9400d3" stroke="#9400d3" stroke-width="0.8"/>
<polygon points="631.06,75.19 632.71,72.34 629.41,72.34" fill="#9400d3" stroke="#9400d3" stroke-width="0.8"/>
<polygon points="631.77,72.9 633.42,70.05 630.12,70.05" fill="#9400d3" stroke="#9400d3" stroke-width="0.8"/>
<polygon points="632.48,70.6 634.13,67.75 630.83,67.75" fill="#9400d3" stroke="#9400d3" stroke-width="0.8"/>
<polygon points="633.18,68.31 634.83,65.46 631.53,65.46" fill="#9400d3" stroke="#9400d3" stroke-width="0.8"/>
<polygon points="633.89,66.01 635.54,63.16 632.24,63.16" fill="#9400d3" stroke="#9400d3" stroke-width="0.8"/>
<polygon points="634.73,63.77 636.38,60.92 633.08,60.92" fill="#9400d3" stroke="#9400d3" stroke-width="0.8"/>
<polygon points="635.6,61.53 637.25,58.68 633.95,58.68" fill="#9400d3" stroke="#9400d3" stroke-width="0.8"/>
<polygon points="636.47,59.3 638.12,56.45 634.82,56.45" fill="#9400d3" stroke="#9400d3" stroke-width="0.8"/>
<polygon points="637.34,57.06 638.99,54.21 635.69,54.21" fill="#9400d3" stroke="#9400d3" stroke-width="0.8"/>
<polygon points="638.45,54.93 640.1,52.08 636.8,52.08" fill="#9400d3" stroke="#9400d3" stroke-width="0.8"/>
<polygon points="639.62,52.84 641.27,49.99 637.97,49.99" fill="#9400d3" stroke="#9400d3" stroke-width="0.8"/>
<polygon points="641.56,51.72 643.21,48.87 639.91,48.87" fill="#9400d3" stroke="#9400d3" stroke-width="0.8"/>
<polygon points="643.87,51.19 645.52,48.34 642.22,48.34" fill="#9400d3" stroke="#9400d3" stroke-width="0.8"/>
<polygon points="646.25,51.54 647.9,48.69 644.6,48.69" fill="#9400d3" stroke="#9400d3" stroke-width="0.8"/>
<polygon points="647.98,52.96 649.63,50.11 646.33,50.11" fill="#9400d3" stroke="#9400d3" stroke-width="0.8"/>
<polygon points="649.42,54.88 651.07,52.03 647.77,52.03" fill="#9400d3" stroke="#9400d3" stroke-width="0.8"/>
<polygon points="650.44,57.02 652.09,54.17 648.79,54.17" fill="#9400d3" stroke="#9400d3" stroke-width="0.8"/>
<polygon points="651.16,59.31 652.81,56.46 649.51,56.46" fill="#9400d3" stroke="#9400d3" stroke-width="0.8"/>
<polygon points="651.89,61.6 653.54,58.75 650.24,58.75" fill="#9400d3" stroke="#9400d3" stroke-width="0.8"/>
<polygon points="652.62,63.89 654.27,61.04 650.97,61.04" fill="#9400d3" stroke="#9400d3" stroke-width="0.8"/>
<polygon points="653.44,66.14 655.09,63.29 651.79,63.29" fill="#9400d3" stroke="#9400d3" stroke-width="0.8"/>
<polygon points="654.28,68.39 655.93,65.54 652.63,65.54" fill="#9400d3" stroke="#9400d3" stroke-width="0.8"/>
<polygon points="655.12,70.64 656.77,67.79 653.47,67.79" fill="#9400d3" stroke="#9400d3" stroke-width="0.8"/>
<polygon points="655.97,72.88 657.62,70.03 654.32,70.03" fill="#9400d3" stroke="#9400d3" stroke-width="0.8"/>
<polygon points="656.84,75.12 658.49,72.27 655.19,72.27" fill="#9400d3" stroke="#9400d3" stroke-width="0.8"/>
<polygon points="657.7,77.36 659.35,74.51 656.05,74.51" fill="#9400d3" stroke="#9400d3" stroke-width="0.8"/>
<polygon points="658.65,79.56 660.3,76.71 657,76.71" fill="#9400d3" stroke="#9400d3" stroke-width="0.8"/>
<polygon points="659.7,81.72 661.35,78.87 658.05,78.87" fill="#9400d3" stroke="#9400d3" stroke-width="0.8"/>
<polygon points="660.76,83.87 662.41,81.02 659.11,81.02" fill="#9400d3" stroke="#9400d3" stroke-width="0.8"/>
<polygon points="661.82,86.02 663.47,83.17 660.17,83.17" fill="#9400d3" stroke="#9400d3" stroke-width="0.8"/>
<polygon points="662.88,88.18 664.53,85.33 661.23,85.33" fill="#9400d3" stroke="#9400d3" stroke-width="0.8"/>
<polygon points="664.05,90.26 665.7,87.41 662.4,87.41" fill="#9400d3" stroke="#9400d3" stroke-width="0.8"/>
<polygon points="665.47,92.2 667.12,89.35 663.82,89.35" fill="#9400d3" stroke="#9400d3" stroke-width="0.8"/>
<polygon points="666.89,94.13 668.54,91.28 665.24,91.28" fill="#9400d3" stroke="#9400d3" stroke-width="0.8"/>
<polygon points="668.4,95.98 670.05,93.13 666.75,93.13" fill="#9400d3" stroke="#9400d3" stroke-width="0.8"/>
<polygon points="670.24,97.52 671.89,94.67 668.59,94.67" fill="#9400d3" stroke="#9400d3" stroke-width="0.8"/>
<polygon points="672.09,99.06 673.74,96.21 670.44,96.21" fill="#9400d3" stroke="#9400d3" stroke-width="0.8"/>
<polygon points="673.93,100.59 675.58,97.74 672.28,97.74" fill="#9400d3" stroke="#9400d3" stroke-width="0.8"/>
<polygon points="676.12,101.56 677.77,98.71 674.47,98.71" fill="#9400d3" stroke="#9400d3" stroke-width="0.8"/>
<polygon points="678.33,102.51 679.98,99.66 676.68,99.66" fill="#9400d3" stroke="#9400d3" stroke-width="0.8"/>
<polygon points="680.53,103.45 682.18,100.6 678.88,100.6" fill="#9400d3" stroke="#9400d3" stroke-width="0.8"/>
<polyline points="598,107.8 600.6,106.7 608.7,103.2 615.7,99.1 622.7,93.9 628.6,85.7 632,77 635,68 638,61 641.8,56.2 645,57 648,60 651,66 655,74 659,82 664,90 670,96 681,101" fill="none" stroke="#008b00" stroke-width="0.8" stroke-linejoin="round" />
<polygon points="599.65,107.8 596.8,106.15 596.8,109.45" fill="#fff" stroke="#008b00" stroke-width="0.8"/>
<polygon points="601.86,106.86 599.01,105.21 599.01,108.51" fill="#fff" stroke="#008b00" stroke-width="0.8"/>
<polygon points="604.06,105.92 601.21,104.27 601.21,107.57" fill="#fff" stroke="#008b00" stroke-width="0.8"/>
<polygon points="606.27,104.96 603.42,103.31 603.42,106.61" fill="#fff" stroke="#008b00" stroke-width="0.8"/>
<polygon points="608.47,104.01 605.62,102.36 605.62,105.66" fill="#fff" stroke="#008b00" stroke-width="0.8"/>
<polygon points="610.65,103.02 607.8,101.37 607.8,104.67" fill="#fff" stroke="#008b00" stroke-width="0.8"/>
<polygon points="612.73,101.81 609.88,100.16 609.88,103.46" fill="#fff" stroke="#008b00" stroke-width="0.8"/>
<polygon points="614.8,100.6 611.95,98.95 611.95,102.25" fill="#fff" stroke="#008b00" stroke-width="0.8"/>
<polygon points="616.87,99.38 614.02,97.73 614.02,101.03" fill="#fff" stroke="#008b00" stroke-width="0.8"/>
<polygon points="618.83,98 615.98,96.35 615.98,99.65" fill="#fff" stroke="#008b00" stroke-width="0.8"/>
<polygon points="620.75,96.57 617.9,94.92 617.9,98.22" fill="#fff" stroke="#008b00" stroke-width="0.8"/>
<polygon points="622.68,95.14 619.83,93.49 619.83,96.79" fill="#fff" stroke="#008b00" stroke-width="0.8"/>
<polygon points="624.54,93.64 621.69,91.99 621.69,95.29" fill="#fff" stroke="#008b00" stroke-width="0.8"/>
<polygon points="625.94,91.69 623.09,90.04 623.09,93.34" fill="#fff" stroke="#008b00" stroke-width="0.8"/>
<polygon points="627.34,89.74 624.49,88.09 624.49,91.39" fill="#fff" stroke="#008b00" stroke-width="0.8"/>
<polygon points="628.74,87.8 625.89,86.15 625.89,89.45" fill="#fff" stroke="#008b00" stroke-width="0.8"/>
<polygon points="630.14,85.85 627.29,84.2 627.29,87.5" fill="#fff" stroke="#008b00" stroke-width="0.8"/>
<polygon points="631.06,83.63 628.21,81.98 628.21,85.28" fill="#fff" stroke="#008b00" stroke-width="0.8"/>
<polygon points="631.93,81.4 629.08,79.75 629.08,83.05" fill="#fff" stroke="#008b00" stroke-width="0.8"/>
<polygon points="632.8,79.16 629.95,77.51 629.95,80.81" fill="#fff" stroke="#008b00" stroke-width="0.8"/>
<polygon points="633.67,76.93 630.82,75.28 630.82,78.58" fill="#fff" stroke="#008b00" stroke-width="0.8"/>
<polygon points="634.43,74.65 631.58,73 631.58,76.3" fill="#fff" stroke="#008b00" stroke-width="0.8"/>
<polygon points="635.19,72.37 632.34,70.72 632.34,74.02" fill="#fff" stroke="#008b00" stroke-width="0.8"/>
<polygon points="635.95,70.1 633.1,68.45 633.1,71.75" fill="#fff" stroke="#008b00" stroke-width="0.8"/>
<polygon points="636.73,67.82 633.88,66.17 633.88,69.47" fill="#fff" stroke="#008b00" stroke-width="0.8"/>
<polygon points="637.67,65.62 634.82,63.97 634.82,67.27" fill="#fff" stroke="#008b00" stroke-width="0.8"/>
<polygon points="638.62,63.41 635.77,61.76 635.77,65.06" fill="#fff" stroke="#008b00" stroke-width="0.8"/>
<polygon points="639.56,61.21 636.71,59.56 636.71,62.86" fill="#fff" stroke="#008b00" stroke-width="0.8"/>
<polygon points="641,59.29 638.15,57.64 638.15,60.94" fill="#fff" stroke="#008b00" stroke-width="0.8"/>
<polygon points="642.49,57.41 639.64,55.76 639.64,59.06" fill="#fff" stroke="#008b00" stroke-width="0.8"/>
<polygon points="644.28,56.41 641.43,54.76 641.43,58.06" fill="#fff" stroke="#008b00" stroke-width="0.8"/>
<polygon points="646.61,56.99 643.76,55.34 643.76,58.64" fill="#fff" stroke="#008b00" stroke-width="0.8"/>
<polygon points="648.32,58.67 645.47,57.02 645.47,60.32" fill="#fff" stroke="#008b00" stroke-width="0.8"/>
<polygon points="649.88,60.46 647.03,58.81 647.03,62.11" fill="#fff" stroke="#008b00" stroke-width="0.8"/>
<polygon points="650.95,62.6 648.1,60.95 648.1,64.25" fill="#fff" stroke="#008b00" stroke-width="0.8"/>
<polygon points="652.03,64.75 649.18,63.1 649.18,66.4" fill="#fff" stroke="#008b00" stroke-width="0.8"/>
<polygon points="653.1,66.9 650.25,65.25 650.25,68.55" fill="#fff" stroke="#008b00" stroke-width="0.8"/>
<polygon points="654.17,69.04 651.32,67.39 651.32,70.69" fill="#fff" stroke="#008b00" stroke-width="0.8"/>
<polygon points="655.25,71.19 652.4,69.54 652.4,72.84" fill="#fff" stroke="#008b00" stroke-width="0.8"/>
<polygon points="656.32,73.34 653.47,71.69 653.47,74.99" fill="#fff" stroke="#008b00" stroke-width="0.8"/>
<polygon points="657.39,75.48 654.54,73.83 654.54,77.13" fill="#fff" stroke="#008b00" stroke-width="0.8"/>
<polygon points="658.47,77.63 655.62,75.98 655.62,79.28" fill="#fff" stroke="#008b00" stroke-width="0.8"/>
<polygon points="659.54,79.78 656.69,78.13 656.69,81.43" fill="#fff" stroke="#008b00" stroke-width="0.8"/>
<polygon points="660.61,81.92 657.76,80.27 657.76,83.57" fill="#fff" stroke="#008b00" stroke-width="0.8"/>
<polygon points="661.88,83.96 659.03,82.31 659.03,85.61" fill="#fff" stroke="#008b00" stroke-width="0.8"/>
<polygon points="663.15,86 660.3,84.35 660.3,87.65" fill="#fff" stroke="#008b00" stroke-width="0.8"/>
<polygon points="664.42,88.03 661.57,86.38 661.57,89.68" fill="#fff" stroke="#008b00" stroke-width="0.8"/>
<polygon points="665.71,90.06 662.86,88.41 662.86,91.71" fill="#fff" stroke="#008b00" stroke-width="0.8"/>
<polygon points="667.4,91.75 664.55,90.1 664.55,93.4" fill="#fff" stroke="#008b00" stroke-width="0.8"/>
<polygon points="669.1,93.45 666.25,91.8 666.25,95.1" fill="#fff" stroke="#008b00" stroke-width="0.8"/>
<polygon points="670.8,95.15 667.95,93.5 667.95,96.8" fill="#fff" stroke="#008b00" stroke-width="0.8"/>
<polygon points="672.74,96.49 669.89,94.84 669.89,98.14" fill="#fff" stroke="#008b00" stroke-width="0.8"/>
<polygon points="674.92,97.49 672.07,95.84 672.07,99.14" fill="#fff" stroke="#008b00" stroke-width="0.8"/>
<polygon points="677.11,98.48 674.26,96.83 674.26,100.13" fill="#fff" stroke="#008b00" stroke-width="0.8"/>
<polygon points="679.29,99.47 676.44,97.82 676.44,101.12" fill="#fff" stroke="#008b00" stroke-width="0.8"/>
<polygon points="681.48,100.47 678.63,98.82 678.63,102.12" fill="#fff" stroke="#008b00" stroke-width="0.8"/>
<polyline points="566.5,84 569,98.6 573.7,102 579.5,104.4 585.4,106.1 594.7,105.6 602.9,103.2 611,98.6 618,92.7 625.1,85.7 629.8,77.5 634.4,71.7 639,66 642,66.5 646,69 650,74 654,80 658,86 663,92 669,97 675,100 681,102" fill="none" stroke="#f0f" stroke-width="0.8" stroke-linejoin="round" />
<polygon points="566.5,82.28 568.23,84 566.5,85.72 564.77,84" fill="#fff" stroke="#f0f" stroke-width="0.8"/>
<polygon points="566.87,84.44 568.6,86.17 566.87,87.89 565.15,86.17" fill="#fff" stroke="#f0f" stroke-width="0.8"/>
<polygon points="567.24,86.61 568.97,88.34 567.24,90.06 565.52,88.34" fill="#fff" stroke="#f0f" stroke-width="0.8"/>
<polygon points="567.61,88.78 569.34,90.51 567.61,92.23 565.89,90.51" fill="#fff" stroke="#f0f" stroke-width="0.8"/>
<polygon points="567.99,90.95 569.71,92.67 567.99,94.4 566.26,92.67" fill="#fff" stroke="#f0f" stroke-width="0.8"/>
<polygon points="568.36,93.12 570.08,94.84 568.36,96.57 566.63,94.84" fill="#fff" stroke="#f0f" stroke-width="0.8"/>
<polygon points="568.73,95.29 570.45,97.01 568.73,98.74 567,97.01" fill="#fff" stroke="#f0f" stroke-width="0.8"/>
<polygon points="569.48,97.22 571.2,98.94 569.48,100.67 567.75,98.94" fill="#fff" stroke="#f0f" stroke-width="0.8"/>
<polygon points="571.26,98.51 572.98,100.23 571.26,101.96 569.53,100.23" fill="#fff" stroke="#f0f" stroke-width="0.8"/>
<polygon points="573.04,99.8 574.77,101.52 573.04,103.25 571.32,101.52" fill="#fff" stroke="#f0f" stroke-width="0.8"/>
<polygon points="574.98,100.81 576.71,102.53 574.98,104.26 573.26,102.53" fill="#fff" stroke="#f0f" stroke-width="0.8"/>
<polygon points="577.01,101.65 578.74,103.37 577.01,105.1 575.29,103.37" fill="#fff" stroke="#f0f" stroke-width="0.8"/>
<polygon points="579.05,102.49 580.77,104.21 579.05,105.94 577.32,104.21" fill="#fff" stroke="#f0f" stroke-width="0.8"/>
<polygon points="581.14,103.15 582.87,104.87 581.14,106.6 579.42,104.87" fill="#fff" stroke="#f0f" stroke-width="0.8"/>
<polygon points="583.26,103.76 584.98,105.48 583.26,107.21 581.53,105.48" fill="#fff" stroke="#f0f" stroke-width="0.8"/>
<polygon points="585.37,104.37 587.1,106.09 585.37,107.82 583.65,106.09" fill="#fff" stroke="#f0f" stroke-width="0.8"/>
<polygon points="587.57,104.26 589.29,105.98 587.57,107.71 585.84,105.98" fill="#fff" stroke="#f0f" stroke-width="0.8"/>
<polygon points="589.76,104.14 591.49,105.87 589.76,107.59 588.04,105.87" fill="#fff" stroke="#f0f" stroke-width="0.8"/>
<polygon points="591.96,104.02 593.69,105.75 591.96,107.47 590.24,105.75" fill="#fff" stroke="#f0f" stroke-width="0.8"/>
<polygon points="594.16,103.9 595.88,105.63 594.16,107.35 592.43,105.63" fill="#fff" stroke="#f0f" stroke-width="0.8"/>
<polygon points="596.29,103.41 598.01,105.13 596.29,106.86 594.56,105.13" fill="#fff" stroke="#f0f" stroke-width="0.8"/>
<polygon points="598.4,102.79 600.13,104.52 598.4,106.24 596.68,104.52" fill="#fff" stroke="#f0f" stroke-width="0.8"/>
<polygon points="600.51,102.17 602.24,103.9 600.51,105.62 598.79,103.9" fill="#fff" stroke="#f0f" stroke-width="0.8"/>
<polygon points="602.62,101.56 604.35,103.28 602.62,105.01 600.9,103.28" fill="#fff" stroke="#f0f" stroke-width="0.8"/>
<polygon points="604.56,100.53 606.29,102.26 604.56,103.98 602.84,102.26" fill="#fff" stroke="#f0f" stroke-width="0.8"/>
<polygon points="606.48,99.44 608.2,101.17 606.48,102.89 604.75,101.17" fill="#fff" stroke="#f0f" stroke-width="0.8"/>
<polygon points="608.39,98.36 610.11,100.08 608.39,101.81 606.66,100.08" fill="#fff" stroke="#f0f" stroke-width="0.8"/>
<polygon points="610.3,97.27 612.03,99 610.3,100.72 608.58,99" fill="#fff" stroke="#f0f" stroke-width="0.8"/>
<polygon points="612.07,95.97 613.79,97.7 612.07,99.42 610.34,97.7" fill="#fff" stroke="#f0f" stroke-width="0.8"/>
<polygon points="613.75,94.56 615.48,96.28 613.75,98.01 612.03,96.28" fill="#fff" stroke="#f0f" stroke-width="0.8"/>
<polygon points="615.43,93.14 617.16,94.86 615.43,96.59 613.71,94.86" fill="#fff" stroke="#f0f" stroke-width="0.8"/>
<polygon points="617.11,91.72 618.84,93.45 617.11,95.17 615.39,93.45" fill="#fff" stroke="#f0f" stroke-width="0.8"/>
<polygon points="618.74,90.24 620.47,91.97 618.74,93.69 617.02,91.97" fill="#fff" stroke="#f0f" stroke-width="0.8"/>
<polygon points="620.31,88.7 622.03,90.42 620.31,92.15 618.58,90.42" fill="#fff" stroke="#f0f" stroke-width="0.8"/>
<polygon points="621.88,87.15 623.6,88.88 621.88,90.6 620.15,88.88" fill="#fff" stroke="#f0f" stroke-width="0.8"/>
<polygon points="623.44,85.61 625.17,87.33 623.44,89.06 621.72,87.33" fill="#fff" stroke="#f0f" stroke-width="0.8"/>
<polygon points="625.01,84.06 626.73,85.79 625.01,87.51 623.28,85.79" fill="#fff" stroke="#f0f" stroke-width="0.8"/>
<polygon points="626.13,82.18 627.86,83.9 626.13,85.63 624.41,83.9" fill="#fff" stroke="#f0f" stroke-width="0.8"/>
<polygon points="627.22,80.27 628.95,81.99 627.22,83.72 625.5,81.99" fill="#fff" stroke="#f0f" stroke-width="0.8"/>
<polygon points="628.32,78.36 630.04,80.08 628.32,81.81 626.59,80.08" fill="#fff" stroke="#f0f" stroke-width="0.8"/>
<polygon points="629.41,76.45 631.14,78.18 629.41,79.9 627.69,78.18" fill="#fff" stroke="#f0f" stroke-width="0.8"/>
<polygon points="630.68,74.66 632.41,76.39 630.68,78.11 628.96,76.39" fill="#fff" stroke="#f0f" stroke-width="0.8"/>
<polygon points="632.05,72.94 633.77,74.66 632.05,76.39 630.32,74.66" fill="#fff" stroke="#f0f" stroke-width="0.8"/>
<polygon points="633.42,71.21 635.14,72.94 633.42,74.66 631.69,72.94" fill="#fff" stroke="#f0f" stroke-width="0.8"/>
<polygon points="634.79,69.49 636.51,71.22 634.79,72.94 633.06,71.22" fill="#fff" stroke="#f0f" stroke-width="0.8"/>
<polygon points="636.17,67.78 637.89,69.51 636.17,71.23 634.44,69.51" fill="#fff" stroke="#f0f" stroke-width="0.8"/>
<polygon points="637.55,66.07 639.28,67.8 637.55,69.52 635.83,67.8" fill="#fff" stroke="#f0f" stroke-width="0.8"/>
<polygon points="638.93,64.36 640.66,66.08 638.93,67.81 637.21,66.08" fill="#fff" stroke="#f0f" stroke-width="0.8"/>
<polygon points="641.06,64.62 642.79,66.34 641.06,68.07 639.34,66.34" fill="#fff" stroke="#f0f" stroke-width="0.8"/>
<polygon points="643.06,65.44 644.79,67.16 643.06,68.89 641.34,67.16" fill="#fff" stroke="#f0f" stroke-width="0.8"/>
<polygon points="644.93,66.6 646.65,68.33 644.93,70.05 643.2,68.33" fill="#fff" stroke="#f0f" stroke-width="0.8"/>
<polygon points="646.58,68 648.31,69.73 646.58,71.45 644.86,69.73" fill="#fff" stroke="#f0f" stroke-width="0.8"/>
<polygon points="647.96,69.72 649.68,71.45 647.96,73.17 646.23,71.45" fill="#fff" stroke="#f0f" stroke-width="0.8"/>
<polygon points="649.33,71.44 651.06,73.17 649.33,74.89 647.61,73.17" fill="#fff" stroke="#f0f" stroke-width="0.8"/>
<polygon points="650.63,73.22 652.35,74.94 650.63,76.67 648.9,74.94" fill="#fff" stroke="#f0f" stroke-width="0.8"/>
<polygon points="651.85,75.05 653.57,76.77 651.85,78.5 650.12,76.77" fill="#fff" stroke="#f0f" stroke-width="0.8"/>
<polygon points="653.07,76.88 654.79,78.6 653.07,80.33 651.34,78.6" fill="#fff" stroke="#f0f" stroke-width="0.8"/>
<polygon points="654.29,78.71 656.01,80.43 654.29,82.16 652.56,80.43" fill="#fff" stroke="#f0f" stroke-width="0.8"/>
<polygon points="655.51,80.54 657.23,82.26 655.51,83.99 653.78,82.26" fill="#fff" stroke="#f0f" stroke-width="0.8"/>
<polygon points="656.73,82.37 658.45,84.09 656.73,85.82 655,84.09" fill="#fff" stroke="#f0f" stroke-width="0.8"/>
<polygon points="657.95,84.2 659.67,85.92 657.95,87.65 656.22,85.92" fill="#fff" stroke="#f0f" stroke-width="0.8"/>
<polygon points="659.35,85.9 661.08,87.62 659.35,89.35 657.63,87.62" fill="#fff" stroke="#f0f" stroke-width="0.8"/>
<polygon points="660.76,87.59 662.48,89.31 660.76,91.04 659.03,89.31" fill="#fff" stroke="#f0f" stroke-width="0.8"/>
<polygon points="662.17,89.28 663.89,91 662.17,92.73 660.44,91" fill="#fff" stroke="#f0f" stroke-width="0.8"/>
<polygon points="663.69,90.85 665.42,92.58 663.69,94.3 661.97,92.58" fill="#fff" stroke="#f0f" stroke-width="0.8"/>
<polygon points="665.38,92.26 667.11,93.98 665.38,95.71 663.66,93.98" fill="#fff" stroke="#f0f" stroke-width="0.8"/>
<polygon points="667.07,93.67 668.8,95.39 667.07,97.12 665.35,95.39" fill="#fff" stroke="#f0f" stroke-width="0.8"/>
<polygon points="668.76,95.08 670.49,96.8 668.76,98.53 667.04,96.8" fill="#fff" stroke="#f0f" stroke-width="0.8"/>
<polygon points="670.69,96.12 672.41,97.84 670.69,99.57 668.96,97.84" fill="#fff" stroke="#f0f" stroke-width="0.8"/>
<polygon points="672.66,97.1 674.38,98.83 672.66,100.55 670.93,98.83" fill="#fff" stroke="#f0f" stroke-width="0.8"/>
<polygon points="674.63,98.09 676.35,99.81 674.63,101.54 672.9,99.81" fill="#fff" stroke="#f0f" stroke-width="0.8"/>
<polygon points="676.69,98.84 678.41,100.56 676.69,102.29 674.96,100.56" fill="#fff" stroke="#f0f" stroke-width="0.8"/>
<polygon points="678.78,99.53 680.5,101.26 678.78,102.98 677.05,101.26" fill="#fff" stroke="#f0f" stroke-width="0.8"/>
<polygon points="680.86,100.23 682.59,101.95 680.86,103.68 679.14,101.95" fill="#fff" stroke="#f0f" stroke-width="0.8"/>
<polyline points="566.5,88 571.3,96.2 579.5,99.7 591.2,98.6 602.9,94.5 614.6,85.7 620.4,82.8 627.4,81 634.4,79.9 642.7,78 648,80 653,84 658,89 664,94 670,97.5 681,100.5" fill="none" stroke="#0ff" stroke-width="0.8" stroke-linejoin="round" />
<circle cx="566.5" cy="88" r="1.5" fill="#fff" stroke="#0ff" stroke-width="0.8"/>
<circle cx="567.61" cy="89.9" r="1.5" fill="#fff" stroke="#0ff" stroke-width="0.8"/>
<circle cx="568.72" cy="91.8" r="1.5" fill="#fff" stroke="#0ff" stroke-width="0.8"/>
<circle cx="569.83" cy="93.7" r="1.5" fill="#fff" stroke="#0ff" stroke-width="0.8"/>
<circle cx="570.95" cy="95.59" r="1.5" fill="#fff" stroke="#0ff" stroke-width="0.8"/>
<circle cx="572.68" cy="96.79" r="1.5" fill="#fff" stroke="#0ff" stroke-width="0.8"/>
<circle cx="574.7" cy="97.65" r="1.5" fill="#fff" stroke="#0ff" stroke-width="0.8"/>
<circle cx="576.72" cy="98.52" r="1.5" fill="#fff" stroke="#0ff" stroke-width="0.8"/>
<circle cx="578.75" cy="99.38" r="1.5" fill="#fff" stroke="#0ff" stroke-width="0.8"/>
<circle cx="580.88" cy="99.57" r="1.5" fill="#fff" stroke="#0ff" stroke-width="0.8"/>
<circle cx="583.07" cy="99.36" r="1.5" fill="#fff" stroke="#0ff" stroke-width="0.8"/>
<circle cx="585.26" cy="99.16" r="1.5" fill="#fff" stroke="#0ff" stroke-width="0.8"/>
<circle cx="587.45" cy="98.95" r="1.5" fill="#fff" stroke="#0ff" stroke-width="0.8"/>
<circle cx="589.64" cy="98.75" r="1.5" fill="#fff" stroke="#0ff" stroke-width="0.8"/>
<circle cx="591.8" cy="98.39" r="1.5" fill="#fff" stroke="#0ff" stroke-width="0.8"/>
<circle cx="593.87" cy="97.66" r="1.5" fill="#fff" stroke="#0ff" stroke-width="0.8"/>
<circle cx="595.95" cy="96.94" r="1.5" fill="#fff" stroke="#0ff" stroke-width="0.8"/>
<circle cx="598.02" cy="96.21" r="1.5" fill="#fff" stroke="#0ff" stroke-width="0.8"/>
<circle cx="600.1" cy="95.48" r="1.5" fill="#fff" stroke="#0ff" stroke-width="0.8"/>
<circle cx="602.18" cy="94.75" r="1.5" fill="#fff" stroke="#0ff" stroke-width="0.8"/>
<circle cx="604.05" cy="93.64" r="1.5" fill="#fff" stroke="#0ff" stroke-width="0.8"/>
<circle cx="605.8" cy="92.32" r="1.5" fill="#fff" stroke="#0ff" stroke-width="0.8"/>
<circle cx="607.56" cy="90.99" r="1.5" fill="#fff" stroke="#0ff" stroke-width="0.8"/>
<circle cx="609.32" cy="89.67" r="1.5" fill="#fff" stroke="#0ff" stroke-width="0.8"/>
<circle cx="611.08" cy="88.35" r="1.5" fill="#fff" stroke="#0ff" stroke-width="0.8"/>
<circle cx="612.84" cy="87.03" r="1.5" fill="#fff" stroke="#0ff" stroke-width="0.8"/>
<circle cx="614.59" cy="85.7" r="1.5" fill="#fff" stroke="#0ff" stroke-width="0.8"/>
<circle cx="616.56" cy="84.72" r="1.5" fill="#fff" stroke="#0ff" stroke-width="0.8"/>
<circle cx="618.53" cy="83.74" r="1.5" fill="#fff" stroke="#0ff" stroke-width="0.8"/>
<circle cx="620.51" cy="82.77" r="1.5" fill="#fff" stroke="#0ff" stroke-width="0.8"/>
<circle cx="622.64" cy="82.22" r="1.5" fill="#fff" stroke="#0ff" stroke-width="0.8"/>
<circle cx="624.77" cy="81.68" r="1.5" fill="#fff" stroke="#0ff" stroke-width="0.8"/>
<circle cx="626.9" cy="81.13" r="1.5" fill="#fff" stroke="#0ff" stroke-width="0.8"/>
<circle cx="629.06" cy="80.74" r="1.5" fill="#fff" stroke="#0ff" stroke-width="0.8"/>
<circle cx="631.23" cy="80.4" r="1.5" fill="#fff" stroke="#0ff" stroke-width="0.8"/>
<circle cx="633.41" cy="80.06" r="1.5" fill="#fff" stroke="#0ff" stroke-width="0.8"/>
<circle cx="635.57" cy="79.63" r="1.5" fill="#fff" stroke="#0ff" stroke-width="0.8"/>
<circle cx="637.71" cy="79.14" r="1.5" fill="#fff" stroke="#0ff" stroke-width="0.8"/>
<circle cx="639.85" cy="78.65" r="1.5" fill="#fff" stroke="#0ff" stroke-width="0.8"/>
<circle cx="642" cy="78.16" r="1.5" fill="#fff" stroke="#0ff" stroke-width="0.8"/>
<circle cx="644.09" cy="78.52" r="1.5" fill="#fff" stroke="#0ff" stroke-width="0.8"/>
<circle cx="646.14" cy="79.3" r="1.5" fill="#fff" stroke="#0ff" stroke-width="0.8"/>
<circle cx="648.17" cy="80.13" r="1.5" fill="#fff" stroke="#0ff" stroke-width="0.8"/>
<circle cx="649.89" cy="81.51" r="1.5" fill="#fff" stroke="#0ff" stroke-width="0.8"/>
<circle cx="651.6" cy="82.88" r="1.5" fill="#fff" stroke="#0ff" stroke-width="0.8"/>
<circle cx="653.29" cy="84.29" r="1.5" fill="#fff" stroke="#0ff" stroke-width="0.8"/>
<circle cx="654.85" cy="85.85" r="1.5" fill="#fff" stroke="#0ff" stroke-width="0.8"/>
<circle cx="656.4" cy="87.4" r="1.5" fill="#fff" stroke="#0ff" stroke-width="0.8"/>
<circle cx="657.96" cy="88.96" r="1.5" fill="#fff" stroke="#0ff" stroke-width="0.8"/>
<circle cx="659.65" cy="90.37" r="1.5" fill="#fff" stroke="#0ff" stroke-width="0.8"/>
<circle cx="661.34" cy="91.78" r="1.5" fill="#fff" stroke="#0ff" stroke-width="0.8"/>
<circle cx="663.03" cy="93.19" r="1.5" fill="#fff" stroke="#0ff" stroke-width="0.8"/>
<circle cx="664.8" cy="94.47" r="1.5" fill="#fff" stroke="#0ff" stroke-width="0.8"/>
<circle cx="666.7" cy="95.58" r="1.5" fill="#fff" stroke="#0ff" stroke-width="0.8"/>
<circle cx="668.61" cy="96.69" r="1.5" fill="#fff" stroke="#0ff" stroke-width="0.8"/>
<circle cx="670.56" cy="97.65" r="1.5" fill="#fff" stroke="#0ff" stroke-width="0.8"/>
<circle cx="672.69" cy="98.23" r="1.5" fill="#fff" stroke="#0ff" stroke-width="0.8"/>
<circle cx="674.81" cy="98.81" r="1.5" fill="#fff" stroke="#0ff" stroke-width="0.8"/>
<circle cx="676.93" cy="99.39" r="1.5" fill="#fff" stroke="#0ff" stroke-width="0.8"/>
<circle cx="679.05" cy="99.97" r="1.5" fill="#fff" stroke="#0ff" stroke-width="0.8"/>
<polyline points="573.7,90.2 579.5,96.1 590,95.2 602.9,92 614.6,90.2 626.3,89.1 635,88.7 642,89.7 650,91.2 658,94.2 666,97.7 674,100.7 681,102.2" fill="none" stroke="#ff0" stroke-width="0.8" stroke-linejoin="round" />
<polygon points="573.7,91.96 575.46,88.92 571.94,88.92" fill="#ff0" stroke="#ff0" stroke-width="0.8"/>
<polygon points="575.24,93.53 577,90.49 573.48,90.49" fill="#ff0" stroke="#ff0" stroke-width="0.8"/>
<polygon points="576.78,95.1 578.54,92.06 575.02,92.06" fill="#ff0" stroke="#ff0" stroke-width="0.8"/>
<polygon points="578.33,96.67 580.09,93.63 576.57,93.63" fill="#ff0" stroke="#ff0" stroke-width="0.8"/>
<polygon points="580.02,97.82 581.78,94.78 578.26,94.78" fill="#ff0" stroke="#ff0" stroke-width="0.8"/>
<polygon points="582.22,97.63 583.98,94.59 580.46,94.59" fill="#ff0" stroke="#ff0" stroke-width="0.8"/>
<polygon points="584.41,97.44 586.17,94.4 582.65,94.4" fill="#ff0" stroke="#ff0" stroke-width="0.8"/>
<polygon points="586.6,97.25 588.36,94.21 584.84,94.21" fill="#ff0" stroke="#ff0" stroke-width="0.8"/>
<polygon points="588.79,97.06 590.55,94.02 587.03,94.02" fill="#ff0" stroke="#ff0" stroke-width="0.8"/>
<polygon points="590.96,96.72 592.72,93.68 589.2,93.68" fill="#ff0" stroke="#ff0" stroke-width="0.8"/>
<polygon points="593.09,96.19 594.85,93.15 591.33,93.15" fill="#ff0" stroke="#ff0" stroke-width="0.8"/>
<polygon points="595.23,95.66 596.99,92.62 593.47,92.62" fill="#ff0" stroke="#ff0" stroke-width="0.8"/>
<polygon points="597.36,95.13 599.12,92.09 595.6,92.09" fill="#ff0" stroke="#ff0" stroke-width="0.8"/>
<polygon points="599.5,94.6 601.26,91.56 597.74,91.56" fill="#ff0" stroke="#ff0" stroke-width="0.8"/>
<polygon points="601.64,94.07 603.4,91.03 599.88,91.03" fill="#ff0" stroke="#ff0" stroke-width="0.8"/>
<polygon points="603.79,93.62 605.55,90.58 602.03,90.58" fill="#ff0" stroke="#ff0" stroke-width="0.8"/>
<polygon points="605.96,93.29 607.72,90.25 604.2,90.25" fill="#ff0" stroke="#ff0" stroke-width="0.8"/>
<polygon points="608.14,92.95 609.9,89.91 606.38,89.91" fill="#ff0" stroke="#ff0" stroke-width="0.8"/>
<polygon points="610.31,92.62 612.07,89.58 608.55,89.58" fill="#ff0" stroke="#ff0" stroke-width="0.8"/>
<polygon points="612.48,92.29 614.24,89.25 610.72,89.25" fill="#ff0" stroke="#ff0" stroke-width="0.8"/>
<polygon points="614.66,91.95 616.42,88.91 612.9,88.91" fill="#ff0" stroke="#ff0" stroke-width="0.8"/>
<polygon points="616.85,91.75 618.61,88.71 615.09,88.71" fill="#ff0" stroke="#ff0" stroke-width="0.8"/>
<polygon points="619.04,91.54 620.8,88.5 617.28,88.5" fill="#ff0" stroke="#ff0" stroke-width="0.8"/>
<polygon points="621.23,91.34 622.99,88.3 619.47,88.3" fill="#ff0" stroke="#ff0" stroke-width="0.8"/>
<polygon points="623.42,91.13 625.18,88.09 621.66,88.09" fill="#ff0" stroke="#ff0" stroke-width="0.8"/>
<polygon points="625.61,90.92 627.37,87.88 623.85,87.88" fill="#ff0" stroke="#ff0" stroke-width="0.8"/>
<polygon points="627.81,90.79 629.57,87.75 626.05,87.75" fill="#ff0" stroke="#ff0" stroke-width="0.8"/>
<polygon points="630,90.69 631.76,87.65 628.24,87.65" fill="#ff0" stroke="#ff0" stroke-width="0.8"/>
<polygon points="632.2,90.59 633.96,87.55 630.44,87.55" fill="#ff0" stroke="#ff0" stroke-width="0.8"/>
<polygon points="634.4,90.49 636.16,87.45 632.64,87.45" fill="#ff0" stroke="#ff0" stroke-width="0.8"/>
<polygon points="636.58,90.69 638.34,87.65 634.82,87.65" fill="#ff0" stroke="#ff0" stroke-width="0.8"/>
<polygon points="638.76,91 640.52,87.96 637,87.96" fill="#ff0" stroke="#ff0" stroke-width="0.8"/>
<polygon points="640.94,91.31 642.7,88.27 639.18,88.27" fill="#ff0" stroke="#ff0" stroke-width="0.8"/>
<polygon points="643.11,91.67 644.87,88.63 641.35,88.63" fill="#ff0" stroke="#ff0" stroke-width="0.8"/>
<polygon points="645.27,92.07 647.03,89.03 643.51,89.03" fill="#ff0" stroke="#ff0" stroke-width="0.8"/>
<polygon points="647.43,92.48 649.19,89.44 645.67,89.44" fill="#ff0" stroke="#ff0" stroke-width="0.8"/>
<polygon points="649.6,92.88 651.36,89.84 647.84,89.84" fill="#ff0" stroke="#ff0" stroke-width="0.8"/>
<polygon points="651.67,93.59 653.43,90.55 649.91,90.55" fill="#ff0" stroke="#ff0" stroke-width="0.8"/>
<polygon points="653.73,94.36 655.49,91.32 651.97,91.32" fill="#ff0" stroke="#ff0" stroke-width="0.8"/>
<polygon points="655.79,95.13 657.55,92.09 654.03,92.09" fill="#ff0" stroke="#ff0" stroke-width="0.8"/>
<polygon points="657.85,95.91 659.61,92.87 656.09,92.87" fill="#ff0" stroke="#ff0" stroke-width="0.8"/>
<polygon points="659.87,96.78 661.63,93.74 658.11,93.74" fill="#ff0" stroke="#ff0" stroke-width="0.8"/>
<polygon points="661.89,97.66 663.65,94.62 660.13,94.62" fill="#ff0" stroke="#ff0" stroke-width="0.8"/>
<polygon points="663.9,98.54 665.66,95.5 662.14,95.5" fill="#ff0" stroke="#ff0" stroke-width="0.8"/>
<polygon points="665.92,99.42 667.68,96.38 664.16,96.38" fill="#ff0" stroke="#ff0" stroke-width="0.8"/>
<polygon points="667.98,100.2 669.74,97.16 666.22,97.16" fill="#ff0" stroke="#ff0" stroke-width="0.8"/>
<polygon points="670.04,100.97 671.8,97.93 668.28,97.93" fill="#ff0" stroke="#ff0" stroke-width="0.8"/>
<polygon points="672.1,101.75 673.86,98.71 670.34,98.71" fill="#ff0" stroke="#ff0" stroke-width="0.8"/>
<polygon points="674.16,102.5 675.92,99.46 672.4,99.46" fill="#ff0" stroke="#ff0" stroke-width="0.8"/>
<polygon points="676.32,102.96 678.08,99.92 674.56,99.92" fill="#ff0" stroke="#ff0" stroke-width="0.8"/>
<polygon points="678.47,103.42 680.23,100.38 676.71,100.38" fill="#ff0" stroke="#ff0" stroke-width="0.8"/>
<polygon points="680.62,103.88 682.38,100.84 678.86,100.84" fill="#ff0" stroke="#ff0" stroke-width="0.8"/>
<polyline points="573.7,88 579.5,93.9 590,93 602.9,89.8 614.6,88 626.3,86.9 635,86.5 642,87.5 650,89 658,92 666,95.5 674,98.5 681,100" fill="none" stroke="#ff0" stroke-width="0.8" stroke-linejoin="round" />
<polygon points="573.7,89.76 575.46,86.72 571.94,86.72" fill="#ff0" stroke="#ff0" stroke-width="0.8"/>
<polygon points="575.24,91.33 577,88.29 573.48,88.29" fill="#ff0" stroke="#ff0" stroke-width="0.8"/>
<polygon points="576.78,92.9 578.54,89.86 575.02,89.86" fill="#ff0" stroke="#ff0" stroke-width="0.8"/>
<polygon points="578.33,94.47 580.09,91.43 576.57,91.43" fill="#ff0" stroke="#ff0" stroke-width="0.8"/>
<polygon points="580.02,95.62 581.78,92.58 578.26,92.58" fill="#ff0" stroke="#ff0" stroke-width="0.8"/>
<polygon points="582.22,95.43 583.98,92.39 580.46,92.39" fill="#ff0" stroke="#ff0" stroke-width="0.8"/>
<polygon points="584.41,95.24 586.17,92.2 582.65,92.2" fill="#ff0" stroke="#ff0" stroke-width="0.8"/>
<polygon points="586.6,95.05 588.36,92.01 584.84,92.01" fill="#ff0" stroke="#ff0" stroke-width="0.8"/>
<polygon points="588.79,94.86 590.55,91.82 587.03,91.82" fill="#ff0" stroke="#ff0" stroke-width="0.8"/>
<polygon points="590.96,94.52 592.72,91.48 589.2,91.48" fill="#ff0" stroke="#ff0" stroke-width="0.8"/>
<polygon points="593.09,93.99 594.85,90.95 591.33,90.95" fill="#ff0" stroke="#ff0" stroke-width="0.8"/>
<polygon points="595.23,93.46 596.99,90.42 593.47,90.42" fill="#ff0" stroke="#ff0" stroke-width="0.8"/>
<polygon points="597.36,92.93 599.12,89.89 595.6,89.89" fill="#ff0" stroke="#ff0" stroke-width="0.8"/>
<polygon points="599.5,92.4 601.26,89.36 597.74,89.36" fill="#ff0" stroke="#ff0" stroke-width="0.8"/>
<polygon points="601.64,91.87 603.4,88.83 599.88,88.83" fill="#ff0" stroke="#ff0" stroke-width="0.8"/>
<polygon points="603.79,91.42 605.55,88.38 602.03,88.38" fill="#ff0" stroke="#ff0" stroke-width="0.8"/>
<polygon points="605.96,91.09 607.72,88.05 604.2,88.05" fill="#ff0" stroke="#ff0" stroke-width="0.8"/>
<polygon points="608.14,90.75 609.9,87.71 606.38,87.71" fill="#ff0" stroke="#ff0" stroke-width="0.8"/>
<polygon points="610.31,90.42 612.07,87.38 608.55,87.38" fill="#ff0" stroke="#ff0" stroke-width="0.8"/>
<polygon points="612.48,90.09 614.24,87.05 610.72,87.05" fill="#ff0" stroke="#ff0" stroke-width="0.8"/>
<polygon points="614.66,89.75 616.42,86.71 612.9,86.71" fill="#ff0" stroke="#ff0" stroke-width="0.8"/>
<polygon points="616.85,89.55 618.61,86.51 615.09,86.51" fill="#ff0" stroke="#ff0" stroke-width="0.8"/>
<polygon points="619.04,89.34 620.8,86.3 617.28,86.3" fill="#ff0" stroke="#ff0" stroke-width="0.8"/>
<polygon points="621.23,89.14 622.99,86.1 619.47,86.1" fill="#ff0" stroke="#ff0" stroke-width="0.8"/>
<polygon points="623.42,88.93 625.18,85.89 621.66,85.89" fill="#ff0" stroke="#ff0" stroke-width="0.8"/>
<polygon points="625.61,88.72 627.37,85.68 623.85,85.68" fill="#ff0" stroke="#ff0" stroke-width="0.8"/>
<polygon points="627.81,88.59 629.57,85.55 626.05,85.55" fill="#ff0" stroke="#ff0" stroke-width="0.8"/>
<polygon points="630,88.49 631.76,85.45 628.24,85.45" fill="#ff0" stroke="#ff0" stroke-width="0.8"/>
<polygon points="632.2,88.39 633.96,85.35 630.44,85.35" fill="#ff0" stroke="#ff0" stroke-width="0.8"/>
<polygon points="634.4,88.29 636.16,85.25 632.64,85.25" fill="#ff0" stroke="#ff0" stroke-width="0.8"/>
<polygon points="636.58,88.49 638.34,85.45 634.82,85.45" fill="#ff0" stroke="#ff0" stroke-width="0.8"/>
<polygon points="638.76,88.8 640.52,85.76 637,85.76" fill="#ff0" stroke="#ff0" stroke-width="0.8"/>
<polygon points="640.94,89.11 642.7,86.07 639.18,86.07" fill="#ff0" stroke="#ff0" stroke-width="0.8"/>
<polygon points="643.11,89.47 644.87,86.43 641.35,86.43" fill="#ff0" stroke="#ff0" stroke-width="0.8"/>
<polygon points="645.27,89.87 647.03,86.83 643.51,86.83" fill="#ff0" stroke="#ff0" stroke-width="0.8"/>
<polygon points="647.43,90.28 649.19,87.24 645.67,87.24" fill="#ff0" stroke="#ff0" stroke-width="0.8"/>
<polygon points="649.6,90.68 651.36,87.64 647.84,87.64" fill="#ff0" stroke="#ff0" stroke-width="0.8"/>
<polygon points="651.67,91.39 653.43,88.35 649.91,88.35" fill="#ff0" stroke="#ff0" stroke-width="0.8"/>
<polygon points="653.73,92.16 655.49,89.12 651.97,89.12" fill="#ff0" stroke="#ff0" stroke-width="0.8"/>
<polygon points="655.79,92.93 657.55,89.89 654.03,89.89" fill="#ff0" stroke="#ff0" stroke-width="0.8"/>
<polygon points="657.85,93.71 659.61,90.67 656.09,90.67" fill="#ff0" stroke="#ff0" stroke-width="0.8"/>
<polygon points="659.87,94.58 661.63,91.54 658.11,91.54" fill="#ff0" stroke="#ff0" stroke-width="0.8"/>
<polygon points="661.89,95.46 663.65,92.42 660.13,92.42" fill="#ff0" stroke="#ff0" stroke-width="0.8"/>
<polygon points="663.9,96.34 665.66,93.3 662.14,93.3" fill="#ff0" stroke="#ff0" stroke-width="0.8"/>
<polygon points="665.92,97.22 667.68,94.18 664.16,94.18" fill="#ff0" stroke="#ff0" stroke-width="0.8"/>
<polygon points="667.98,98 669.74,94.96 666.22,94.96" fill="#ff0" stroke="#ff0" stroke-width="0.8"/>
<polygon points="670.04,98.77 671.8,95.73 668.28,95.73" fill="#ff0" stroke="#ff0" stroke-width="0.8"/>
<polygon points="672.1,99.55 673.86,96.51 670.34,96.51" fill="#ff0" stroke="#ff0" stroke-width="0.8"/>
<polygon points="674.16,100.3 675.92,97.26 672.4,97.26" fill="#ff0" stroke="#ff0" stroke-width="0.8"/>
<polygon points="676.32,100.76 678.08,97.72 674.56,97.72" fill="#ff0" stroke="#ff0" stroke-width="0.8"/>
<polygon points="678.47,101.22 680.23,98.18 676.71,98.18" fill="#ff0" stroke="#ff0" stroke-width="0.8"/>
<polygon points="680.62,101.68 682.38,98.64 678.86,98.64" fill="#ff0" stroke="#ff0" stroke-width="0.8"/>
<polyline points="576,86.3 579.5,90.4 585.4,93.3 592.4,92.1 600,91.5 610,91.5 620,91.5 625,91.5 632,92.1 642,93.9 650,95.5 660,98 670,100.5 681,102.5" fill="none" stroke="#670748" stroke-width="0.8" stroke-linejoin="round" />
<rect x="574.7" y="85" width="2.6" height="2.6" fill="#fff" stroke="#670748" stroke-width="0.8"/>
<rect x="576.39" y="86.98" width="2.6" height="2.6" fill="#fff" stroke="#670748" stroke-width="0.8"/>
<rect x="578.08" y="88.95" width="2.6" height="2.6" fill="#fff" stroke="#670748" stroke-width="0.8"/>
<rect x="580.36" y="90.16" width="2.6" height="2.6" fill="#fff" stroke="#670748" stroke-width="0.8"/>
<rect x="582.7" y="91.31" width="2.6" height="2.6" fill="#fff" stroke="#670748" stroke-width="0.8"/>
<rect x="585.12" y="91.83" width="2.6" height="2.6" fill="#fff" stroke="#670748" stroke-width="0.8"/>
<rect x="587.68" y="91.39" width="2.6" height="2.6" fill="#fff" stroke="#670748" stroke-width="0.8"/>
<rect x="590.25" y="90.95" width="2.6" height="2.6" fill="#fff" stroke="#670748" stroke-width="0.8"/>
<rect x="592.83" y="90.66" width="2.6" height="2.6" fill="#fff" stroke="#670748" stroke-width="0.8"/>
<rect x="595.42" y="90.46" width="2.6" height="2.6" fill="#fff" stroke="#670748" stroke-width="0.8"/>
<rect x="598.01" y="90.25" width="2.6" height="2.6" fill="#fff" stroke="#670748" stroke-width="0.8"/>
<rect x="600.61" y="90.2" width="2.6" height="2.6" fill="#fff" stroke="#670748" stroke-width="0.8"/>
<rect x="603.21" y="90.2" width="2.6" height="2.6" fill="#fff" stroke="#670748" stroke-width="0.8"/>
<rect x="605.81" y="90.2" width="2.6" height="2.6" fill="#fff" stroke="#670748" stroke-width="0.8"/>
<rect x="608.41" y="90.2" width="2.6" height="2.6" fill="#fff" stroke="#670748" stroke-width="0.8"/>
<rect x="611.01" y="90.2" width="2.6" height="2.6" fill="#fff" stroke="#670748" stroke-width="0.8"/>
<rect x="613.61" y="90.2" width="2.6" height="2.6" fill="#fff" stroke="#670748" stroke-width="0.8"/>
<rect x="616.21" y="90.2" width="2.6" height="2.6" fill="#fff" stroke="#670748" stroke-width="0.8"/>
<rect x="618.81" y="90.2" width="2.6" height="2.6" fill="#fff" stroke="#670748" stroke-width="0.8"/>
<rect x="621.41" y="90.2" width="2.6" height="2.6" fill="#fff" stroke="#670748" stroke-width="0.8"/>
<rect x="624.01" y="90.23" width="2.6" height="2.6" fill="#fff" stroke="#670748" stroke-width="0.8"/>
<rect x="626.6" y="90.45" width="2.6" height="2.6" fill="#fff" stroke="#670748" stroke-width="0.8"/>
<rect x="629.19" y="90.67" width="2.6" height="2.6" fill="#fff" stroke="#670748" stroke-width="0.8"/>
<rect x="631.77" y="90.99" width="2.6" height="2.6" fill="#fff" stroke="#670748" stroke-width="0.8"/>
<rect x="634.33" y="91.45" width="2.6" height="2.6" fill="#fff" stroke="#670748" stroke-width="0.8"/>
<rect x="636.88" y="91.91" width="2.6" height="2.6" fill="#fff" stroke="#670748" stroke-width="0.8"/>
<rect x="639.44" y="92.37" width="2.6" height="2.6" fill="#fff" stroke="#670748" stroke-width="0.8"/>
<rect x="642" y="92.86" width="2.6" height="2.6" fill="#fff" stroke="#670748" stroke-width="0.8"/>
<rect x="644.55" y="93.37" width="2.6" height="2.6" fill="#fff" stroke="#670748" stroke-width="0.8"/>
<rect x="647.1" y="93.88" width="2.6" height="2.6" fill="#fff" stroke="#670748" stroke-width="0.8"/>
<rect x="649.64" y="94.43" width="2.6" height="2.6" fill="#fff" stroke="#670748" stroke-width="0.8"/>
<rect x="652.16" y="95.06" width="2.6" height="2.6" fill="#fff" stroke="#670748" stroke-width="0.8"/>
<rect x="654.68" y="95.7" width="2.6" height="2.6" fill="#fff" stroke="#670748" stroke-width="0.8"/>
<rect x="657.2" y="96.33" width="2.6" height="2.6" fill="#fff" stroke="#670748" stroke-width="0.8"/>
<rect x="659.73" y="96.96" width="2.6" height="2.6" fill="#fff" stroke="#670748" stroke-width="0.8"/>
<rect x="662.25" y="97.59" width="2.6" height="2.6" fill="#fff" stroke="#670748" stroke-width="0.8"/>
<rect x="664.77" y="98.22" width="2.6" height="2.6" fill="#fff" stroke="#670748" stroke-width="0.8"/>
<rect x="667.29" y="98.85" width="2.6" height="2.6" fill="#fff" stroke="#670748" stroke-width="0.8"/>
<rect x="669.83" y="99.41" width="2.6" height="2.6" fill="#fff" stroke="#670748" stroke-width="0.8"/>
<rect x="672.39" y="99.87" width="2.6" height="2.6" fill="#fff" stroke="#670748" stroke-width="0.8"/>
<rect x="674.95" y="100.34" width="2.6" height="2.6" fill="#fff" stroke="#670748" stroke-width="0.8"/>
<rect x="677.5" y="100.8" width="2.6" height="2.6" fill="#fff" stroke="#670748" stroke-width="0.8"/>
</g>
<polygon points="586.5,87.6 591.15,96.6 581.85,96.6" fill="#670748" stroke="none" stroke-width="1.2"/>
<polygon points="582.4,90.85 587.65,100.35 577.15,100.35" fill="#ff0" stroke="#000" stroke-width="1.2"/>
<polygon points="580.6,96.05 585.85,105.55 575.35,105.55" fill="#0ff" stroke="#000" stroke-width="1.2"/>
<polygon points="589.5,99.85 594.75,109.35 584.25,109.35" fill="#f0f" stroke="#000" stroke-width="1.2"/>
<polygon points="597,100.85 602.25,110.35 591.75,110.35" fill="#9400d3" stroke="#000" stroke-width="1.2"/>
<polygon points="616.6,101.35 622.1,110.85 611.1,110.85" fill="#f7a72a" stroke="#000" stroke-width="1.2"/>
<polygon points="623,102.05 628.5,111.55 617.5,111.55" fill="#bc8f8f" stroke="#000" stroke-width="1.2"/>
<rect x="566.5" y="10.7" width="114.1" height="99.5" fill="none" stroke="#666" stroke-width="0.9"/>
<line x1="572.5" y1="110.2" x2="572.5" y2="106.2" stroke="#666" stroke-width="0.9"/>
<line x1="572.5" y1="10.7" x2="572.5" y2="14.7" stroke="#666" stroke-width="0.9"/>
<line x1="599.9" y1="110.2" x2="599.9" y2="106.2" stroke="#666" stroke-width="0.9"/>
<line x1="599.9" y1="10.7" x2="599.9" y2="14.7" stroke="#666" stroke-width="0.9"/>
<line x1="627.3" y1="110.2" x2="627.3" y2="106.2" stroke="#666" stroke-width="0.9"/>
<line x1="627.3" y1="10.7" x2="627.3" y2="14.7" stroke="#666" stroke-width="0.9"/>
<line x1="654.7" y1="110.2" x2="654.7" y2="106.2" stroke="#666" stroke-width="0.9"/>
<line x1="654.7" y1="10.7" x2="654.7" y2="14.7" stroke="#666" stroke-width="0.9"/>
<line x1="586.2" y1="110.2" x2="586.2" y2="107.7" stroke="#666" stroke-width="0.9"/>
<line x1="586.2" y1="10.7" x2="586.2" y2="13.2" stroke="#666" stroke-width="0.9"/>
<line x1="613.6" y1="110.2" x2="613.6" y2="107.7" stroke="#666" stroke-width="0.9"/>
<line x1="613.6" y1="10.7" x2="613.6" y2="13.2" stroke="#666" stroke-width="0.9"/>
<line x1="641" y1="110.2" x2="641" y2="107.7" stroke="#666" stroke-width="0.9"/>
<line x1="641" y1="10.7" x2="641" y2="13.2" stroke="#666" stroke-width="0.9"/>
<line x1="668.4" y1="110.2" x2="668.4" y2="107.7" stroke="#666" stroke-width="0.9"/>
<line x1="668.4" y1="10.7" x2="668.4" y2="13.2" stroke="#666" stroke-width="0.9"/>
<line x1="566.5" y1="84.1" x2="570.5" y2="84.1" stroke="#666" stroke-width="0.9"/>
<line x1="680.6" y1="84.1" x2="676.6" y2="84.1" stroke="#666" stroke-width="0.9"/>
<line x1="566.5" y1="58" x2="570.5" y2="58" stroke="#666" stroke-width="0.9"/>
<line x1="680.6" y1="58" x2="676.6" y2="58" stroke="#666" stroke-width="0.9"/>
<line x1="566.5" y1="31.9" x2="570.5" y2="31.9" stroke="#666" stroke-width="0.9"/>
<line x1="680.6" y1="31.9" x2="676.6" y2="31.9" stroke="#666" stroke-width="0.9"/>
<line x1="566.5" y1="97.15" x2="569" y2="97.15" stroke="#666" stroke-width="0.9"/>
<line x1="680.6" y1="97.15" x2="678.1" y2="97.15" stroke="#666" stroke-width="0.9"/>
<line x1="566.5" y1="71.05" x2="569" y2="71.05" stroke="#666" stroke-width="0.9"/>
<line x1="680.6" y1="71.05" x2="678.1" y2="71.05" stroke="#666" stroke-width="0.9"/>
<line x1="566.5" y1="44.95" x2="569" y2="44.95" stroke="#666" stroke-width="0.9"/>
<line x1="680.6" y1="44.95" x2="678.1" y2="44.95" stroke="#666" stroke-width="0.9"/>
<line x1="566.5" y1="18.85" x2="569" y2="18.85" stroke="#666" stroke-width="0.9"/>
<line x1="680.6" y1="18.85" x2="678.1" y2="18.85" stroke="#666" stroke-width="0.9"/>
<text x="571" y="119.6" font-size="9.5" text-anchor="middle" fill="#000" >-0,5</text>
<text x="599.9" y="119.6" font-size="9.5" text-anchor="middle" fill="#000" >0</text>
<text x="627.3" y="119.6" font-size="9.5" text-anchor="middle" fill="#000" >0,5</text>
<text x="654.7" y="119.6" font-size="9.5" text-anchor="middle" fill="#000" >1</text>
<text x="564.6" y="113.5" font-size="9.5" text-anchor="end" fill="#000" >0</text>
<text x="564.6" y="87.4" font-size="9.5" text-anchor="end" fill="#000" >0,5</text>
<text x="564.6" y="61.3" font-size="9.5" text-anchor="end" fill="#000" >1</text>
<text x="564.6" y="35.2" font-size="9.5" text-anchor="end" fill="#000" >1,5</text>
<polyline points="581.5,23.6 591.8,23.6" fill="none" stroke="#bc8f8f" stroke-width="1" stroke-linejoin="round" />
<polygon points="581.5,21.76 583.34,23.6 581.5,25.44 579.66,23.6" fill="#fff" stroke="#bc8f8f" stroke-width="1.0"/>
<polygon points="591.8,21.76 593.64,23.6 591.8,25.44 589.96,23.6" fill="#fff" stroke="#bc8f8f" stroke-width="1.0"/>
<text x="600.8" y="26.1" font-size="7.6" text-anchor="start" font-style="italic" fill="#000" >0.05</text>
<polyline points="581.5,30.83 591.8,30.83" fill="none" stroke="#f7a72a" stroke-width="1" stroke-linejoin="round" />
<polygon points="579.74,30.83 582.78,29.07 582.78,32.59" fill="#fff" stroke="#f7a72a" stroke-width="1.0"/>
<polygon points="590.04,30.83 593.08,29.07 593.08,32.59" fill="#fff" stroke="#f7a72a" stroke-width="1.0"/>
<text x="600.8" y="33.33" font-size="7.6" text-anchor="start" font-style="italic" fill="#000" >0.06</text>
<polyline points="581.5,38.06 591.8,38.06" fill="none" stroke="#9400d3" stroke-width="1" stroke-linejoin="round" />
<polygon points="581.5,39.82 583.26,36.78 579.74,36.78" fill="#9400d3" stroke="#9400d3" stroke-width="1.0"/>
<polygon points="591.8,39.82 593.56,36.78 590.04,36.78" fill="#9400d3" stroke="#9400d3" stroke-width="1.0"/>
<text x="600.8" y="40.56" font-size="7.6" text-anchor="start" font-style="italic" fill="#000" >0.07</text>
<polyline points="581.5,45.29 591.8,45.29" fill="none" stroke="#008b00" stroke-width="1" stroke-linejoin="round" />
<polygon points="583.26,45.29 580.22,43.53 580.22,47.05" fill="#fff" stroke="#008b00" stroke-width="1.0"/>
<polygon points="593.56,45.29 590.52,43.53 590.52,47.05" fill="#fff" stroke="#008b00" stroke-width="1.0"/>
<text x="600.8" y="47.79" font-size="7.6" text-anchor="start" font-style="italic" fill="#000" >0.08</text>
<polyline points="581.5,52.52 591.8,52.52" fill="none" stroke="#f0f" stroke-width="1" stroke-linejoin="round" />
<polygon points="581.5,50.68 583.34,52.52 581.5,54.36 579.66,52.52" fill="#fff" stroke="#f0f" stroke-width="1.0"/>
<polygon points="591.8,50.68 593.64,52.52 591.8,54.36 589.96,52.52" fill="#fff" stroke="#f0f" stroke-width="1.0"/>
<text x="600.8" y="55.02" font-size="7.6" text-anchor="start" font-style="italic" fill="#000" >0.10</text>
<polyline points="581.5,59.75 591.8,59.75" fill="none" stroke="#0ff" stroke-width="1" stroke-linejoin="round" />
<circle cx="581.5" cy="59.75" r="1.6" fill="#fff" stroke="#0ff" stroke-width="1.0"/>
<circle cx="591.8" cy="59.75" r="1.6" fill="#fff" stroke="#0ff" stroke-width="1.0"/>
<text x="600.8" y="62.25" font-size="7.6" text-anchor="start" font-style="italic" fill="#000" >0.15</text>
<polyline points="581.5,66.98 591.8,66.98" fill="none" stroke="#ff0" stroke-width="1" stroke-linejoin="round" />
<polygon points="581.5,68.74 583.26,65.7 579.74,65.7" fill="#ff0" stroke="#ff0" stroke-width="1.0"/>
<polygon points="591.8,68.74 593.56,65.7 590.04,65.7" fill="#ff0" stroke="#ff0" stroke-width="1.0"/>
<text x="600.8" y="69.48" font-size="7.6" text-anchor="start" font-style="italic" fill="#000" >0.20</text>
<polyline points="581.5,74.21 591.8,74.21" fill="none" stroke="#670748" stroke-width="1" stroke-linejoin="round" />
<rect x="579.9" y="72.61" width="3.2" height="3.2" fill="#fff" stroke="#670748" stroke-width="1.0"/>
<rect x="590.2" y="72.61" width="3.2" height="3.2" fill="#fff" stroke="#670748" stroke-width="1.0"/>
<text x="600.8" y="76.71" font-size="7.6" text-anchor="start" font-style="italic" fill="#000" >0.25</text>
<clipPath id="cC"><rect x="205.8" y="280.4" width="308.8" height="242.39999999999998"/></clipPath>
<g clip-path="url(#cC)">
<polyline points="268.4,323.4 305,326.5 344,330.1 377.5,343.6 404.4,353.7 427.9,363.7 448,375.5 461.4,382.2 468.2,390.6 470.5,398 471.5,404 473.5,410 478.2,414.1 477.5,420 474.2,427.8 462.6,446.5 448.2,459.5 425.2,472.5 399.2,482.5 373.3,491.2 347.3,498.4 330,502.7 300,509 275,514 260.4,516.8" fill="none" stroke="#1ee01e" stroke-width="1.7" stroke-linejoin="round" />
<polyline points="246.2,523.4 497.2,466.1" fill="none" stroke="#000" stroke-width="1.0" stroke-dasharray="4,2.5" stroke-linejoin="round" />
<polyline points="212.5,337 215,350 217.3,369.8 221,390 224,410 227.1,428.5 229.5,450 232,465 235.5,480 239.5,493.9 244,503 249.5,511.4 254,515.5 259.3,518" fill="none" stroke="#1ee01e" stroke-width="1.8" stroke-dasharray="7,4" stroke-linejoin="round" />
<polyline points="209.8,331.3 212,342 214.5,355 216.7,363.7 219,374.3 223,395 226,410 229.6,430 231.5,445 233.1,450.2 238,461 244,469.9 252,477 263.7,483 276.8,483 289.9,478.6 298,474 305.2,467.7 310.6,457.9 313.9,445.9 314.2,441" fill="none" stroke="#00f" stroke-width="1.8" stroke-dasharray="7,4" stroke-linejoin="round" />
<polyline points="228.6,338.6 233,342 241,349.4 252,357.5 262,365.1 265.5,369.6 272,376 279.1,383.2 285,388 292.7,394.7 298,398.5 304,404 307,408 309.2,412.4 311.5,417 313.4,420.8" fill="none" stroke="#00f" stroke-width="1.8" stroke-linejoin="round" />
<polyline points="228.6,338.6 229.4,343.5" fill="none" stroke="#00f" stroke-width="1.8" stroke-linejoin="round" />
<polyline points="225,304.7 248.2,286.3 250,279.8" fill="none" stroke="#f7a72a" stroke-width="1.8" stroke-linejoin="round" />
<polyline points="216,323.5 219.2,328.3 222,334 226.9,344.6 232,356 236.3,364.9 241.8,374.7 249.1,384.5 254.6,390 259.9,405 266.1,415.2 276.4,427.7 285.5,434.5 292.3,441.4 300,445.9 303,447.5 316.1,456.8 327,465.5 336.8,472" fill="none" stroke="#f7a72a" stroke-width="1.8" stroke-linejoin="round" />
<polyline points="345.6,471 348.7,465.2 373.3,460.9 409.3,453.7 411.5,447 413.6,440.7 422.3,432.1 462.6,419.1 474.2,410.5 495.8,394.6" fill="none" stroke="#f7a72a" stroke-width="1.8" stroke-dasharray="7,4" stroke-linejoin="round" />
<circle cx="215.3" cy="327.5" r="3.3" fill="#fff" stroke="#f7a72a" stroke-width="0.9"/>
<circle cx="219.3" cy="330.7" r="3.3" fill="#fff" stroke="#f7a72a" stroke-width="0.9"/>
<circle cx="220.8" cy="336" r="3.3" fill="#fff" stroke="#f7a72a" stroke-width="0.9"/>
<circle cx="223.5" cy="341.2" r="3.3" fill="#fff" stroke="#f7a72a" stroke-width="0.9"/>
<circle cx="225.6" cy="347" r="3.3" fill="#fff" stroke="#f7a72a" stroke-width="0.9"/>
<circle cx="227.5" cy="352.5" r="3.3" fill="#fff" stroke="#f7a72a" stroke-width="0.9"/>
<circle cx="229.6" cy="372.2" r="3.3" fill="#fff" stroke="#f7a72a" stroke-width="0.9"/>
<circle cx="229.6" cy="377.1" r="3.3" fill="#fff" stroke="#f7a72a" stroke-width="0.9"/>
<circle cx="229.6" cy="382" r="3.3" fill="#fff" stroke="#f7a72a" stroke-width="0.9"/>
<circle cx="229.6" cy="386.9" r="3.3" fill="#fff" stroke="#f7a72a" stroke-width="0.9"/>
<circle cx="229.6" cy="391.8" r="3.3" fill="#fff" stroke="#f7a72a" stroke-width="0.9"/>
<circle cx="229.6" cy="395.5" r="3.3" fill="#fff" stroke="#f7a72a" stroke-width="0.9"/>
<circle cx="229.6" cy="401.6" r="3.3" fill="#fff" stroke="#f7a72a" stroke-width="0.9"/>
<circle cx="229.6" cy="408.3" r="3.3" fill="#fff" stroke="#f7a72a" stroke-width="0.9"/>
<circle cx="229.6" cy="415" r="3.3" fill="#fff" stroke="#f7a72a" stroke-width="0.9"/>
<polygon points="209.3,320.24 211.66,322.6 209.3,324.96 206.94,322.6" fill="#fff" stroke="#00f" stroke-width="1.35"/>
<polygon points="213.2,322.84 215.56,325.2 213.2,327.56 210.84,325.2" fill="#fff" stroke="#00f" stroke-width="1.35"/>
<polygon points="217.2,326.64 219.56,329 217.2,331.36 214.84,329" fill="#fff" stroke="#00f" stroke-width="1.35"/>
<polygon points="221.4,334.14 223.76,336.5 221.4,338.86 219.04,336.5" fill="#fff" stroke="#00f" stroke-width="1.35"/>
<polygon points="223.1,339.74 225.46,342.1 223.1,344.46 220.74,342.1" fill="#fff" stroke="#00f" stroke-width="1.35"/>
<polygon points="225,346.44 227.36,348.8 225,351.16 222.64,348.8" fill="#fff" stroke="#00f" stroke-width="1.35"/>
<polygon points="229,374.14 231.36,376.5 229,378.86 226.64,376.5" fill="#fff" stroke="#00f" stroke-width="1.35"/>
<polygon points="229,377.24 231.36,379.6 229,381.96 226.64,379.6" fill="#fff" stroke="#00f" stroke-width="1.35"/>
<polygon points="229,379.64 231.36,382 229,384.36 226.64,382" fill="#fff" stroke="#00f" stroke-width="1.35"/>
<polygon points="229,382.14 231.36,384.5 229,386.86 226.64,384.5" fill="#fff" stroke="#00f" stroke-width="1.35"/>
<polygon points="229,384.54 231.36,386.9 229,389.26 226.64,386.9" fill="#fff" stroke="#00f" stroke-width="1.35"/>
<polygon points="229,387.04 231.36,389.4 229,391.76 226.64,389.4" fill="#fff" stroke="#00f" stroke-width="1.35"/>
<polygon points="229,405.34 231.36,407.7 229,410.06 226.64,407.7" fill="#fff" stroke="#00f" stroke-width="1.35"/>
</g>
<circle cx="228.2" cy="359.6" r="8.9" fill="#ff0" stroke="#000" stroke-width="1.8"/>
<text x="228.3" y="364.5" font-size="14" text-anchor="middle" fill="#000" >A</text>
<text x="309.3" y="325.4" font-size="21.5" text-anchor="start" fill="#000" >TMD</text>
<circle cx="414.9" cy="302.5" r="3.5" fill="#fff" stroke="#f7a72a" stroke-width="1.2"/>
<polygon points="414.9,328.87 417.43,331.4 414.9,333.93 412.37,331.4" fill="#fff" stroke="#00f" stroke-width="1.1"/>
<text x="433.8" y="308.4" font-size="16.5" text-anchor="start" fill="#000" ><tspan font-style="italic">K</tspan><tspan font-size="12" font-style="italic" dx="0.3" dy="6.5">T</tspan><tspan font-size="12.3" font-style="italic" dx="0" dy="-16.2">sMax</tspan><tspan dx="0" dy="9.7">(<tspan font-style="italic">T</tspan>)</tspan></text>
<text x="433.8" y="336.8" font-size="16.5" text-anchor="start" fill="#000" ><tspan font-style="italic">K</tspan><tspan font-size="12" font-style="italic" dx="0.3" dy="6.5">T</tspan><tspan font-size="12.3" font-style="italic" dx="0" dy="-16.2">sMax</tspan><tspan dx="0" dy="9.7">(<tspan font-style="italic">P</tspan>)</tspan></text>
<text transform="translate(235.3,322.3) rotate(-40)" font-size="15.2"><tspan font-style="italic">K</tspan><tspan font-size="11" font-style="italic" dx="-2" dy="5">T</tspan><tspan font-size="9.6" font-style="italic" dx="0" dy="-14.5">wMax</tspan><tspan dx="0" dy="9.5">(<tspan font-style="italic">T</tspan>)</tspan></text>
<text transform="translate(263,352) rotate(40.5)" font-size="16"><tspan font-style="italic">K</tspan><tspan font-size="11.5" font-style="italic" dx="-2" dy="5.5">T</tspan><tspan font-size="9.8" font-style="italic" dx="1" dy="-14">wMax</tspan><tspan dx="0" dy="8.5">(<tspan font-style="italic">P</tspan>)</tspan></text>
<text transform="translate(241.8,420.5) rotate(43)" font-size="16.4"><tspan font-style="italic">K</tspan><tspan font-size="11.5" font-style="italic" dx="-2" dy="6">T</tspan><tspan font-size="10" font-style="italic" dx="1" dy="-14.5">wMax</tspan><tspan dx="0" dy="8.5">(<tspan font-style="italic">T</tspan>)</tspan></text>
<text transform="translate(384,445.2) rotate(-16)" font-size="16"><tspan font-style="italic">K</tspan><tspan font-size="11.5" font-style="italic" dx="-1" dy="4.5">T</tspan><tspan font-size="11" font-style="italic" dx="0.5" dy="-15.5">min</tspan><tspan dx="1" dy="8">(<tspan font-style="italic">T</tspan>)</tspan></text>
<text x="218.4" y="499.2" font-size="16" text-anchor="start" fill="#000" ><tspan font-style="italic">K</tspan><tspan font-size="12" font-style="italic" dx="-0.5" dy="6">T</tspan><tspan font-size="11" font-style="italic" dx="0" dy="-16.5">min</tspan><tspan dx="0" dy="10.5">(<tspan font-style="italic">P</tspan>)</tspan></text>
<text transform="translate(390.5,511) rotate(-13.8)" font-size="21.3">LG Spinodal</text>
</svg>
</body></html>
